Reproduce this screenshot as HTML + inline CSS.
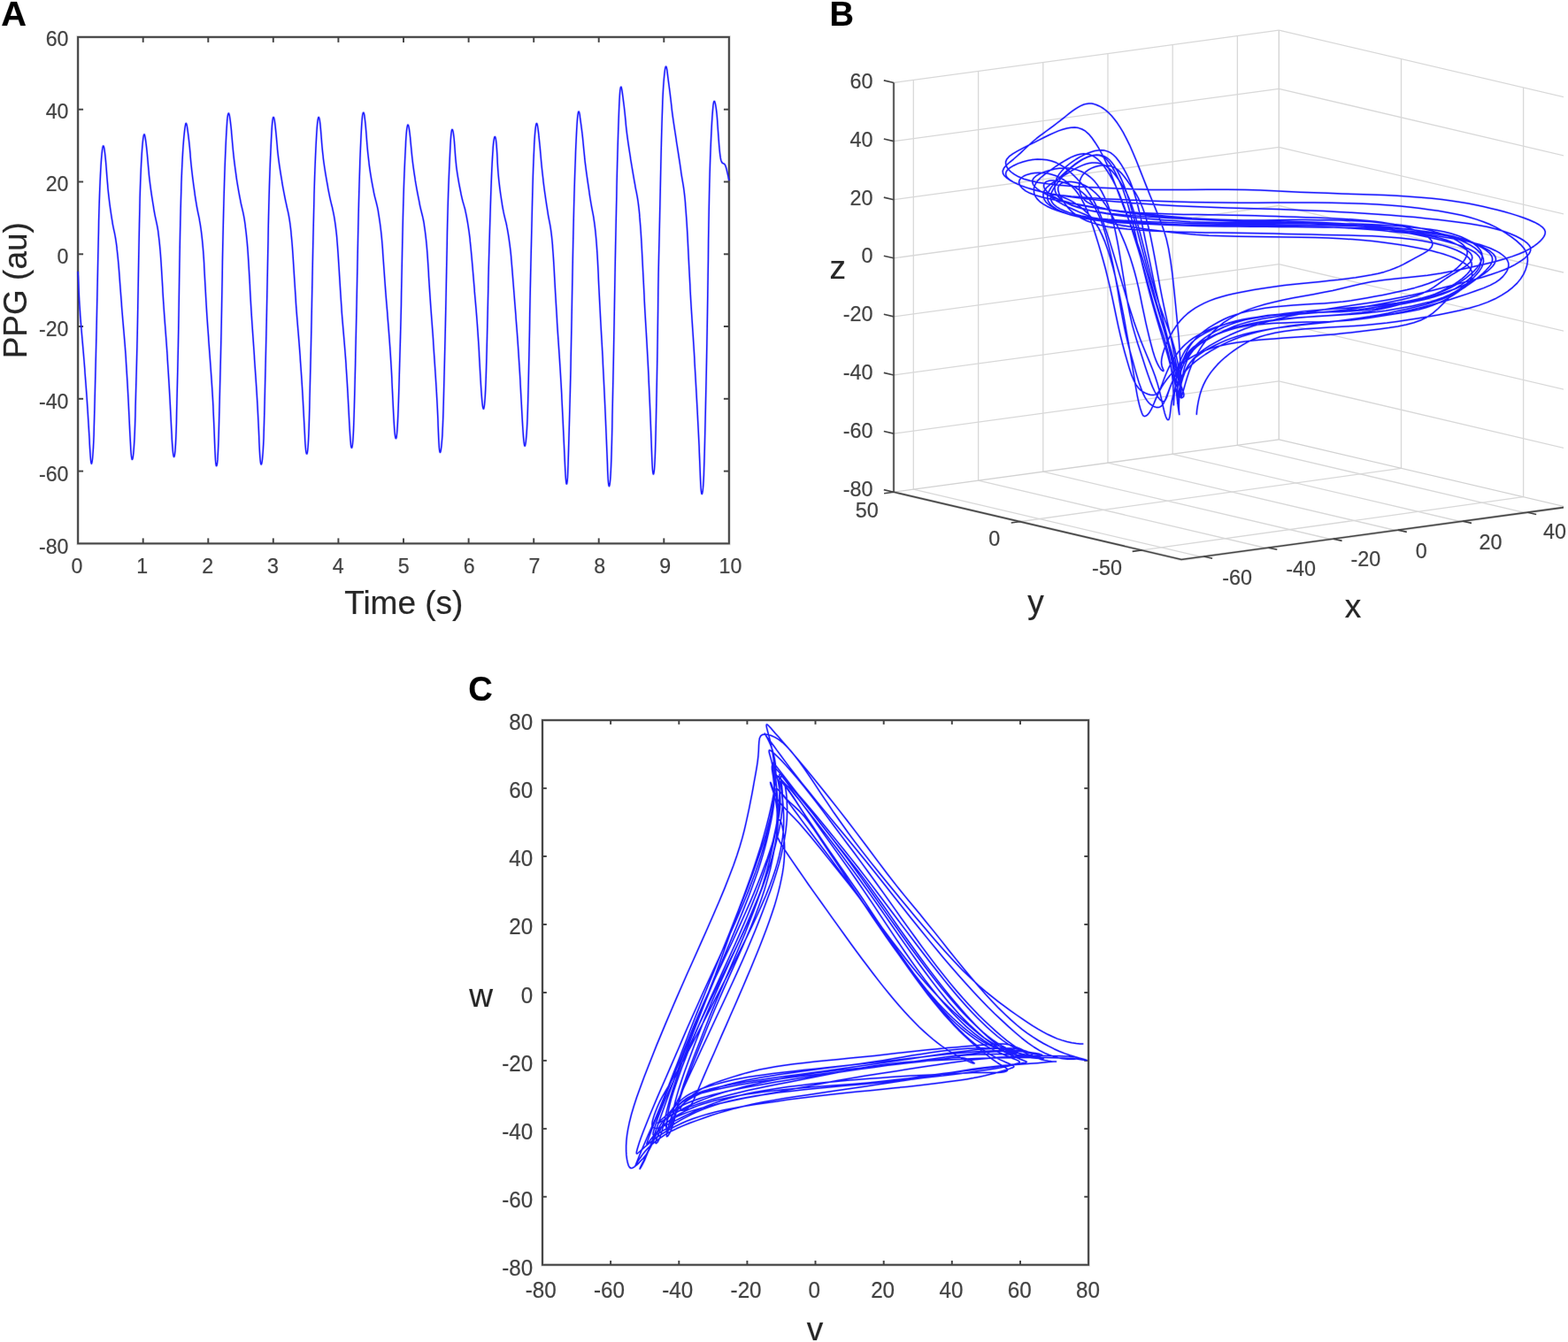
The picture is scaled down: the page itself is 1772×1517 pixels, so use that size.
<!DOCTYPE html>
<html lang="en"><head><meta charset="utf-8"><title>PPG signal and attractor reconstruction</title>
<style>
html,body{margin:0;padding:0;background:#fff;}
body{width:1772px;height:1517px;overflow:hidden;}
svg{display:block;font-family:'Liberation Sans', Arial, Helvetica, sans-serif;}
</style></head><body>
<svg width="1772" height="1517" viewBox="0 0 1772 1517">

<rect width="1772" height="1517" fill="#fff"/>
<g>
<text transform="translate(1.3 29) scale(1.03 1.0)" font-size="38.6" text-anchor="start" fill="#000" stroke="#000" stroke-width="0.7" stroke-opacity="0.3" font-weight="bold">A</text>
<text transform="translate(937.6 29.1)" font-size="38.0" text-anchor="start" fill="#000" stroke="#000" stroke-width="0.7" stroke-opacity="0.3" font-weight="bold">B</text>
<text transform="translate(529.3 791.7)" font-size="38.0" text-anchor="start" fill="#000" stroke="#000" stroke-width="0.7" stroke-opacity="0.3" font-weight="bold">C</text>
<rect x="88.1" y="41.9" width="735.8" height="572.5" fill="none" stroke="#444444" stroke-width="3.6" stroke-opacity="0.2"/>
<rect x="88.1" y="41.9" width="735.8" height="572.5" fill="none" stroke="#444444" stroke-width="1.95"/>
<line x1="161.7" y1="614.4" x2="161.7" y2="608.4" stroke="#444444" stroke-width="1.95"/>
<line x1="161.7" y1="41.9" x2="161.7" y2="47.9" stroke="#444444" stroke-width="1.95"/>
<line x1="235.3" y1="614.4" x2="235.3" y2="608.4" stroke="#444444" stroke-width="1.95"/>
<line x1="235.3" y1="41.9" x2="235.3" y2="47.9" stroke="#444444" stroke-width="1.95"/>
<line x1="308.8" y1="614.4" x2="308.8" y2="608.4" stroke="#444444" stroke-width="1.95"/>
<line x1="308.8" y1="41.9" x2="308.8" y2="47.9" stroke="#444444" stroke-width="1.95"/>
<line x1="382.4" y1="614.4" x2="382.4" y2="608.4" stroke="#444444" stroke-width="1.95"/>
<line x1="382.4" y1="41.9" x2="382.4" y2="47.9" stroke="#444444" stroke-width="1.95"/>
<line x1="456" y1="614.4" x2="456" y2="608.4" stroke="#444444" stroke-width="1.95"/>
<line x1="456" y1="41.9" x2="456" y2="47.9" stroke="#444444" stroke-width="1.95"/>
<line x1="529.6" y1="614.4" x2="529.6" y2="608.4" stroke="#444444" stroke-width="1.95"/>
<line x1="529.6" y1="41.9" x2="529.6" y2="47.9" stroke="#444444" stroke-width="1.95"/>
<line x1="603.2" y1="614.4" x2="603.2" y2="608.4" stroke="#444444" stroke-width="1.95"/>
<line x1="603.2" y1="41.9" x2="603.2" y2="47.9" stroke="#444444" stroke-width="1.95"/>
<line x1="676.7" y1="614.4" x2="676.7" y2="608.4" stroke="#444444" stroke-width="1.95"/>
<line x1="676.7" y1="41.9" x2="676.7" y2="47.9" stroke="#444444" stroke-width="1.95"/>
<line x1="750.3" y1="614.4" x2="750.3" y2="608.4" stroke="#444444" stroke-width="1.95"/>
<line x1="750.3" y1="41.9" x2="750.3" y2="47.9" stroke="#444444" stroke-width="1.95"/>
<text transform="translate(86.9 647.9) scale(1.0 1.05)" font-size="23.2" text-anchor="middle" fill="#424242" stroke="#424242" stroke-width="0.7" stroke-opacity="0.3">0</text>
<text transform="translate(160.8 647.9) scale(1.0 1.05)" font-size="23.2" text-anchor="middle" fill="#424242" stroke="#424242" stroke-width="0.7" stroke-opacity="0.3">1</text>
<text transform="translate(234.6 647.9) scale(1.0 1.05)" font-size="23.2" text-anchor="middle" fill="#424242" stroke="#424242" stroke-width="0.7" stroke-opacity="0.3">2</text>
<text transform="translate(308.5 647.9) scale(1.0 1.05)" font-size="23.2" text-anchor="middle" fill="#424242" stroke="#424242" stroke-width="0.7" stroke-opacity="0.3">3</text>
<text transform="translate(382.3 647.9) scale(1.0 1.05)" font-size="23.2" text-anchor="middle" fill="#424242" stroke="#424242" stroke-width="0.7" stroke-opacity="0.3">4</text>
<text transform="translate(456.2 647.9) scale(1.0 1.05)" font-size="23.2" text-anchor="middle" fill="#424242" stroke="#424242" stroke-width="0.7" stroke-opacity="0.3">5</text>
<text transform="translate(530.1 647.9) scale(1.0 1.05)" font-size="23.2" text-anchor="middle" fill="#424242" stroke="#424242" stroke-width="0.7" stroke-opacity="0.3">6</text>
<text transform="translate(603.9 647.9) scale(1.0 1.05)" font-size="23.2" text-anchor="middle" fill="#424242" stroke="#424242" stroke-width="0.7" stroke-opacity="0.3">7</text>
<text transform="translate(677.8 647.9) scale(1.0 1.05)" font-size="23.2" text-anchor="middle" fill="#424242" stroke="#424242" stroke-width="0.7" stroke-opacity="0.3">8</text>
<text transform="translate(751.6 647.9) scale(1.0 1.05)" font-size="23.2" text-anchor="middle" fill="#424242" stroke="#424242" stroke-width="0.7" stroke-opacity="0.3">9</text>
<text transform="translate(825.5 647.9) scale(1.0 1.05)" font-size="23.2" text-anchor="middle" fill="#424242" stroke="#424242" stroke-width="0.7" stroke-opacity="0.3">10</text>
<text transform="translate(77.5 51.6) scale(1.0 1.05)" font-size="23.2" text-anchor="end" fill="#424242" stroke="#424242" stroke-width="0.7" stroke-opacity="0.3">60</text>
<line x1="88.1" y1="123.7" x2="94.1" y2="123.7" stroke="#444444" stroke-width="1.95"/>
<line x1="823.9" y1="123.7" x2="817.9" y2="123.7" stroke="#444444" stroke-width="1.95"/>
<text transform="translate(77.5 133.7) scale(1.0 1.05)" font-size="23.2" text-anchor="end" fill="#424242" stroke="#424242" stroke-width="0.7" stroke-opacity="0.3">40</text>
<line x1="88.1" y1="205.5" x2="94.1" y2="205.5" stroke="#444444" stroke-width="1.95"/>
<line x1="823.9" y1="205.5" x2="817.9" y2="205.5" stroke="#444444" stroke-width="1.95"/>
<text transform="translate(77.5 215.7) scale(1.0 1.05)" font-size="23.2" text-anchor="end" fill="#424242" stroke="#424242" stroke-width="0.7" stroke-opacity="0.3">20</text>
<line x1="88.1" y1="287.3" x2="94.1" y2="287.3" stroke="#444444" stroke-width="1.95"/>
<line x1="823.9" y1="287.3" x2="817.9" y2="287.3" stroke="#444444" stroke-width="1.95"/>
<text transform="translate(77.5 297.8) scale(1.0 1.05)" font-size="23.2" text-anchor="end" fill="#424242" stroke="#424242" stroke-width="0.7" stroke-opacity="0.3">0</text>
<line x1="88.1" y1="369" x2="94.1" y2="369" stroke="#444444" stroke-width="1.95"/>
<line x1="823.9" y1="369" x2="817.9" y2="369" stroke="#444444" stroke-width="1.95"/>
<text transform="translate(77.5 379.9) scale(1.0 1.05)" font-size="23.2" text-anchor="end" fill="#424242" stroke="#424242" stroke-width="0.7" stroke-opacity="0.3">-20</text>
<line x1="88.1" y1="450.8" x2="94.1" y2="450.8" stroke="#444444" stroke-width="1.95"/>
<line x1="823.9" y1="450.8" x2="817.9" y2="450.8" stroke="#444444" stroke-width="1.95"/>
<text transform="translate(77.5 462) scale(1.0 1.05)" font-size="23.2" text-anchor="end" fill="#424242" stroke="#424242" stroke-width="0.7" stroke-opacity="0.3">-40</text>
<line x1="88.1" y1="532.6" x2="94.1" y2="532.6" stroke="#444444" stroke-width="1.95"/>
<line x1="823.9" y1="532.6" x2="817.9" y2="532.6" stroke="#444444" stroke-width="1.95"/>
<text transform="translate(77.5 544) scale(1.0 1.05)" font-size="23.2" text-anchor="end" fill="#424242" stroke="#424242" stroke-width="0.7" stroke-opacity="0.3">-60</text>
<text transform="translate(77.5 626.1) scale(1.0 1.05)" font-size="23.2" text-anchor="end" fill="#424242" stroke="#424242" stroke-width="0.7" stroke-opacity="0.3">-80</text>
<text transform="translate(456.3 693.5)" font-size="37.0" text-anchor="middle" fill="#262626" stroke="#262626" stroke-width="0.7" stroke-opacity="0.3">Time (s)</text>
<text transform="translate(29.7 328.2) rotate(-90)" font-size="37.0" text-anchor="middle" fill="#262626" stroke="#262626" stroke-width="0.7" stroke-opacity="0.3">PPG (au)</text>
<path d="M88.1 307.5 L88.4 312.5 L88.7 319.2 L89 326.5 L89.3 333.4 L89.6 339.2 L89.9 344.2 L90.2 348.6 L90.5 352.7 L90.7 356.6 L91 360.4 L91.3 364.1 L91.6 367.7 L91.9 371.3 L92.2 374.8 L92.5 378.3 L92.8 381.7 L93.1 385.2 L93.4 388.6 L93.7 392.1 L94 395.6 L94.3 399.1 L94.6 402.7 L94.9 406.3 L95.2 410 L95.5 413.7 L95.8 417.4 L96 421.2 L96.3 425 L96.6 428.9 L96.9 432.8 L97.2 436.7 L97.5 440.8 L97.8 444.9 L98.1 449.2 L98.4 453.6 L98.7 458.1 L99 462.8 L99.3 467.5 L99.6 472.4 L99.9 477.2 L100.2 482.1 L100.5 487.1 L100.8 492 L101.1 497.1 L101.3 502.2 L101.6 507.1 L101.9 511.8 L102.2 516 L102.5 519.5 L102.8 522.1 L103.1 523.7 L103.4 524.2 L103.7 523.7 L104 522.4 L104.3 520.4 L104.6 517.6 L104.9 514.2 L105.2 510 L105.5 505 L105.8 499 L106.1 491.6 L106.3 482.7 L106.6 472.4 L106.9 461 L107.2 449.1 L107.5 437 L107.8 424.9 L108.1 412.9 L108.4 400.7 L108.7 388 L109 374.9 L109.3 361.2 L109.6 347 L109.9 332.5 L110.2 318 L110.5 303.5 L110.8 289.2 L111.1 275.5 L111.4 262.5 L111.6 250.4 L111.9 239.3 L112.2 229.4 L112.5 220.7 L112.8 212.8 L113.1 205.8 L113.4 199.4 L113.7 193.6 L114 188.3 L114.3 183.5 L114.6 179.3 L114.9 175.7 L115.2 172.7 L115.5 170.1 L115.8 168.1 L116.1 166.5 L116.4 165.4 L116.6 164.9 L116.9 164.9 L117.2 165.4 L117.5 166.4 L117.8 167.9 L118.1 169.8 L118.4 172 L118.7 174.4 L119 177.2 L119.3 180.1 L119.6 183.4 L119.9 187 L120.2 190.9 L120.5 194.9 L120.8 198.9 L121.1 202.6 L121.4 206.1 L121.7 209.4 L121.9 212.5 L122.2 215.4 L122.5 218.2 L122.8 220.9 L123.1 223.5 L123.4 226 L123.7 228.5 L124 230.8 L124.3 233.1 L124.6 235.3 L124.9 237.4 L125.2 239.5 L125.5 241.5 L125.8 243.5 L126.1 245.4 L126.4 247.3 L126.7 249.1 L127 250.9 L127.2 252.6 L127.5 254.2 L127.8 255.7 L128.1 257.2 L128.4 258.6 L128.7 260 L129 261.3 L129.3 262.7 L129.6 264.2 L129.9 265.7 L130.2 267.3 L130.5 269 L130.8 270.8 L131.1 272.8 L131.4 274.9 L131.7 277.1 L132 279.4 L132.2 281.9 L132.5 284.5 L132.8 287.2 L133.1 290 L133.4 293 L133.7 296.2 L134 299.5 L134.3 303.1 L134.6 306.9 L134.9 310.9 L135.2 315 L135.5 319.1 L135.8 323.2 L136.1 327.1 L136.4 331 L136.7 334.9 L137 338.6 L137.3 342.4 L137.5 346.1 L137.8 349.8 L138.1 353.4 L138.4 357 L138.7 360.6 L139 364.1 L139.3 367.6 L139.6 371.1 L139.9 374.5 L140.2 378 L140.5 381.6 L140.8 385.2 L141.1 388.9 L141.4 392.7 L141.7 396.6 L142 400.7 L142.3 405 L142.5 409.4 L142.8 413.9 L143.1 418.6 L143.4 423.4 L143.7 428.3 L144 433.4 L144.3 438.7 L144.6 444.2 L144.9 449.9 L145.2 455.8 L145.5 462 L145.8 468.3 L146.1 474.7 L146.4 481 L146.7 487.2 L147 493.1 L147.3 498.7 L147.6 503.8 L147.8 508.2 L148.1 512 L148.4 515 L148.7 517.2 L149 518.7 L149.3 519.4 L149.6 519.3 L149.9 518.5 L150.2 517.1 L150.5 515 L150.8 512.3 L151.1 509 L151.4 505.1 L151.7 500.4 L152 494.8 L152.3 488 L152.6 479.8 L152.9 470.2 L153.1 459.7 L153.4 448.7 L153.7 437.6 L154 426.6 L154.3 415.5 L154.6 404.1 L154.9 391.7 L155.2 377.9 L155.5 362.6 L155.8 345.8 L156.1 328.3 L156.4 310.8 L156.7 293.8 L157 277.7 L157.3 262.5 L157.6 248.5 L157.9 235.8 L158.1 224.5 L158.4 214.6 L158.7 206 L159 198.4 L159.3 191.6 L159.6 185.4 L159.9 179.9 L160.2 174.8 L160.5 170.2 L160.8 166.2 L161.1 162.7 L161.4 159.7 L161.7 157.1 L162 155.1 L162.3 153.5 L162.6 152.4 L162.9 151.9 L163.2 151.9 L163.4 152.4 L163.7 153.4 L164 154.8 L164.3 156.6 L164.6 158.6 L164.9 160.9 L165.2 163.3 L165.5 165.9 L165.8 168.6 L166.1 171.5 L166.4 174.7 L166.7 178 L167 181.5 L167.3 185 L167.6 188.4 L167.9 191.7 L168.2 194.7 L168.4 197.6 L168.7 200.3 L169 202.9 L169.3 205.4 L169.6 207.8 L169.9 210.1 L170.2 212.4 L170.5 214.6 L170.8 216.7 L171.1 218.8 L171.4 220.8 L171.7 222.8 L172 224.7 L172.3 226.6 L172.6 228.5 L172.9 230.3 L173.2 232.1 L173.5 233.9 L173.7 235.6 L174 237.3 L174.3 239 L174.6 240.7 L174.9 242.3 L175.2 243.8 L175.5 245.3 L175.8 246.7 L176.1 248.1 L176.4 249.4 L176.7 250.8 L177 252.2 L177.3 253.6 L177.6 255.1 L177.9 256.7 L178.2 258.4 L178.5 260.2 L178.8 262.2 L179 264.3 L179.3 266.6 L179.6 269 L179.9 271.7 L180.2 274.5 L180.5 277.4 L180.8 280.6 L181.1 284 L181.4 287.7 L181.7 291.7 L182 296.1 L182.3 300.8 L182.6 305.8 L182.9 310.8 L183.2 315.8 L183.5 320.8 L183.8 325.7 L184 330.4 L184.3 335.1 L184.6 339.8 L184.9 344.3 L185.2 348.8 L185.5 353.1 L185.8 357.3 L186.1 361.4 L186.4 365.4 L186.7 369.3 L187 373.3 L187.3 377.2 L187.6 381.1 L187.9 385.2 L188.2 389.3 L188.5 393.5 L188.8 397.8 L189.1 402.2 L189.3 406.6 L189.6 411.2 L189.9 415.8 L190.2 420.4 L190.5 425.2 L190.8 430.1 L191.1 435.1 L191.4 440.2 L191.7 445.6 L192 451.2 L192.3 456.9 L192.6 462.8 L192.9 468.8 L193.2 474.8 L193.5 480.6 L193.8 486.2 L194.1 491.5 L194.3 496.4 L194.6 500.9 L194.9 504.9 L195.2 508.5 L195.5 511.4 L195.8 513.7 L196.1 515.3 L196.4 516.2 L196.7 516.4 L197 515.8 L197.3 514.6 L197.6 512.6 L197.9 509.8 L198.2 506 L198.5 501.1 L198.8 494.9 L199.1 487.2 L199.4 477.9 L199.6 467.2 L199.9 455.4 L200.2 443 L200.5 430.5 L200.8 417.8 L201.1 404.6 L201.4 390.3 L201.7 374.1 L202 356 L202.3 336.6 L202.6 317.1 L202.9 298.4 L203.2 281.2 L203.5 265.6 L203.8 251.5 L204.1 238.9 L204.4 227.6 L204.7 217.6 L204.9 208.6 L205.2 200.5 L205.5 193.3 L205.8 186.7 L206.1 180.6 L206.4 175.1 L206.7 170 L207 165.5 L207.3 161.5 L207.6 157.8 L207.9 154.4 L208.2 151.4 L208.5 148.6 L208.8 146.1 L209.1 143.9 L209.4 142.1 L209.7 140.7 L209.9 139.8 L210.2 139.4 L210.5 139.6 L210.8 140.3 L211.1 141.4 L211.4 142.9 L211.7 144.8 L212 146.8 L212.3 149 L212.6 151.4 L212.9 153.7 L213.2 156.2 L213.5 158.7 L213.8 161.4 L214.1 164.3 L214.4 167.3 L214.7 170.6 L215 173.9 L215.2 177.3 L215.5 180.5 L215.8 183.7 L216.1 186.7 L216.4 189.5 L216.7 192.3 L217 194.9 L217.3 197.5 L217.6 200 L217.9 202.4 L218.2 204.7 L218.5 207 L218.8 209.3 L219.1 211.5 L219.4 213.6 L219.7 215.7 L220 217.8 L220.2 219.8 L220.5 221.7 L220.8 223.7 L221.1 225.6 L221.4 227.4 L221.7 229.2 L222 231 L222.3 232.8 L222.6 234.5 L222.9 236.1 L223.2 237.7 L223.5 239.2 L223.8 240.6 L224.1 242 L224.4 243.4 L224.7 244.8 L225 246.2 L225.3 247.7 L225.5 249.2 L225.8 250.8 L226.1 252.5 L226.4 254.3 L226.7 256.3 L227 258.3 L227.3 260.6 L227.6 262.9 L227.9 265.4 L228.2 268.1 L228.5 270.9 L228.8 273.9 L229.1 277.1 L229.4 280.5 L229.7 284.1 L230 288.2 L230.3 292.6 L230.6 297.5 L230.8 302.6 L231.1 308 L231.4 313.5 L231.7 318.9 L232 324.4 L232.3 329.8 L232.6 335.2 L232.9 340.5 L233.2 345.7 L233.5 350.8 L233.8 355.6 L234.1 360.2 L234.4 364.5 L234.7 368.8 L235 372.8 L235.3 376.8 L235.6 380.8 L235.8 384.7 L236.1 388.7 L236.4 392.6 L236.7 396.6 L237 400.7 L237.3 404.8 L237.6 408.9 L237.9 413 L238.2 417.2 L238.5 421.4 L238.8 425.6 L239.1 429.9 L239.4 434.4 L239.7 438.9 L240 443.6 L240.3 448.6 L240.6 453.8 L240.9 459.4 L241.1 465.3 L241.4 471.6 L241.7 478.3 L242 485.4 L242.3 493.1 L242.6 500.9 L242.9 508.4 L243.2 514.8 L243.5 519.7 L243.8 523.2 L244.1 525.3 L244.4 526.5 L244.7 526.7 L245 526.2 L245.3 524.9 L245.6 522.9 L245.9 519.9 L246.1 515.9 L246.4 510.8 L246.7 504.2 L247 496.1 L247.3 486.4 L247.6 475.4 L247.9 463.5 L248.2 451.2 L248.5 438.9 L248.8 426.9 L249.1 415.1 L249.4 403 L249.7 390.1 L250 376.3 L250.3 361.1 L250.6 345 L250.9 328.4 L251.2 312 L251.4 296.2 L251.7 281.2 L252 267 L252.3 253.7 L252.6 241.3 L252.9 229.5 L253.2 218.5 L253.5 208.2 L253.8 198.6 L254.1 189.8 L254.4 181.8 L254.7 174.3 L255 167.4 L255.3 160.8 L255.6 154.7 L255.9 149.1 L256.2 144.2 L256.5 139.9 L256.7 136.4 L257 133.5 L257.3 131.3 L257.6 129.6 L257.9 128.6 L258.2 128.1 L258.5 128.1 L258.8 128.6 L259.1 129.6 L259.4 131 L259.7 132.8 L260 134.8 L260.3 137.1 L260.6 139.6 L260.9 142.2 L261.2 144.9 L261.5 147.8 L261.7 150.9 L262 154.1 L262.3 157.5 L262.6 161 L262.9 164.4 L263.2 167.7 L263.5 170.8 L263.8 173.8 L264.1 176.6 L264.4 179.3 L264.7 181.9 L265 184.3 L265.3 186.7 L265.6 189 L265.9 191.3 L266.2 193.5 L266.5 195.6 L266.8 197.7 L267 199.7 L267.3 201.7 L267.6 203.6 L267.9 205.5 L268.2 207.3 L268.5 209.2 L268.8 210.9 L269.1 212.7 L269.4 214.4 L269.7 216.1 L270 217.8 L270.3 219.4 L270.6 221 L270.9 222.6 L271.2 224.2 L271.5 225.7 L271.8 227.2 L272 228.6 L272.3 229.9 L272.6 231.3 L272.9 232.5 L273.2 233.8 L273.5 235 L273.8 236.3 L274.1 237.6 L274.4 238.9 L274.7 240.2 L275 241.7 L275.3 243.2 L275.6 244.7 L275.9 246.4 L276.2 248.2 L276.5 250.1 L276.8 252.1 L277.1 254.2 L277.3 256.4 L277.6 258.7 L277.9 261.1 L278.2 263.7 L278.5 266.4 L278.8 269.3 L279.1 272.3 L279.4 275.6 L279.7 279.1 L280 283 L280.3 287.3 L280.6 291.9 L280.9 296.7 L281.2 301.7 L281.5 306.9 L281.8 312 L282.1 317.2 L282.4 322.5 L282.6 327.8 L282.9 333.1 L283.2 338.4 L283.5 343.6 L283.8 348.7 L284.1 353.6 L284.4 358.4 L284.7 363 L285 367.5 L285.3 371.9 L285.6 376.2 L285.9 380.5 L286.2 384.9 L286.5 389.2 L286.8 393.5 L287.1 397.9 L287.4 402.2 L287.6 406.5 L287.9 410.8 L288.2 415.1 L288.5 419.4 L288.8 423.7 L289.1 428.1 L289.4 432.5 L289.7 437 L290 441.6 L290.3 446.5 L290.6 451.5 L290.9 456.8 L291.2 462.4 L291.5 468.2 L291.8 474.2 L292.1 480.4 L292.4 486.9 L292.7 493.5 L292.9 500.1 L293.2 506.3 L293.5 511.8 L293.8 516.4 L294.1 519.8 L294.4 522.4 L294.7 524 L295 524.9 L295.3 525 L295.6 524.4 L295.9 523.2 L296.2 521.3 L296.5 518.8 L296.8 515.6 L297.1 511.8 L297.4 507.3 L297.7 502 L298 495.5 L298.2 487.4 L298.5 477.8 L298.8 466.7 L299.1 454.5 L299.4 441.9 L299.7 429.1 L300 416.3 L300.3 403.5 L300.6 390.4 L300.9 376.9 L301.2 362.9 L301.5 348.3 L301.8 333.4 L302.1 318.2 L302.4 303 L302.7 287.8 L303 272.9 L303.2 258.7 L303.5 245.3 L303.8 233 L304.1 221.7 L304.4 211.4 L304.7 202 L305 193.5 L305.3 185.8 L305.6 178.6 L305.9 171.7 L306.2 165.1 L306.5 158.6 L306.8 152.5 L307.1 147.1 L307.4 142.6 L307.7 139.1 L308 136.4 L308.3 134.5 L308.5 133.3 L308.8 132.6 L309.1 132.5 L309.4 132.8 L309.7 133.7 L310 134.9 L310.3 136.5 L310.6 138.5 L310.9 140.9 L311.2 143.5 L311.5 146.3 L311.8 149.3 L312.1 152.4 L312.4 155.6 L312.7 159 L313 162.3 L313.3 165.5 L313.5 168.5 L313.8 171.4 L314.1 174.1 L314.4 176.6 L314.7 179.1 L315 181.4 L315.3 183.6 L315.6 185.8 L315.9 187.9 L316.2 189.9 L316.5 191.9 L316.8 193.8 L317.1 195.7 L317.4 197.6 L317.7 199.4 L318 201.2 L318.3 203 L318.6 204.7 L318.8 206.5 L319.1 208.2 L319.4 209.8 L319.7 211.5 L320 213.1 L320.3 214.7 L320.6 216.3 L320.9 217.9 L321.2 219.4 L321.5 221 L321.8 222.5 L322.1 224 L322.4 225.5 L322.7 227 L323 228.4 L323.3 229.7 L323.6 231 L323.9 232.3 L324.1 233.5 L324.4 234.8 L324.7 236 L325 237.3 L325.3 238.6 L325.6 239.9 L325.9 241.4 L326.2 242.9 L326.5 244.5 L326.8 246.3 L327.1 248.1 L327.4 250.1 L327.7 252.2 L328 254.5 L328.3 256.9 L328.6 259.4 L328.9 262.1 L329.1 265 L329.4 267.9 L329.7 271.1 L330 274.5 L330.3 278.2 L330.6 282.2 L330.9 286.5 L331.2 291.1 L331.5 295.8 L331.8 300.6 L332.1 305.4 L332.4 310.1 L332.7 314.9 L333 319.5 L333.3 324.2 L333.6 328.9 L333.9 333.4 L334.2 337.9 L334.4 342.2 L334.7 346.4 L335 350.5 L335.3 354.4 L335.6 358.1 L335.9 361.8 L336.2 365.5 L336.5 369.1 L336.8 372.7 L337.1 376.3 L337.4 379.9 L337.7 383.6 L338 387.4 L338.3 391.2 L338.6 395.1 L338.9 399.1 L339.2 403 L339.4 407.1 L339.7 411.2 L340 415.4 L340.3 419.7 L340.6 424 L340.9 428.5 L341.2 433.1 L341.5 437.8 L341.8 442.8 L342.1 447.9 L342.4 453.2 L342.7 458.7 L343 464.3 L343.3 470 L343.6 475.7 L343.9 481.5 L344.2 487.2 L344.5 492.7 L344.7 497.8 L345 502.2 L345.3 505.8 L345.6 508.7 L345.9 510.9 L346.2 512.3 L346.5 513.1 L346.8 513.1 L347.1 512.4 L347.4 511.1 L347.7 508.9 L348 505.9 L348.3 501.8 L348.6 496.5 L348.9 489.8 L349.2 481.6 L349.5 472 L349.8 461.3 L350 449.9 L350.3 438.2 L350.6 426.3 L350.9 414.2 L351.2 401.7 L351.5 388.6 L351.8 374.6 L352.1 359.8 L352.4 344.5 L352.7 329 L353 313.5 L353.3 298.3 L353.6 283.6 L353.9 269.5 L354.2 256 L354.5 243.3 L354.8 231.4 L355 220.3 L355.3 210 L355.6 200.6 L355.9 192 L356.2 184.2 L356.5 177 L356.8 170.4 L357.1 164.1 L357.4 158.2 L357.7 152.8 L358 148 L358.3 143.9 L358.6 140.5 L358.9 137.7 L359.2 135.5 L359.5 134 L359.8 133 L360.1 132.5 L360.3 132.6 L360.6 133.1 L360.9 134.1 L361.2 135.6 L361.5 137.5 L361.8 139.9 L362.1 142.8 L362.4 146 L362.7 149.6 L363 153.5 L363.3 157.4 L363.6 161.3 L363.9 164.9 L364.2 168.1 L364.5 171.1 L364.8 173.8 L365.1 176.3 L365.3 178.8 L365.6 181 L365.9 183.3 L366.2 185.4 L366.5 187.5 L366.8 189.5 L367.1 191.5 L367.4 193.4 L367.7 195.3 L368 197.1 L368.3 198.9 L368.6 200.7 L368.9 202.4 L369.2 204.1 L369.5 205.8 L369.8 207.5 L370.1 209.1 L370.4 210.7 L370.6 212.3 L370.9 213.8 L371.2 215.4 L371.5 216.9 L371.8 218.4 L372.1 219.9 L372.4 221.3 L372.7 222.8 L373 224.2 L373.3 225.6 L373.6 226.9 L373.9 228.2 L374.2 229.4 L374.5 230.6 L374.8 231.8 L375.1 233 L375.4 234.1 L375.7 235.3 L375.9 236.6 L376.2 237.8 L376.5 239.2 L376.8 240.6 L377.1 242.1 L377.4 243.7 L377.7 245.4 L378 247.2 L378.3 249.1 L378.6 251.1 L378.9 253.2 L379.2 255.4 L379.5 257.8 L379.8 260.3 L380.1 262.9 L380.4 265.7 L380.7 268.6 L380.9 271.8 L381.2 275.2 L381.5 279 L381.8 283.1 L382.1 287.4 L382.4 292 L382.7 296.7 L383 301.5 L383.3 306.3 L383.6 311.1 L383.9 315.9 L384.2 320.8 L384.5 325.6 L384.8 330.4 L385.1 335.1 L385.4 339.7 L385.7 344 L386 348.2 L386.2 352.2 L386.5 356 L386.8 359.8 L387.1 363.4 L387.4 366.9 L387.7 370.4 L388 373.9 L388.3 377.4 L388.6 380.9 L388.9 384.5 L389.2 388.1 L389.5 391.7 L389.8 395.4 L390.1 399.2 L390.4 403.1 L390.7 407 L391 411.1 L391.2 415.3 L391.5 419.7 L391.8 424.2 L392.1 428.9 L392.4 433.8 L392.7 438.9 L393 444.2 L393.3 449.7 L393.6 455.3 L393.9 461 L394.2 466.7 L394.5 472.5 L394.8 478.1 L395.1 483.5 L395.4 488.6 L395.7 493.2 L396 497.1 L396.3 500.3 L396.5 502.9 L396.8 504.7 L397.1 505.8 L397.4 506.2 L397.7 506 L398 505 L398.3 503.2 L398.6 500.6 L398.9 497.1 L399.2 492.4 L399.5 486.4 L399.8 478.9 L400.1 469.8 L400.4 459.5 L400.7 448.1 L401 436.2 L401.3 424.1 L401.6 412 L401.8 399.8 L402.1 387.4 L402.4 374.4 L402.7 360.9 L403 346.7 L403.3 331.9 L403.6 316.7 L403.9 301.4 L404.2 286.1 L404.5 271.3 L404.8 257 L405.1 243.5 L405.4 231 L405.7 219.4 L406 208.7 L406.3 198.9 L406.6 190 L406.8 182 L407.1 174.6 L407.4 167.6 L407.7 161 L408 154.6 L408.3 148.5 L408.6 143.1 L408.9 138.5 L409.2 134.7 L409.5 131.8 L409.8 129.7 L410.1 128.3 L410.4 127.5 L410.7 127.2 L411 127.4 L411.3 128.2 L411.6 129.3 L411.9 130.9 L412.1 132.8 L412.4 135 L412.7 137.6 L413 140.4 L413.3 143.6 L413.6 147.1 L413.9 150.9 L414.2 154.9 L414.5 158.9 L414.8 162.8 L415.1 166.3 L415.4 169.6 L415.7 172.6 L416 175.4 L416.3 178 L416.6 180.6 L416.9 183 L417.1 185.3 L417.4 187.6 L417.7 189.7 L418 191.8 L418.3 193.8 L418.6 195.8 L418.9 197.7 L419.2 199.6 L419.5 201.4 L419.8 203.1 L420.1 204.9 L420.4 206.5 L420.7 208.2 L421 209.8 L421.3 211.3 L421.6 212.9 L421.9 214.4 L422.2 215.9 L422.4 217.3 L422.7 218.7 L423 220 L423.3 221.3 L423.6 222.6 L423.9 223.7 L424.2 224.9 L424.5 226.1 L424.8 227.2 L425.1 228.4 L425.4 229.5 L425.7 230.8 L426 232 L426.3 233.3 L426.6 234.7 L426.9 236.2 L427.2 237.7 L427.5 239.4 L427.7 241 L428 242.8 L428.3 244.7 L428.6 246.6 L428.9 248.6 L429.2 250.7 L429.5 252.9 L429.8 255.2 L430.1 257.5 L430.4 260 L430.7 262.7 L431 265.4 L431.3 268.4 L431.6 271.7 L431.9 275.2 L432.2 278.9 L432.5 282.9 L432.7 286.9 L433 291 L433.3 295.2 L433.6 299.4 L433.9 303.6 L434.2 307.7 L434.5 312 L434.8 316.2 L435.1 320.3 L435.4 324.4 L435.7 328.4 L436 332.4 L436.3 336.2 L436.6 339.9 L436.9 343.5 L437.2 347 L437.5 350.5 L437.8 354 L438 357.5 L438.3 361.1 L438.6 364.7 L438.9 368.4 L439.2 372.1 L439.5 376 L439.8 379.9 L440.1 384 L440.4 388.2 L440.7 392.4 L441 396.8 L441.3 401.4 L441.6 406.1 L441.9 411 L442.2 416 L442.5 421.3 L442.8 426.9 L443 432.7 L443.3 438.7 L443.6 444.9 L443.9 451.2 L444.2 457.4 L444.5 463.5 L444.8 469.5 L445.1 475 L445.4 480 L445.7 484.4 L446 488 L446.3 490.9 L446.6 493.1 L446.9 494.7 L447.2 495.5 L447.5 495.7 L447.8 495.2 L448.1 494.1 L448.3 492.2 L448.6 489.5 L448.9 485.9 L449.2 481.4 L449.5 475.9 L449.8 469.4 L450.1 461.9 L450.4 453.3 L450.7 443.9 L451 433.7 L451.3 423.1 L451.6 412.5 L451.9 401.9 L452.2 391.5 L452.5 380.9 L452.8 369.8 L453.1 358.1 L453.4 345.3 L453.6 331.5 L453.9 316.9 L454.2 302 L454.5 287.1 L454.8 272.7 L455.1 259 L455.4 246.1 L455.7 234.3 L456 223.5 L456.3 213.7 L456.6 204.8 L456.9 196.9 L457.2 189.6 L457.5 183 L457.8 176.8 L458.1 170.8 L458.4 165.1 L458.6 159.9 L458.9 155.2 L459.2 151.3 L459.5 148 L459.8 145.5 L460.1 143.6 L460.4 142.3 L460.7 141.4 L461 141.1 L461.3 141.3 L461.6 142 L461.9 143.1 L462.2 144.6 L462.5 146.4 L462.8 148.6 L463.1 151 L463.4 153.5 L463.7 156.2 L463.9 159.1 L464.2 162 L464.5 165.1 L464.8 168.2 L465.1 171.4 L465.4 174.4 L465.7 177.3 L466 180 L466.3 182.6 L466.6 185 L466.9 187.3 L467.2 189.6 L467.5 191.7 L467.8 193.8 L468.1 195.8 L468.4 197.8 L468.7 199.7 L469 201.6 L469.2 203.4 L469.5 205.2 L469.8 207 L470.1 208.7 L470.4 210.4 L470.7 212.1 L471 213.8 L471.3 215.4 L471.6 217 L471.9 218.6 L472.2 220.2 L472.5 221.7 L472.8 223.2 L473.1 224.7 L473.4 226.2 L473.7 227.7 L474 229.1 L474.2 230.6 L474.5 232 L474.8 233.4 L475.1 234.7 L475.4 236 L475.7 237.2 L476 238.4 L476.3 239.6 L476.6 240.8 L476.9 242 L477.2 243.2 L477.5 244.4 L477.8 245.7 L478.1 247.1 L478.4 248.5 L478.7 250 L479 251.7 L479.3 253.4 L479.5 255.3 L479.8 257.2 L480.1 259.3 L480.4 261.5 L480.7 263.9 L481 266.3 L481.3 269 L481.6 271.7 L481.9 274.7 L482.2 277.8 L482.5 281.3 L482.8 285 L483.1 289.1 L483.4 293.5 L483.7 298.1 L484 302.8 L484.3 307.5 L484.5 312.2 L484.8 316.9 L485.1 321.5 L485.4 326.1 L485.7 330.6 L486 335.1 L486.3 339.5 L486.6 343.9 L486.9 348.1 L487.2 352.2 L487.5 356.3 L487.8 360.2 L488.1 364.2 L488.4 368.1 L488.7 372.1 L489 376.2 L489.3 380.3 L489.6 384.5 L489.8 388.8 L490.1 393.2 L490.4 397.7 L490.7 402.1 L491 406.6 L491.3 411.1 L491.6 415.6 L491.9 420.2 L492.2 424.8 L492.5 429.5 L492.8 434.3 L493.1 439.3 L493.4 444.5 L493.7 449.9 L494 455.4 L494.3 461.2 L494.6 467.4 L494.9 473.9 L495.1 481 L495.4 488.3 L495.7 495.2 L496 501 L496.3 505.5 L496.6 508.5 L496.9 510.3 L497.2 511.2 L497.5 511.4 L497.8 510.8 L498.1 509.7 L498.4 508 L498.7 505.7 L499 503 L499.3 499.8 L499.6 496.2 L499.9 492.1 L500.1 487.1 L500.4 480.9 L500.7 473.1 L501 463.6 L501.3 452.7 L501.6 441 L501.9 429 L502.2 416.8 L502.5 404.6 L502.8 392.3 L503.1 379.5 L503.4 366.2 L503.7 352.2 L504 337.5 L504.3 322.4 L504.6 307.1 L504.9 292 L505.2 277.5 L505.4 263.8 L505.7 251.1 L506 239.5 L506.3 228.9 L506.6 219.3 L506.9 210.6 L507.2 202.8 L507.5 195.6 L507.8 188.9 L508.1 182.3 L508.4 175.8 L508.7 169.4 L509 163.4 L509.3 158.2 L509.6 154.1 L509.9 151.1 L510.2 148.9 L510.4 147.5 L510.7 146.7 L511 146.4 L511.3 146.6 L511.6 147.2 L511.9 148.2 L512.2 149.7 L512.5 151.5 L512.8 153.8 L513.1 156.5 L513.4 159.8 L513.7 163.6 L514 167.8 L514.3 172.2 L514.6 176.3 L514.9 179.9 L515.2 183 L515.5 185.7 L515.7 188.1 L516 190.4 L516.3 192.5 L516.6 194.6 L516.9 196.6 L517.2 198.5 L517.5 200.4 L517.8 202.2 L518.1 203.9 L518.4 205.6 L518.7 207.3 L519 208.9 L519.3 210.5 L519.6 212 L519.9 213.5 L520.2 215 L520.5 216.5 L520.8 217.9 L521 219.3 L521.3 220.6 L521.6 221.9 L521.9 223.2 L522.2 224.5 L522.5 225.7 L522.8 226.9 L523.1 228 L523.4 229 L523.7 230.1 L524 231.1 L524.3 232.1 L524.6 233.2 L524.9 234.2 L525.2 235.3 L525.5 236.5 L525.8 237.7 L526 238.9 L526.3 240.2 L526.6 241.6 L526.9 243.1 L527.2 244.6 L527.5 246.1 L527.8 247.8 L528.1 249.5 L528.4 251.2 L528.7 253 L529 254.9 L529.3 256.8 L529.6 258.8 L529.9 260.9 L530.2 263 L530.5 265.3 L530.8 267.6 L531.1 270.2 L531.3 272.9 L531.6 275.7 L531.9 278.6 L532.2 281.7 L532.5 284.8 L532.8 288 L533.1 291.3 L533.4 294.6 L533.7 298 L534 301.4 L534.3 305 L534.6 308.5 L534.9 312.1 L535.2 315.8 L535.5 319.4 L535.8 322.9 L536.1 326.4 L536.3 329.9 L536.6 333.3 L536.9 336.6 L537.2 340 L537.5 343.4 L537.8 346.9 L538.1 350.4 L538.4 354.1 L538.7 357.9 L539 361.8 L539.3 365.8 L539.6 369.9 L539.9 374.2 L540.2 378.6 L540.5 383.1 L540.8 387.7 L541.1 392.5 L541.4 397.5 L541.6 402.6 L541.9 407.9 L542.2 413.3 L542.5 418.7 L542.8 424.1 L543.1 429.3 L543.4 434.3 L543.7 439 L544 443.4 L544.3 447.5 L544.6 451.2 L544.9 454.4 L545.2 457.1 L545.5 459.3 L545.8 460.8 L546.1 461.8 L546.4 462.2 L546.7 462 L546.9 461.1 L547.2 459.6 L547.5 457.3 L547.8 454.3 L548.1 450.5 L548.4 445.7 L548.7 439.9 L549 432.8 L549.3 424.4 L549.6 414.7 L549.9 404 L550.2 392.6 L550.5 380.6 L550.8 368 L551.1 354.8 L551.4 341.5 L551.7 328.5 L551.9 316 L552.2 304.2 L552.5 293.1 L552.8 282.4 L553.1 272 L553.4 261.9 L553.7 252 L554 242.3 L554.3 232.8 L554.6 223.5 L554.9 214.6 L555.2 206.4 L555.5 198.9 L555.8 192 L556.1 185.8 L556.4 180.1 L556.7 175 L557 170.5 L557.2 166.7 L557.5 163.4 L557.8 160.7 L558.1 158.5 L558.4 156.8 L558.7 155.5 L559 154.8 L559.3 154.5 L559.6 154.8 L559.9 155.6 L560.2 156.8 L560.5 158.6 L560.8 161 L561.1 164.1 L561.4 168 L561.7 172.8 L562 178.1 L562.2 183.5 L562.5 188.5 L562.8 192.9 L563.1 196.7 L563.4 200 L563.7 203 L564 205.8 L564.3 208.4 L564.6 210.9 L564.9 213.3 L565.2 215.6 L565.5 217.8 L565.8 220 L566.1 222 L566.4 224 L566.7 225.9 L567 227.8 L567.3 229.6 L567.5 231.3 L567.8 233 L568.1 234.7 L568.4 236.3 L568.7 237.8 L569 239.4 L569.3 240.8 L569.6 242.3 L569.9 243.6 L570.2 244.9 L570.5 246.1 L570.8 247.4 L571.1 248.6 L571.4 249.7 L571.7 250.9 L572 252.2 L572.3 253.5 L572.6 254.8 L572.8 256.2 L573.1 257.7 L573.4 259.2 L573.7 260.8 L574 262.6 L574.3 264.3 L574.6 266.2 L574.9 268.2 L575.2 270.2 L575.5 272.3 L575.8 274.5 L576.1 276.7 L576.4 279.1 L576.7 281.5 L577 284.1 L577.3 286.9 L577.6 289.8 L577.8 292.9 L578.1 296.3 L578.4 299.8 L578.7 303.4 L579 307.1 L579.3 310.9 L579.6 314.6 L579.9 318.4 L580.2 322.2 L580.5 326 L580.8 329.8 L581.1 333.7 L581.4 337.5 L581.7 341.4 L582 345.1 L582.3 348.9 L582.6 352.6 L582.9 356.3 L583.1 360 L583.4 363.7 L583.7 367.4 L584 371.2 L584.3 375 L584.6 379 L584.9 383.2 L585.2 387.4 L585.5 391.8 L585.8 396.3 L586.1 400.9 L586.4 405.6 L586.7 410.3 L587 415 L587.3 419.8 L587.6 424.7 L587.9 429.7 L588.1 434.8 L588.4 440.1 L588.7 445.6 L589 451.2 L589.3 456.8 L589.6 462.5 L589.9 468.1 L590.2 473.6 L590.5 478.8 L590.8 483.8 L591.1 488.3 L591.4 492.4 L591.7 496 L592 499 L592.3 501.4 L592.6 503 L592.9 504 L593.2 504.2 L593.4 503.8 L593.7 502.7 L594 501 L594.3 498.8 L594.6 495.9 L594.9 492.6 L595.2 488.7 L595.5 484.1 L595.8 478.4 L596.1 471.3 L596.4 462.5 L596.7 452 L597 440.3 L597.3 427.8 L597.6 414.6 L597.9 400.8 L598.2 386.2 L598.5 371.1 L598.7 355.6 L599 340.5 L599.3 326 L599.6 312.2 L599.9 299 L600.2 286.1 L600.5 273.4 L600.8 260.7 L601.1 247.9 L601.4 235.1 L601.7 222.7 L602 211 L602.3 200.5 L602.6 191.2 L602.9 183.2 L603.2 176.1 L603.5 169.8 L603.7 164 L604 158.9 L604.3 154.4 L604.6 150.6 L604.9 147.3 L605.2 144.7 L605.5 142.6 L605.8 141 L606.1 140 L606.4 139.5 L606.7 139.6 L607 140.2 L607.3 141.4 L607.6 143 L607.9 144.9 L608.2 147.2 L608.5 149.6 L608.8 152.1 L609 154.7 L609.3 157.3 L609.6 160.1 L609.9 163 L610.2 166.1 L610.5 169.4 L610.8 172.8 L611.1 176.3 L611.4 179.7 L611.7 183 L612 186.2 L612.3 189.2 L612.6 192 L612.9 194.8 L613.2 197.5 L613.5 200 L613.8 202.6 L614 205 L614.3 207.4 L614.6 209.7 L614.9 212 L615.2 214.3 L615.5 216.5 L615.8 218.6 L616.1 220.7 L616.4 222.8 L616.7 224.9 L617 226.9 L617.3 228.9 L617.6 230.9 L617.9 232.8 L618.2 234.7 L618.5 236.6 L618.8 238.5 L619.1 240.3 L619.3 242 L619.6 243.7 L619.9 245.3 L620.2 246.8 L620.5 248.3 L620.8 249.9 L621.1 251.4 L621.4 253 L621.7 254.7 L622 256.4 L622.3 258.3 L622.6 260.4 L622.9 262.6 L623.2 265.1 L623.5 267.7 L623.8 270.5 L624.1 273.6 L624.4 276.9 L624.6 280.4 L624.9 284.2 L625.2 288.3 L625.5 292.7 L625.8 297.6 L626.1 302.8 L626.4 308.3 L626.7 313.9 L627 319.4 L627.3 324.9 L627.6 330.2 L627.9 335.3 L628.2 340.4 L628.5 345.4 L628.8 350.3 L629.1 355.2 L629.4 360 L629.6 364.7 L629.9 369.3 L630.2 373.9 L630.5 378.3 L630.8 382.7 L631.1 387.1 L631.4 391.5 L631.7 395.9 L632 400.4 L632.3 404.9 L632.6 409.6 L632.9 414.4 L633.2 419.2 L633.5 424.2 L633.8 429.3 L634.1 434.4 L634.4 439.7 L634.7 445.1 L634.9 450.6 L635.2 456.3 L635.5 462.1 L635.8 468.2 L636.1 474.4 L636.4 480.7 L636.7 487.2 L637 493.7 L637.3 500.2 L637.6 506.7 L637.9 513.3 L638.2 519.9 L638.5 526.3 L638.8 532.2 L639.1 537.2 L639.4 541.2 L639.7 544.1 L639.9 546 L640.2 547 L640.5 547 L640.8 546 L641.1 543.9 L641.4 540 L641.7 534.1 L642 526 L642.3 516.5 L642.6 506.3 L642.9 495.9 L643.2 485.5 L643.5 475 L643.8 464 L644.1 452.8 L644.4 441.2 L644.7 429.1 L645 416.6 L645.2 403.3 L645.5 389.1 L645.8 373.9 L646.1 357.9 L646.4 341.4 L646.7 325 L647 308.8 L647.3 293 L647.6 277.8 L647.9 263.4 L648.2 249.7 L648.5 237 L648.8 225.2 L649.1 214.3 L649.4 204.4 L649.7 195.3 L650 187 L650.3 179.4 L650.5 172.2 L650.8 165.4 L651.1 158.9 L651.4 152.6 L651.7 146.8 L652 141.6 L652.3 137.1 L652.6 133.5 L652.9 130.6 L653.2 128.5 L653.5 127.1 L653.8 126.2 L654.1 126.1 L654.4 126.5 L654.7 127.4 L655 128.8 L655.3 130.5 L655.5 132.5 L655.8 134.6 L656.1 136.8 L656.4 139 L656.7 141.2 L657 143.5 L657.3 145.7 L657.6 148.1 L657.9 150.5 L658.2 153.1 L658.5 155.9 L658.8 158.9 L659.1 162.1 L659.4 165.2 L659.7 168.4 L660 171.4 L660.3 174.3 L660.6 177.1 L660.8 179.7 L661.1 182.3 L661.4 184.8 L661.7 187.2 L662 189.5 L662.3 191.8 L662.6 194.1 L662.9 196.3 L663.2 198.5 L663.5 200.6 L663.8 202.7 L664.1 204.8 L664.4 206.9 L664.7 208.9 L665 210.9 L665.3 212.9 L665.6 214.9 L665.9 216.8 L666.1 218.8 L666.4 220.7 L666.7 222.6 L667 224.5 L667.3 226.3 L667.6 228.2 L667.9 230 L668.2 231.7 L668.5 233.4 L668.8 235 L669.1 236.6 L669.4 238.1 L669.7 239.6 L670 241.1 L670.3 242.7 L670.6 244.3 L670.9 246 L671.1 247.8 L671.4 249.7 L671.7 251.7 L672 254 L672.3 256.4 L672.6 258.9 L672.9 261.7 L673.2 264.7 L673.5 267.9 L673.8 271.3 L674.1 275 L674.4 278.9 L674.7 283.2 L675 287.9 L675.3 293 L675.6 298.6 L675.9 304.4 L676.2 310.5 L676.4 316.5 L676.7 322.5 L677 328.4 L677.3 334.3 L677.6 340.1 L677.9 346 L678.2 351.8 L678.5 357.6 L678.8 363.2 L679.1 368.7 L679.4 374.1 L679.7 379.4 L680 384.6 L680.3 389.8 L680.6 395.1 L680.9 400.5 L681.2 406 L681.4 411.7 L681.7 417.5 L682 423.4 L682.3 429.4 L682.6 435.6 L682.9 441.8 L683.2 448.1 L683.5 454.6 L683.8 461.2 L684.1 468 L684.4 475 L684.7 482.1 L685 489.2 L685.3 496.4 L685.6 503.7 L685.9 511 L686.2 518.4 L686.5 525.6 L686.7 532.4 L687 538.3 L687.3 542.9 L687.6 546.2 L687.9 548.4 L688.2 549.4 L688.5 549.6 L688.8 548.8 L689.1 547.3 L689.4 545 L689.7 541.8 L690 537.7 L690.3 532.5 L690.6 525.9 L690.9 517.6 L691.2 507.6 L691.5 496 L691.8 483.2 L692 469.6 L692.3 455.7 L692.6 441.6 L692.9 427.2 L693.2 412.4 L693.5 397.1 L693.8 380.8 L694.1 363.7 L694.4 346 L694.7 328.2 L695 310.9 L695.3 294.5 L695.6 279 L695.9 264.2 L696.2 250 L696.5 236.3 L696.8 223 L697 210.1 L697.3 197.6 L697.6 185.6 L697.9 174.3 L698.2 163.7 L698.5 153.9 L698.8 144.7 L699.1 136 L699.4 127.8 L699.7 120.2 L700 113.6 L700.3 108.3 L700.6 104.3 L700.9 101.4 L701.2 99.6 L701.5 98.5 L701.8 98.2 L702.1 98.4 L702.3 99.3 L702.6 100.5 L702.9 102.2 L703.2 104.1 L703.5 106.3 L703.8 108.6 L704.1 110.9 L704.4 113.3 L704.7 115.7 L705 118.1 L705.3 120.5 L705.6 123.1 L705.9 125.8 L706.2 128.6 L706.5 131.6 L706.8 134.6 L707.1 137.6 L707.3 140.5 L707.6 143.3 L707.9 146.1 L708.2 148.6 L708.5 151.1 L708.8 153.4 L709.1 155.7 L709.4 157.9 L709.7 160 L710 162.1 L710.3 164.2 L710.6 166.2 L710.9 168.2 L711.2 170.1 L711.5 172 L711.8 173.9 L712.1 175.8 L712.4 177.7 L712.6 179.5 L712.9 181.3 L713.2 183.1 L713.5 184.9 L713.8 186.7 L714.1 188.5 L714.4 190.3 L714.7 192 L715 193.8 L715.3 195.6 L715.6 197.3 L715.9 199.1 L716.2 200.8 L716.5 202.6 L716.8 204.3 L717.1 206 L717.4 207.6 L717.7 209.2 L717.9 210.8 L718.2 212.3 L718.5 213.8 L718.8 215.3 L719.1 216.7 L719.4 218.2 L719.7 219.8 L720 221.4 L720.3 223.1 L720.6 224.9 L720.9 226.9 L721.2 229 L721.5 231.3 L721.8 233.8 L722.1 236.4 L722.4 239.2 L722.7 242.2 L722.9 245.4 L723.2 248.9 L723.5 252.5 L723.8 256.3 L724.1 260.5 L724.4 265 L724.7 269.9 L725 275.1 L725.3 280.7 L725.6 286.5 L725.9 292.4 L726.2 298.3 L726.5 304.2 L726.8 310 L727.1 315.9 L727.4 321.8 L727.7 327.7 L728 333.6 L728.2 339.3 L728.5 344.9 L728.8 350.4 L729.1 355.6 L729.4 360.7 L729.7 365.8 L730 370.8 L730.3 375.8 L730.6 380.9 L730.9 386.1 L731.2 391.4 L731.5 396.7 L731.8 402.2 L732.1 407.8 L732.4 413.4 L732.7 419.2 L733 425.1 L733.2 431.1 L733.5 437.3 L733.8 443.7 L734.1 450.3 L734.4 457.1 L734.7 464.3 L735 471.6 L735.3 479.1 L735.6 486.8 L735.9 494.9 L736.2 503.2 L736.5 511.5 L736.8 519.1 L737.1 525.3 L737.4 530 L737.7 533.1 L738 535.1 L738.3 535.9 L738.5 536 L738.8 535.2 L739.1 533.6 L739.4 531.1 L739.7 527.5 L740 522.5 L740.3 516 L740.6 507.5 L740.9 497 L741.2 484.6 L741.5 470.9 L741.8 456.5 L742.1 441.7 L742.4 426.5 L742.7 410.2 L743 391.9 L743.3 371.2 L743.6 349.4 L743.8 328.7 L744.1 310.7 L744.4 295.7 L744.7 282.5 L745 270 L745.3 257.2 L745.6 243.9 L745.9 230.1 L746.2 215.9 L746.5 201.8 L746.8 188 L747.1 174.6 L747.4 162.1 L747.7 150.5 L748 140 L748.3 130.7 L748.6 122.3 L748.8 114.9 L749.1 108.4 L749.4 102.7 L749.7 97.8 L750 93.5 L750.3 89.8 L750.6 86.5 L750.9 83.5 L751.2 81 L751.5 78.8 L751.8 77.1 L752.1 75.9 L752.4 75.3 L752.7 75.2 L753 75.7 L753.3 76.6 L753.6 78 L753.9 79.7 L754.1 81.7 L754.4 83.9 L754.7 86.3 L755 88.7 L755.3 91.1 L755.6 93.4 L755.9 95.7 L756.2 98 L756.5 100.2 L756.8 102.5 L757.1 104.9 L757.4 107.3 L757.7 109.9 L758 112.4 L758.3 115 L758.6 117.5 L758.9 120.1 L759.1 122.5 L759.4 124.9 L759.7 127.3 L760 129.6 L760.3 131.8 L760.6 133.9 L760.9 136 L761.2 138.1 L761.5 140.1 L761.8 142.1 L762.1 144.1 L762.4 146.1 L762.7 148 L763 150 L763.3 151.9 L763.6 153.8 L763.9 155.8 L764.2 157.7 L764.4 159.6 L764.7 161.5 L765 163.3 L765.3 165.2 L765.6 167.2 L765.9 169.1 L766.2 171 L766.5 172.9 L766.8 174.8 L767.1 176.8 L767.4 178.8 L767.7 180.7 L768 182.7 L768.3 184.7 L768.6 186.7 L768.9 188.8 L769.2 190.8 L769.5 192.8 L769.7 194.8 L770 196.7 L770.3 198.6 L770.6 200.4 L770.9 202.2 L771.2 203.9 L771.5 205.7 L771.8 207.4 L772.1 209.2 L772.4 211.1 L772.7 213.2 L773 215.4 L773.3 217.8 L773.6 220.4 L773.9 223.2 L774.2 226.3 L774.5 229.6 L774.7 233.1 L775 236.8 L775.3 240.7 L775.6 244.7 L775.9 249 L776.2 253.5 L776.5 258.4 L776.8 263.6 L777.1 269.2 L777.4 275.2 L777.7 281.3 L778 287.5 L778.3 293.6 L778.6 299.5 L778.9 305.3 L779.2 311 L779.5 316.6 L779.8 322.1 L780 327.5 L780.3 332.8 L780.6 338 L780.9 343 L781.2 348 L781.5 352.8 L781.8 357.4 L782.1 362.1 L782.4 366.6 L782.7 371.2 L783 375.7 L783.3 380.3 L783.6 385 L783.9 389.8 L784.2 394.6 L784.5 399.5 L784.8 404.5 L785 409.6 L785.3 414.7 L785.6 419.8 L785.9 425 L786.2 430.3 L786.5 435.6 L786.8 440.9 L787.1 446.4 L787.4 451.9 L787.7 457.4 L788 463.1 L788.3 468.8 L788.6 474.7 L788.9 480.6 L789.2 486.5 L789.5 492.5 L789.8 498.6 L790.1 504.8 L790.3 511.3 L790.6 518.1 L790.9 525.5 L791.2 533.2 L791.5 540.6 L791.8 546.9 L792.1 551.8 L792.4 555.2 L792.7 557.2 L793 558.2 L793.3 558.4 L793.6 557.8 L793.9 556.4 L794.2 554.3 L794.5 551.4 L794.8 547.7 L795.1 543 L795.4 537.1 L795.6 529.9 L795.9 521.1 L796.2 510.7 L796.5 499.1 L796.8 486.5 L797.1 473.4 L797.4 459.8 L797.7 446.1 L798 432.2 L798.3 417.9 L798.6 403 L798.9 387.2 L799.2 370.3 L799.5 352 L799.8 332.7 L800.1 312.6 L800.4 292.4 L800.6 272.8 L800.9 254.4 L801.2 237.6 L801.5 222.5 L801.8 209.1 L802.1 197.4 L802.4 187.2 L802.7 178.2 L803 170.2 L803.3 162.9 L803.6 156.1 L803.9 149.7 L804.2 143.8 L804.5 138.4 L804.8 133.5 L805.1 129.2 L805.4 125.4 L805.7 122.1 L805.9 119.5 L806.2 117.4 L806.5 115.8 L806.8 114.9 L807.1 114.4 L807.4 114.5 L807.7 115 L808 115.9 L808.3 117 L808.6 118.4 L808.9 120 L809.2 121.9 L809.5 124.1 L809.8 126.6 L810.1 129.5 L810.4 132.8 L810.7 136.5 L810.9 140.3 L811.2 144.3 L811.5 148.4 L811.8 152.6 L812.1 156.8 L812.4 160.8 L812.7 164.6 L813 168 L813.3 171.1 L813.6 173.8 L813.9 176.2 L814.2 178.2 L814.5 179.8 L814.8 181 L815.1 182 L815.4 182.7 L815.7 183.3 L816 183.7 L816.2 184.1 L816.5 184.3 L816.8 184.5 L817.1 184.6 L817.4 184.8 L817.7 184.9 L818 185 L818.3 185.2 L818.6 185.4 L818.9 185.7 L819.2 186.1 L819.5 186.6 L819.8 187.3 L820.1 188.1 L820.4 189.1 L820.7 190 L821 191.1 L821.3 192.2 L821.5 193.3 L821.8 194.5 L822.1 195.7 L822.4 197 L822.7 198.3 L823 199.7 L823.3 201 L823.6 202.3 L823.9 203.2" fill="none" stroke="#1c1cff" stroke-width="3" stroke-opacity="0.16" stroke-linejoin="round" stroke-linecap="round"/>
<path d="M88.1 307.5 L88.4 312.5 L88.7 319.2 L89 326.5 L89.3 333.4 L89.6 339.2 L89.9 344.2 L90.2 348.6 L90.5 352.7 L90.7 356.6 L91 360.4 L91.3 364.1 L91.6 367.7 L91.9 371.3 L92.2 374.8 L92.5 378.3 L92.8 381.7 L93.1 385.2 L93.4 388.6 L93.7 392.1 L94 395.6 L94.3 399.1 L94.6 402.7 L94.9 406.3 L95.2 410 L95.5 413.7 L95.8 417.4 L96 421.2 L96.3 425 L96.6 428.9 L96.9 432.8 L97.2 436.7 L97.5 440.8 L97.8 444.9 L98.1 449.2 L98.4 453.6 L98.7 458.1 L99 462.8 L99.3 467.5 L99.6 472.4 L99.9 477.2 L100.2 482.1 L100.5 487.1 L100.8 492 L101.1 497.1 L101.3 502.2 L101.6 507.1 L101.9 511.8 L102.2 516 L102.5 519.5 L102.8 522.1 L103.1 523.7 L103.4 524.2 L103.7 523.7 L104 522.4 L104.3 520.4 L104.6 517.6 L104.9 514.2 L105.2 510 L105.5 505 L105.8 499 L106.1 491.6 L106.3 482.7 L106.6 472.4 L106.9 461 L107.2 449.1 L107.5 437 L107.8 424.9 L108.1 412.9 L108.4 400.7 L108.7 388 L109 374.9 L109.3 361.2 L109.6 347 L109.9 332.5 L110.2 318 L110.5 303.5 L110.8 289.2 L111.1 275.5 L111.4 262.5 L111.6 250.4 L111.9 239.3 L112.2 229.4 L112.5 220.7 L112.8 212.8 L113.1 205.8 L113.4 199.4 L113.7 193.6 L114 188.3 L114.3 183.5 L114.6 179.3 L114.9 175.7 L115.2 172.7 L115.5 170.1 L115.8 168.1 L116.1 166.5 L116.4 165.4 L116.6 164.9 L116.9 164.9 L117.2 165.4 L117.5 166.4 L117.8 167.9 L118.1 169.8 L118.4 172 L118.7 174.4 L119 177.2 L119.3 180.1 L119.6 183.4 L119.9 187 L120.2 190.9 L120.5 194.9 L120.8 198.9 L121.1 202.6 L121.4 206.1 L121.7 209.4 L121.9 212.5 L122.2 215.4 L122.5 218.2 L122.8 220.9 L123.1 223.5 L123.4 226 L123.7 228.5 L124 230.8 L124.3 233.1 L124.6 235.3 L124.9 237.4 L125.2 239.5 L125.5 241.5 L125.8 243.5 L126.1 245.4 L126.4 247.3 L126.7 249.1 L127 250.9 L127.2 252.6 L127.5 254.2 L127.8 255.7 L128.1 257.2 L128.4 258.6 L128.7 260 L129 261.3 L129.3 262.7 L129.6 264.2 L129.9 265.7 L130.2 267.3 L130.5 269 L130.8 270.8 L131.1 272.8 L131.4 274.9 L131.7 277.1 L132 279.4 L132.2 281.9 L132.5 284.5 L132.8 287.2 L133.1 290 L133.4 293 L133.7 296.2 L134 299.5 L134.3 303.1 L134.6 306.9 L134.9 310.9 L135.2 315 L135.5 319.1 L135.8 323.2 L136.1 327.1 L136.4 331 L136.7 334.9 L137 338.6 L137.3 342.4 L137.5 346.1 L137.8 349.8 L138.1 353.4 L138.4 357 L138.7 360.6 L139 364.1 L139.3 367.6 L139.6 371.1 L139.9 374.5 L140.2 378 L140.5 381.6 L140.8 385.2 L141.1 388.9 L141.4 392.7 L141.7 396.6 L142 400.7 L142.3 405 L142.5 409.4 L142.8 413.9 L143.1 418.6 L143.4 423.4 L143.7 428.3 L144 433.4 L144.3 438.7 L144.6 444.2 L144.9 449.9 L145.2 455.8 L145.5 462 L145.8 468.3 L146.1 474.7 L146.4 481 L146.7 487.2 L147 493.1 L147.3 498.7 L147.6 503.8 L147.8 508.2 L148.1 512 L148.4 515 L148.7 517.2 L149 518.7 L149.3 519.4 L149.6 519.3 L149.9 518.5 L150.2 517.1 L150.5 515 L150.8 512.3 L151.1 509 L151.4 505.1 L151.7 500.4 L152 494.8 L152.3 488 L152.6 479.8 L152.9 470.2 L153.1 459.7 L153.4 448.7 L153.7 437.6 L154 426.6 L154.3 415.5 L154.6 404.1 L154.9 391.7 L155.2 377.9 L155.5 362.6 L155.8 345.8 L156.1 328.3 L156.4 310.8 L156.7 293.8 L157 277.7 L157.3 262.5 L157.6 248.5 L157.9 235.8 L158.1 224.5 L158.4 214.6 L158.7 206 L159 198.4 L159.3 191.6 L159.6 185.4 L159.9 179.9 L160.2 174.8 L160.5 170.2 L160.8 166.2 L161.1 162.7 L161.4 159.7 L161.7 157.1 L162 155.1 L162.3 153.5 L162.6 152.4 L162.9 151.9 L163.2 151.9 L163.4 152.4 L163.7 153.4 L164 154.8 L164.3 156.6 L164.6 158.6 L164.9 160.9 L165.2 163.3 L165.5 165.9 L165.8 168.6 L166.1 171.5 L166.4 174.7 L166.7 178 L167 181.5 L167.3 185 L167.6 188.4 L167.9 191.7 L168.2 194.7 L168.4 197.6 L168.7 200.3 L169 202.9 L169.3 205.4 L169.6 207.8 L169.9 210.1 L170.2 212.4 L170.5 214.6 L170.8 216.7 L171.1 218.8 L171.4 220.8 L171.7 222.8 L172 224.7 L172.3 226.6 L172.6 228.5 L172.9 230.3 L173.2 232.1 L173.5 233.9 L173.7 235.6 L174 237.3 L174.3 239 L174.6 240.7 L174.9 242.3 L175.2 243.8 L175.5 245.3 L175.8 246.7 L176.1 248.1 L176.4 249.4 L176.7 250.8 L177 252.2 L177.3 253.6 L177.6 255.1 L177.9 256.7 L178.2 258.4 L178.5 260.2 L178.8 262.2 L179 264.3 L179.3 266.6 L179.6 269 L179.9 271.7 L180.2 274.5 L180.5 277.4 L180.8 280.6 L181.1 284 L181.4 287.7 L181.7 291.7 L182 296.1 L182.3 300.8 L182.6 305.8 L182.9 310.8 L183.2 315.8 L183.5 320.8 L183.8 325.7 L184 330.4 L184.3 335.1 L184.6 339.8 L184.9 344.3 L185.2 348.8 L185.5 353.1 L185.8 357.3 L186.1 361.4 L186.4 365.4 L186.7 369.3 L187 373.3 L187.3 377.2 L187.6 381.1 L187.9 385.2 L188.2 389.3 L188.5 393.5 L188.8 397.8 L189.1 402.2 L189.3 406.6 L189.6 411.2 L189.9 415.8 L190.2 420.4 L190.5 425.2 L190.8 430.1 L191.1 435.1 L191.4 440.2 L191.7 445.6 L192 451.2 L192.3 456.9 L192.6 462.8 L192.9 468.8 L193.2 474.8 L193.5 480.6 L193.8 486.2 L194.1 491.5 L194.3 496.4 L194.6 500.9 L194.9 504.9 L195.2 508.5 L195.5 511.4 L195.8 513.7 L196.1 515.3 L196.4 516.2 L196.7 516.4 L197 515.8 L197.3 514.6 L197.6 512.6 L197.9 509.8 L198.2 506 L198.5 501.1 L198.8 494.9 L199.1 487.2 L199.4 477.9 L199.6 467.2 L199.9 455.4 L200.2 443 L200.5 430.5 L200.8 417.8 L201.1 404.6 L201.4 390.3 L201.7 374.1 L202 356 L202.3 336.6 L202.6 317.1 L202.9 298.4 L203.2 281.2 L203.5 265.6 L203.8 251.5 L204.1 238.9 L204.4 227.6 L204.7 217.6 L204.9 208.6 L205.2 200.5 L205.5 193.3 L205.8 186.7 L206.1 180.6 L206.4 175.1 L206.7 170 L207 165.5 L207.3 161.5 L207.6 157.8 L207.9 154.4 L208.2 151.4 L208.5 148.6 L208.8 146.1 L209.1 143.9 L209.4 142.1 L209.7 140.7 L209.9 139.8 L210.2 139.4 L210.5 139.6 L210.8 140.3 L211.1 141.4 L211.4 142.9 L211.7 144.8 L212 146.8 L212.3 149 L212.6 151.4 L212.9 153.7 L213.2 156.2 L213.5 158.7 L213.8 161.4 L214.1 164.3 L214.4 167.3 L214.7 170.6 L215 173.9 L215.2 177.3 L215.5 180.5 L215.8 183.7 L216.1 186.7 L216.4 189.5 L216.7 192.3 L217 194.9 L217.3 197.5 L217.6 200 L217.9 202.4 L218.2 204.7 L218.5 207 L218.8 209.3 L219.1 211.5 L219.4 213.6 L219.7 215.7 L220 217.8 L220.2 219.8 L220.5 221.7 L220.8 223.7 L221.1 225.6 L221.4 227.4 L221.7 229.2 L222 231 L222.3 232.8 L222.6 234.5 L222.9 236.1 L223.2 237.7 L223.5 239.2 L223.8 240.6 L224.1 242 L224.4 243.4 L224.7 244.8 L225 246.2 L225.3 247.7 L225.5 249.2 L225.8 250.8 L226.1 252.5 L226.4 254.3 L226.7 256.3 L227 258.3 L227.3 260.6 L227.6 262.9 L227.9 265.4 L228.2 268.1 L228.5 270.9 L228.8 273.9 L229.1 277.1 L229.4 280.5 L229.7 284.1 L230 288.2 L230.3 292.6 L230.6 297.5 L230.8 302.6 L231.1 308 L231.4 313.5 L231.7 318.9 L232 324.4 L232.3 329.8 L232.6 335.2 L232.9 340.5 L233.2 345.7 L233.5 350.8 L233.8 355.6 L234.1 360.2 L234.4 364.5 L234.7 368.8 L235 372.8 L235.3 376.8 L235.6 380.8 L235.8 384.7 L236.1 388.7 L236.4 392.6 L236.7 396.6 L237 400.7 L237.3 404.8 L237.6 408.9 L237.9 413 L238.2 417.2 L238.5 421.4 L238.8 425.6 L239.1 429.9 L239.4 434.4 L239.7 438.9 L240 443.6 L240.3 448.6 L240.6 453.8 L240.9 459.4 L241.1 465.3 L241.4 471.6 L241.7 478.3 L242 485.4 L242.3 493.1 L242.6 500.9 L242.9 508.4 L243.2 514.8 L243.5 519.7 L243.8 523.2 L244.1 525.3 L244.4 526.5 L244.7 526.7 L245 526.2 L245.3 524.9 L245.6 522.9 L245.9 519.9 L246.1 515.9 L246.4 510.8 L246.7 504.2 L247 496.1 L247.3 486.4 L247.6 475.4 L247.9 463.5 L248.2 451.2 L248.5 438.9 L248.8 426.9 L249.1 415.1 L249.4 403 L249.7 390.1 L250 376.3 L250.3 361.1 L250.6 345 L250.9 328.4 L251.2 312 L251.4 296.2 L251.7 281.2 L252 267 L252.3 253.7 L252.6 241.3 L252.9 229.5 L253.2 218.5 L253.5 208.2 L253.8 198.6 L254.1 189.8 L254.4 181.8 L254.7 174.3 L255 167.4 L255.3 160.8 L255.6 154.7 L255.9 149.1 L256.2 144.2 L256.5 139.9 L256.7 136.4 L257 133.5 L257.3 131.3 L257.6 129.6 L257.9 128.6 L258.2 128.1 L258.5 128.1 L258.8 128.6 L259.1 129.6 L259.4 131 L259.7 132.8 L260 134.8 L260.3 137.1 L260.6 139.6 L260.9 142.2 L261.2 144.9 L261.5 147.8 L261.7 150.9 L262 154.1 L262.3 157.5 L262.6 161 L262.9 164.4 L263.2 167.7 L263.5 170.8 L263.8 173.8 L264.1 176.6 L264.4 179.3 L264.7 181.9 L265 184.3 L265.3 186.7 L265.6 189 L265.9 191.3 L266.2 193.5 L266.5 195.6 L266.8 197.7 L267 199.7 L267.3 201.7 L267.6 203.6 L267.9 205.5 L268.2 207.3 L268.5 209.2 L268.8 210.9 L269.1 212.7 L269.4 214.4 L269.7 216.1 L270 217.8 L270.3 219.4 L270.6 221 L270.9 222.6 L271.2 224.2 L271.5 225.7 L271.8 227.2 L272 228.6 L272.3 229.9 L272.6 231.3 L272.9 232.5 L273.2 233.8 L273.5 235 L273.8 236.3 L274.1 237.6 L274.4 238.9 L274.7 240.2 L275 241.7 L275.3 243.2 L275.6 244.7 L275.9 246.4 L276.2 248.2 L276.5 250.1 L276.8 252.1 L277.1 254.2 L277.3 256.4 L277.6 258.7 L277.9 261.1 L278.2 263.7 L278.5 266.4 L278.8 269.3 L279.1 272.3 L279.4 275.6 L279.7 279.1 L280 283 L280.3 287.3 L280.6 291.9 L280.9 296.7 L281.2 301.7 L281.5 306.9 L281.8 312 L282.1 317.2 L282.4 322.5 L282.6 327.8 L282.9 333.1 L283.2 338.4 L283.5 343.6 L283.8 348.7 L284.1 353.6 L284.4 358.4 L284.7 363 L285 367.5 L285.3 371.9 L285.6 376.2 L285.9 380.5 L286.2 384.9 L286.5 389.2 L286.8 393.5 L287.1 397.9 L287.4 402.2 L287.6 406.5 L287.9 410.8 L288.2 415.1 L288.5 419.4 L288.8 423.7 L289.1 428.1 L289.4 432.5 L289.7 437 L290 441.6 L290.3 446.5 L290.6 451.5 L290.9 456.8 L291.2 462.4 L291.5 468.2 L291.8 474.2 L292.1 480.4 L292.4 486.9 L292.7 493.5 L292.9 500.1 L293.2 506.3 L293.5 511.8 L293.8 516.4 L294.1 519.8 L294.4 522.4 L294.7 524 L295 524.9 L295.3 525 L295.6 524.4 L295.9 523.2 L296.2 521.3 L296.5 518.8 L296.8 515.6 L297.1 511.8 L297.4 507.3 L297.7 502 L298 495.5 L298.2 487.4 L298.5 477.8 L298.8 466.7 L299.1 454.5 L299.4 441.9 L299.7 429.1 L300 416.3 L300.3 403.5 L300.6 390.4 L300.9 376.9 L301.2 362.9 L301.5 348.3 L301.8 333.4 L302.1 318.2 L302.4 303 L302.7 287.8 L303 272.9 L303.2 258.7 L303.5 245.3 L303.8 233 L304.1 221.7 L304.4 211.4 L304.7 202 L305 193.5 L305.3 185.8 L305.6 178.6 L305.9 171.7 L306.2 165.1 L306.5 158.6 L306.8 152.5 L307.1 147.1 L307.4 142.6 L307.7 139.1 L308 136.4 L308.3 134.5 L308.5 133.3 L308.8 132.6 L309.1 132.5 L309.4 132.8 L309.7 133.7 L310 134.9 L310.3 136.5 L310.6 138.5 L310.9 140.9 L311.2 143.5 L311.5 146.3 L311.8 149.3 L312.1 152.4 L312.4 155.6 L312.7 159 L313 162.3 L313.3 165.5 L313.5 168.5 L313.8 171.4 L314.1 174.1 L314.4 176.6 L314.7 179.1 L315 181.4 L315.3 183.6 L315.6 185.8 L315.9 187.9 L316.2 189.9 L316.5 191.9 L316.8 193.8 L317.1 195.7 L317.4 197.6 L317.7 199.4 L318 201.2 L318.3 203 L318.6 204.7 L318.8 206.5 L319.1 208.2 L319.4 209.8 L319.7 211.5 L320 213.1 L320.3 214.7 L320.6 216.3 L320.9 217.9 L321.2 219.4 L321.5 221 L321.8 222.5 L322.1 224 L322.4 225.5 L322.7 227 L323 228.4 L323.3 229.7 L323.6 231 L323.9 232.3 L324.1 233.5 L324.4 234.8 L324.7 236 L325 237.3 L325.3 238.6 L325.6 239.9 L325.9 241.4 L326.2 242.9 L326.5 244.5 L326.8 246.3 L327.1 248.1 L327.4 250.1 L327.7 252.2 L328 254.5 L328.3 256.9 L328.6 259.4 L328.9 262.1 L329.1 265 L329.4 267.9 L329.7 271.1 L330 274.5 L330.3 278.2 L330.6 282.2 L330.9 286.5 L331.2 291.1 L331.5 295.8 L331.8 300.6 L332.1 305.4 L332.4 310.1 L332.7 314.9 L333 319.5 L333.3 324.2 L333.6 328.9 L333.9 333.4 L334.2 337.9 L334.4 342.2 L334.7 346.4 L335 350.5 L335.3 354.4 L335.6 358.1 L335.9 361.8 L336.2 365.5 L336.5 369.1 L336.8 372.7 L337.1 376.3 L337.4 379.9 L337.7 383.6 L338 387.4 L338.3 391.2 L338.6 395.1 L338.9 399.1 L339.2 403 L339.4 407.1 L339.7 411.2 L340 415.4 L340.3 419.7 L340.6 424 L340.9 428.5 L341.2 433.1 L341.5 437.8 L341.8 442.8 L342.1 447.9 L342.4 453.2 L342.7 458.7 L343 464.3 L343.3 470 L343.6 475.7 L343.9 481.5 L344.2 487.2 L344.5 492.7 L344.7 497.8 L345 502.2 L345.3 505.8 L345.6 508.7 L345.9 510.9 L346.2 512.3 L346.5 513.1 L346.8 513.1 L347.1 512.4 L347.4 511.1 L347.7 508.9 L348 505.9 L348.3 501.8 L348.6 496.5 L348.9 489.8 L349.2 481.6 L349.5 472 L349.8 461.3 L350 449.9 L350.3 438.2 L350.6 426.3 L350.9 414.2 L351.2 401.7 L351.5 388.6 L351.8 374.6 L352.1 359.8 L352.4 344.5 L352.7 329 L353 313.5 L353.3 298.3 L353.6 283.6 L353.9 269.5 L354.2 256 L354.5 243.3 L354.8 231.4 L355 220.3 L355.3 210 L355.6 200.6 L355.9 192 L356.2 184.2 L356.5 177 L356.8 170.4 L357.1 164.1 L357.4 158.2 L357.7 152.8 L358 148 L358.3 143.9 L358.6 140.5 L358.9 137.7 L359.2 135.5 L359.5 134 L359.8 133 L360.1 132.5 L360.3 132.6 L360.6 133.1 L360.9 134.1 L361.2 135.6 L361.5 137.5 L361.8 139.9 L362.1 142.8 L362.4 146 L362.7 149.6 L363 153.5 L363.3 157.4 L363.6 161.3 L363.9 164.9 L364.2 168.1 L364.5 171.1 L364.8 173.8 L365.1 176.3 L365.3 178.8 L365.6 181 L365.9 183.3 L366.2 185.4 L366.5 187.5 L366.8 189.5 L367.1 191.5 L367.4 193.4 L367.7 195.3 L368 197.1 L368.3 198.9 L368.6 200.7 L368.9 202.4 L369.2 204.1 L369.5 205.8 L369.8 207.5 L370.1 209.1 L370.4 210.7 L370.6 212.3 L370.9 213.8 L371.2 215.4 L371.5 216.9 L371.8 218.4 L372.1 219.9 L372.4 221.3 L372.7 222.8 L373 224.2 L373.3 225.6 L373.6 226.9 L373.9 228.2 L374.2 229.4 L374.5 230.6 L374.8 231.8 L375.1 233 L375.4 234.1 L375.7 235.3 L375.9 236.6 L376.2 237.8 L376.5 239.2 L376.8 240.6 L377.1 242.1 L377.4 243.7 L377.7 245.4 L378 247.2 L378.3 249.1 L378.6 251.1 L378.9 253.2 L379.2 255.4 L379.5 257.8 L379.8 260.3 L380.1 262.9 L380.4 265.7 L380.7 268.6 L380.9 271.8 L381.2 275.2 L381.5 279 L381.8 283.1 L382.1 287.4 L382.4 292 L382.7 296.7 L383 301.5 L383.3 306.3 L383.6 311.1 L383.9 315.9 L384.2 320.8 L384.5 325.6 L384.8 330.4 L385.1 335.1 L385.4 339.7 L385.7 344 L386 348.2 L386.2 352.2 L386.5 356 L386.8 359.8 L387.1 363.4 L387.4 366.9 L387.7 370.4 L388 373.9 L388.3 377.4 L388.6 380.9 L388.9 384.5 L389.2 388.1 L389.5 391.7 L389.8 395.4 L390.1 399.2 L390.4 403.1 L390.7 407 L391 411.1 L391.2 415.3 L391.5 419.7 L391.8 424.2 L392.1 428.9 L392.4 433.8 L392.7 438.9 L393 444.2 L393.3 449.7 L393.6 455.3 L393.9 461 L394.2 466.7 L394.5 472.5 L394.8 478.1 L395.1 483.5 L395.4 488.6 L395.7 493.2 L396 497.1 L396.3 500.3 L396.5 502.9 L396.8 504.7 L397.1 505.8 L397.4 506.2 L397.7 506 L398 505 L398.3 503.2 L398.6 500.6 L398.9 497.1 L399.2 492.4 L399.5 486.4 L399.8 478.9 L400.1 469.8 L400.4 459.5 L400.7 448.1 L401 436.2 L401.3 424.1 L401.6 412 L401.8 399.8 L402.1 387.4 L402.4 374.4 L402.7 360.9 L403 346.7 L403.3 331.9 L403.6 316.7 L403.9 301.4 L404.2 286.1 L404.5 271.3 L404.8 257 L405.1 243.5 L405.4 231 L405.7 219.4 L406 208.7 L406.3 198.9 L406.6 190 L406.8 182 L407.1 174.6 L407.4 167.6 L407.7 161 L408 154.6 L408.3 148.5 L408.6 143.1 L408.9 138.5 L409.2 134.7 L409.5 131.8 L409.8 129.7 L410.1 128.3 L410.4 127.5 L410.7 127.2 L411 127.4 L411.3 128.2 L411.6 129.3 L411.9 130.9 L412.1 132.8 L412.4 135 L412.7 137.6 L413 140.4 L413.3 143.6 L413.6 147.1 L413.9 150.9 L414.2 154.9 L414.5 158.9 L414.8 162.8 L415.1 166.3 L415.4 169.6 L415.7 172.6 L416 175.4 L416.3 178 L416.6 180.6 L416.9 183 L417.1 185.3 L417.4 187.6 L417.7 189.7 L418 191.8 L418.3 193.8 L418.6 195.8 L418.9 197.7 L419.2 199.6 L419.5 201.4 L419.8 203.1 L420.1 204.9 L420.4 206.5 L420.7 208.2 L421 209.8 L421.3 211.3 L421.6 212.9 L421.9 214.4 L422.2 215.9 L422.4 217.3 L422.7 218.7 L423 220 L423.3 221.3 L423.6 222.6 L423.9 223.7 L424.2 224.9 L424.5 226.1 L424.8 227.2 L425.1 228.4 L425.4 229.5 L425.7 230.8 L426 232 L426.3 233.3 L426.6 234.7 L426.9 236.2 L427.2 237.7 L427.5 239.4 L427.7 241 L428 242.8 L428.3 244.7 L428.6 246.6 L428.9 248.6 L429.2 250.7 L429.5 252.9 L429.8 255.2 L430.1 257.5 L430.4 260 L430.7 262.7 L431 265.4 L431.3 268.4 L431.6 271.7 L431.9 275.2 L432.2 278.9 L432.5 282.9 L432.7 286.9 L433 291 L433.3 295.2 L433.6 299.4 L433.9 303.6 L434.2 307.7 L434.5 312 L434.8 316.2 L435.1 320.3 L435.4 324.4 L435.7 328.4 L436 332.4 L436.3 336.2 L436.6 339.9 L436.9 343.5 L437.2 347 L437.5 350.5 L437.8 354 L438 357.5 L438.3 361.1 L438.6 364.7 L438.9 368.4 L439.2 372.1 L439.5 376 L439.8 379.9 L440.1 384 L440.4 388.2 L440.7 392.4 L441 396.8 L441.3 401.4 L441.6 406.1 L441.9 411 L442.2 416 L442.5 421.3 L442.8 426.9 L443 432.7 L443.3 438.7 L443.6 444.9 L443.9 451.2 L444.2 457.4 L444.5 463.5 L444.8 469.5 L445.1 475 L445.4 480 L445.7 484.4 L446 488 L446.3 490.9 L446.6 493.1 L446.9 494.7 L447.2 495.5 L447.5 495.7 L447.8 495.2 L448.1 494.1 L448.3 492.2 L448.6 489.5 L448.9 485.9 L449.2 481.4 L449.5 475.9 L449.8 469.4 L450.1 461.9 L450.4 453.3 L450.7 443.9 L451 433.7 L451.3 423.1 L451.6 412.5 L451.9 401.9 L452.2 391.5 L452.5 380.9 L452.8 369.8 L453.1 358.1 L453.4 345.3 L453.6 331.5 L453.9 316.9 L454.2 302 L454.5 287.1 L454.8 272.7 L455.1 259 L455.4 246.1 L455.7 234.3 L456 223.5 L456.3 213.7 L456.6 204.8 L456.9 196.9 L457.2 189.6 L457.5 183 L457.8 176.8 L458.1 170.8 L458.4 165.1 L458.6 159.9 L458.9 155.2 L459.2 151.3 L459.5 148 L459.8 145.5 L460.1 143.6 L460.4 142.3 L460.7 141.4 L461 141.1 L461.3 141.3 L461.6 142 L461.9 143.1 L462.2 144.6 L462.5 146.4 L462.8 148.6 L463.1 151 L463.4 153.5 L463.7 156.2 L463.9 159.1 L464.2 162 L464.5 165.1 L464.8 168.2 L465.1 171.4 L465.4 174.4 L465.7 177.3 L466 180 L466.3 182.6 L466.6 185 L466.9 187.3 L467.2 189.6 L467.5 191.7 L467.8 193.8 L468.1 195.8 L468.4 197.8 L468.7 199.7 L469 201.6 L469.2 203.4 L469.5 205.2 L469.8 207 L470.1 208.7 L470.4 210.4 L470.7 212.1 L471 213.8 L471.3 215.4 L471.6 217 L471.9 218.6 L472.2 220.2 L472.5 221.7 L472.8 223.2 L473.1 224.7 L473.4 226.2 L473.7 227.7 L474 229.1 L474.2 230.6 L474.5 232 L474.8 233.4 L475.1 234.7 L475.4 236 L475.7 237.2 L476 238.4 L476.3 239.6 L476.6 240.8 L476.9 242 L477.2 243.2 L477.5 244.4 L477.8 245.7 L478.1 247.1 L478.4 248.5 L478.7 250 L479 251.7 L479.3 253.4 L479.5 255.3 L479.8 257.2 L480.1 259.3 L480.4 261.5 L480.7 263.9 L481 266.3 L481.3 269 L481.6 271.7 L481.9 274.7 L482.2 277.8 L482.5 281.3 L482.8 285 L483.1 289.1 L483.4 293.5 L483.7 298.1 L484 302.8 L484.3 307.5 L484.5 312.2 L484.8 316.9 L485.1 321.5 L485.4 326.1 L485.7 330.6 L486 335.1 L486.3 339.5 L486.6 343.9 L486.9 348.1 L487.2 352.2 L487.5 356.3 L487.8 360.2 L488.1 364.2 L488.4 368.1 L488.7 372.1 L489 376.2 L489.3 380.3 L489.6 384.5 L489.8 388.8 L490.1 393.2 L490.4 397.7 L490.7 402.1 L491 406.6 L491.3 411.1 L491.6 415.6 L491.9 420.2 L492.2 424.8 L492.5 429.5 L492.8 434.3 L493.1 439.3 L493.4 444.5 L493.7 449.9 L494 455.4 L494.3 461.2 L494.6 467.4 L494.9 473.9 L495.1 481 L495.4 488.3 L495.7 495.2 L496 501 L496.3 505.5 L496.6 508.5 L496.9 510.3 L497.2 511.2 L497.5 511.4 L497.8 510.8 L498.1 509.7 L498.4 508 L498.7 505.7 L499 503 L499.3 499.8 L499.6 496.2 L499.9 492.1 L500.1 487.1 L500.4 480.9 L500.7 473.1 L501 463.6 L501.3 452.7 L501.6 441 L501.9 429 L502.2 416.8 L502.5 404.6 L502.8 392.3 L503.1 379.5 L503.4 366.2 L503.7 352.2 L504 337.5 L504.3 322.4 L504.6 307.1 L504.9 292 L505.2 277.5 L505.4 263.8 L505.7 251.1 L506 239.5 L506.3 228.9 L506.6 219.3 L506.9 210.6 L507.2 202.8 L507.5 195.6 L507.8 188.9 L508.1 182.3 L508.4 175.8 L508.7 169.4 L509 163.4 L509.3 158.2 L509.6 154.1 L509.9 151.1 L510.2 148.9 L510.4 147.5 L510.7 146.7 L511 146.4 L511.3 146.6 L511.6 147.2 L511.9 148.2 L512.2 149.7 L512.5 151.5 L512.8 153.8 L513.1 156.5 L513.4 159.8 L513.7 163.6 L514 167.8 L514.3 172.2 L514.6 176.3 L514.9 179.9 L515.2 183 L515.5 185.7 L515.7 188.1 L516 190.4 L516.3 192.5 L516.6 194.6 L516.9 196.6 L517.2 198.5 L517.5 200.4 L517.8 202.2 L518.1 203.9 L518.4 205.6 L518.7 207.3 L519 208.9 L519.3 210.5 L519.6 212 L519.9 213.5 L520.2 215 L520.5 216.5 L520.8 217.9 L521 219.3 L521.3 220.6 L521.6 221.9 L521.9 223.2 L522.2 224.5 L522.5 225.7 L522.8 226.9 L523.1 228 L523.4 229 L523.7 230.1 L524 231.1 L524.3 232.1 L524.6 233.2 L524.9 234.2 L525.2 235.3 L525.5 236.5 L525.8 237.7 L526 238.9 L526.3 240.2 L526.6 241.6 L526.9 243.1 L527.2 244.6 L527.5 246.1 L527.8 247.8 L528.1 249.5 L528.4 251.2 L528.7 253 L529 254.9 L529.3 256.8 L529.6 258.8 L529.9 260.9 L530.2 263 L530.5 265.3 L530.8 267.6 L531.1 270.2 L531.3 272.9 L531.6 275.7 L531.9 278.6 L532.2 281.7 L532.5 284.8 L532.8 288 L533.1 291.3 L533.4 294.6 L533.7 298 L534 301.4 L534.3 305 L534.6 308.5 L534.9 312.1 L535.2 315.8 L535.5 319.4 L535.8 322.9 L536.1 326.4 L536.3 329.9 L536.6 333.3 L536.9 336.6 L537.2 340 L537.5 343.4 L537.8 346.9 L538.1 350.4 L538.4 354.1 L538.7 357.9 L539 361.8 L539.3 365.8 L539.6 369.9 L539.9 374.2 L540.2 378.6 L540.5 383.1 L540.8 387.7 L541.1 392.5 L541.4 397.5 L541.6 402.6 L541.9 407.9 L542.2 413.3 L542.5 418.7 L542.8 424.1 L543.1 429.3 L543.4 434.3 L543.7 439 L544 443.4 L544.3 447.5 L544.6 451.2 L544.9 454.4 L545.2 457.1 L545.5 459.3 L545.8 460.8 L546.1 461.8 L546.4 462.2 L546.7 462 L546.9 461.1 L547.2 459.6 L547.5 457.3 L547.8 454.3 L548.1 450.5 L548.4 445.7 L548.7 439.9 L549 432.8 L549.3 424.4 L549.6 414.7 L549.9 404 L550.2 392.6 L550.5 380.6 L550.8 368 L551.1 354.8 L551.4 341.5 L551.7 328.5 L551.9 316 L552.2 304.2 L552.5 293.1 L552.8 282.4 L553.1 272 L553.4 261.9 L553.7 252 L554 242.3 L554.3 232.8 L554.6 223.5 L554.9 214.6 L555.2 206.4 L555.5 198.9 L555.8 192 L556.1 185.8 L556.4 180.1 L556.7 175 L557 170.5 L557.2 166.7 L557.5 163.4 L557.8 160.7 L558.1 158.5 L558.4 156.8 L558.7 155.5 L559 154.8 L559.3 154.5 L559.6 154.8 L559.9 155.6 L560.2 156.8 L560.5 158.6 L560.8 161 L561.1 164.1 L561.4 168 L561.7 172.8 L562 178.1 L562.2 183.5 L562.5 188.5 L562.8 192.9 L563.1 196.7 L563.4 200 L563.7 203 L564 205.8 L564.3 208.4 L564.6 210.9 L564.9 213.3 L565.2 215.6 L565.5 217.8 L565.8 220 L566.1 222 L566.4 224 L566.7 225.9 L567 227.8 L567.3 229.6 L567.5 231.3 L567.8 233 L568.1 234.7 L568.4 236.3 L568.7 237.8 L569 239.4 L569.3 240.8 L569.6 242.3 L569.9 243.6 L570.2 244.9 L570.5 246.1 L570.8 247.4 L571.1 248.6 L571.4 249.7 L571.7 250.9 L572 252.2 L572.3 253.5 L572.6 254.8 L572.8 256.2 L573.1 257.7 L573.4 259.2 L573.7 260.8 L574 262.6 L574.3 264.3 L574.6 266.2 L574.9 268.2 L575.2 270.2 L575.5 272.3 L575.8 274.5 L576.1 276.7 L576.4 279.1 L576.7 281.5 L577 284.1 L577.3 286.9 L577.6 289.8 L577.8 292.9 L578.1 296.3 L578.4 299.8 L578.7 303.4 L579 307.1 L579.3 310.9 L579.6 314.6 L579.9 318.4 L580.2 322.2 L580.5 326 L580.8 329.8 L581.1 333.7 L581.4 337.5 L581.7 341.4 L582 345.1 L582.3 348.9 L582.6 352.6 L582.9 356.3 L583.1 360 L583.4 363.7 L583.7 367.4 L584 371.2 L584.3 375 L584.6 379 L584.9 383.2 L585.2 387.4 L585.5 391.8 L585.8 396.3 L586.1 400.9 L586.4 405.6 L586.7 410.3 L587 415 L587.3 419.8 L587.6 424.7 L587.9 429.7 L588.1 434.8 L588.4 440.1 L588.7 445.6 L589 451.2 L589.3 456.8 L589.6 462.5 L589.9 468.1 L590.2 473.6 L590.5 478.8 L590.8 483.8 L591.1 488.3 L591.4 492.4 L591.7 496 L592 499 L592.3 501.4 L592.6 503 L592.9 504 L593.2 504.2 L593.4 503.8 L593.7 502.7 L594 501 L594.3 498.8 L594.6 495.9 L594.9 492.6 L595.2 488.7 L595.5 484.1 L595.8 478.4 L596.1 471.3 L596.4 462.5 L596.7 452 L597 440.3 L597.3 427.8 L597.6 414.6 L597.9 400.8 L598.2 386.2 L598.5 371.1 L598.7 355.6 L599 340.5 L599.3 326 L599.6 312.2 L599.9 299 L600.2 286.1 L600.5 273.4 L600.8 260.7 L601.1 247.9 L601.4 235.1 L601.7 222.7 L602 211 L602.3 200.5 L602.6 191.2 L602.9 183.2 L603.2 176.1 L603.5 169.8 L603.7 164 L604 158.9 L604.3 154.4 L604.6 150.6 L604.9 147.3 L605.2 144.7 L605.5 142.6 L605.8 141 L606.1 140 L606.4 139.5 L606.7 139.6 L607 140.2 L607.3 141.4 L607.6 143 L607.9 144.9 L608.2 147.2 L608.5 149.6 L608.8 152.1 L609 154.7 L609.3 157.3 L609.6 160.1 L609.9 163 L610.2 166.1 L610.5 169.4 L610.8 172.8 L611.1 176.3 L611.4 179.7 L611.7 183 L612 186.2 L612.3 189.2 L612.6 192 L612.9 194.8 L613.2 197.5 L613.5 200 L613.8 202.6 L614 205 L614.3 207.4 L614.6 209.7 L614.9 212 L615.2 214.3 L615.5 216.5 L615.8 218.6 L616.1 220.7 L616.4 222.8 L616.7 224.9 L617 226.9 L617.3 228.9 L617.6 230.9 L617.9 232.8 L618.2 234.7 L618.5 236.6 L618.8 238.5 L619.1 240.3 L619.3 242 L619.6 243.7 L619.9 245.3 L620.2 246.8 L620.5 248.3 L620.8 249.9 L621.1 251.4 L621.4 253 L621.7 254.7 L622 256.4 L622.3 258.3 L622.6 260.4 L622.9 262.6 L623.2 265.1 L623.5 267.7 L623.8 270.5 L624.1 273.6 L624.4 276.9 L624.6 280.4 L624.9 284.2 L625.2 288.3 L625.5 292.7 L625.8 297.6 L626.1 302.8 L626.4 308.3 L626.7 313.9 L627 319.4 L627.3 324.9 L627.6 330.2 L627.9 335.3 L628.2 340.4 L628.5 345.4 L628.8 350.3 L629.1 355.2 L629.4 360 L629.6 364.7 L629.9 369.3 L630.2 373.9 L630.5 378.3 L630.8 382.7 L631.1 387.1 L631.4 391.5 L631.7 395.9 L632 400.4 L632.3 404.9 L632.6 409.6 L632.9 414.4 L633.2 419.2 L633.5 424.2 L633.8 429.3 L634.1 434.4 L634.4 439.7 L634.7 445.1 L634.9 450.6 L635.2 456.3 L635.5 462.1 L635.8 468.2 L636.1 474.4 L636.4 480.7 L636.7 487.2 L637 493.7 L637.3 500.2 L637.6 506.7 L637.9 513.3 L638.2 519.9 L638.5 526.3 L638.8 532.2 L639.1 537.2 L639.4 541.2 L639.7 544.1 L639.9 546 L640.2 547 L640.5 547 L640.8 546 L641.1 543.9 L641.4 540 L641.7 534.1 L642 526 L642.3 516.5 L642.6 506.3 L642.9 495.9 L643.2 485.5 L643.5 475 L643.8 464 L644.1 452.8 L644.4 441.2 L644.7 429.1 L645 416.6 L645.2 403.3 L645.5 389.1 L645.8 373.9 L646.1 357.9 L646.4 341.4 L646.7 325 L647 308.8 L647.3 293 L647.6 277.8 L647.9 263.4 L648.2 249.7 L648.5 237 L648.8 225.2 L649.1 214.3 L649.4 204.4 L649.7 195.3 L650 187 L650.3 179.4 L650.5 172.2 L650.8 165.4 L651.1 158.9 L651.4 152.6 L651.7 146.8 L652 141.6 L652.3 137.1 L652.6 133.5 L652.9 130.6 L653.2 128.5 L653.5 127.1 L653.8 126.2 L654.1 126.1 L654.4 126.5 L654.7 127.4 L655 128.8 L655.3 130.5 L655.5 132.5 L655.8 134.6 L656.1 136.8 L656.4 139 L656.7 141.2 L657 143.5 L657.3 145.7 L657.6 148.1 L657.9 150.5 L658.2 153.1 L658.5 155.9 L658.8 158.9 L659.1 162.1 L659.4 165.2 L659.7 168.4 L660 171.4 L660.3 174.3 L660.6 177.1 L660.8 179.7 L661.1 182.3 L661.4 184.8 L661.7 187.2 L662 189.5 L662.3 191.8 L662.6 194.1 L662.9 196.3 L663.2 198.5 L663.5 200.6 L663.8 202.7 L664.1 204.8 L664.4 206.9 L664.7 208.9 L665 210.9 L665.3 212.9 L665.6 214.9 L665.9 216.8 L666.1 218.8 L666.4 220.7 L666.7 222.6 L667 224.5 L667.3 226.3 L667.6 228.2 L667.9 230 L668.2 231.7 L668.5 233.4 L668.8 235 L669.1 236.6 L669.4 238.1 L669.7 239.6 L670 241.1 L670.3 242.7 L670.6 244.3 L670.9 246 L671.1 247.8 L671.4 249.7 L671.7 251.7 L672 254 L672.3 256.4 L672.6 258.9 L672.9 261.7 L673.2 264.7 L673.5 267.9 L673.8 271.3 L674.1 275 L674.4 278.9 L674.7 283.2 L675 287.9 L675.3 293 L675.6 298.6 L675.9 304.4 L676.2 310.5 L676.4 316.5 L676.7 322.5 L677 328.4 L677.3 334.3 L677.6 340.1 L677.9 346 L678.2 351.8 L678.5 357.6 L678.8 363.2 L679.1 368.7 L679.4 374.1 L679.7 379.4 L680 384.6 L680.3 389.8 L680.6 395.1 L680.9 400.5 L681.2 406 L681.4 411.7 L681.7 417.5 L682 423.4 L682.3 429.4 L682.6 435.6 L682.9 441.8 L683.2 448.1 L683.5 454.6 L683.8 461.2 L684.1 468 L684.4 475 L684.7 482.1 L685 489.2 L685.3 496.4 L685.6 503.7 L685.9 511 L686.2 518.4 L686.5 525.6 L686.7 532.4 L687 538.3 L687.3 542.9 L687.6 546.2 L687.9 548.4 L688.2 549.4 L688.5 549.6 L688.8 548.8 L689.1 547.3 L689.4 545 L689.7 541.8 L690 537.7 L690.3 532.5 L690.6 525.9 L690.9 517.6 L691.2 507.6 L691.5 496 L691.8 483.2 L692 469.6 L692.3 455.7 L692.6 441.6 L692.9 427.2 L693.2 412.4 L693.5 397.1 L693.8 380.8 L694.1 363.7 L694.4 346 L694.7 328.2 L695 310.9 L695.3 294.5 L695.6 279 L695.9 264.2 L696.2 250 L696.5 236.3 L696.8 223 L697 210.1 L697.3 197.6 L697.6 185.6 L697.9 174.3 L698.2 163.7 L698.5 153.9 L698.8 144.7 L699.1 136 L699.4 127.8 L699.7 120.2 L700 113.6 L700.3 108.3 L700.6 104.3 L700.9 101.4 L701.2 99.6 L701.5 98.5 L701.8 98.2 L702.1 98.4 L702.3 99.3 L702.6 100.5 L702.9 102.2 L703.2 104.1 L703.5 106.3 L703.8 108.6 L704.1 110.9 L704.4 113.3 L704.7 115.7 L705 118.1 L705.3 120.5 L705.6 123.1 L705.9 125.8 L706.2 128.6 L706.5 131.6 L706.8 134.6 L707.1 137.6 L707.3 140.5 L707.6 143.3 L707.9 146.1 L708.2 148.6 L708.5 151.1 L708.8 153.4 L709.1 155.7 L709.4 157.9 L709.7 160 L710 162.1 L710.3 164.2 L710.6 166.2 L710.9 168.2 L711.2 170.1 L711.5 172 L711.8 173.9 L712.1 175.8 L712.4 177.7 L712.6 179.5 L712.9 181.3 L713.2 183.1 L713.5 184.9 L713.8 186.7 L714.1 188.5 L714.4 190.3 L714.7 192 L715 193.8 L715.3 195.6 L715.6 197.3 L715.9 199.1 L716.2 200.8 L716.5 202.6 L716.8 204.3 L717.1 206 L717.4 207.6 L717.7 209.2 L717.9 210.8 L718.2 212.3 L718.5 213.8 L718.8 215.3 L719.1 216.7 L719.4 218.2 L719.7 219.8 L720 221.4 L720.3 223.1 L720.6 224.9 L720.9 226.9 L721.2 229 L721.5 231.3 L721.8 233.8 L722.1 236.4 L722.4 239.2 L722.7 242.2 L722.9 245.4 L723.2 248.9 L723.5 252.5 L723.8 256.3 L724.1 260.5 L724.4 265 L724.7 269.9 L725 275.1 L725.3 280.7 L725.6 286.5 L725.9 292.4 L726.2 298.3 L726.5 304.2 L726.8 310 L727.1 315.9 L727.4 321.8 L727.7 327.7 L728 333.6 L728.2 339.3 L728.5 344.9 L728.8 350.4 L729.1 355.6 L729.4 360.7 L729.7 365.8 L730 370.8 L730.3 375.8 L730.6 380.9 L730.9 386.1 L731.2 391.4 L731.5 396.7 L731.8 402.2 L732.1 407.8 L732.4 413.4 L732.7 419.2 L733 425.1 L733.2 431.1 L733.5 437.3 L733.8 443.7 L734.1 450.3 L734.4 457.1 L734.7 464.3 L735 471.6 L735.3 479.1 L735.6 486.8 L735.9 494.9 L736.2 503.2 L736.5 511.5 L736.8 519.1 L737.1 525.3 L737.4 530 L737.7 533.1 L738 535.1 L738.3 535.9 L738.5 536 L738.8 535.2 L739.1 533.6 L739.4 531.1 L739.7 527.5 L740 522.5 L740.3 516 L740.6 507.5 L740.9 497 L741.2 484.6 L741.5 470.9 L741.8 456.5 L742.1 441.7 L742.4 426.5 L742.7 410.2 L743 391.9 L743.3 371.2 L743.6 349.4 L743.8 328.7 L744.1 310.7 L744.4 295.7 L744.7 282.5 L745 270 L745.3 257.2 L745.6 243.9 L745.9 230.1 L746.2 215.9 L746.5 201.8 L746.8 188 L747.1 174.6 L747.4 162.1 L747.7 150.5 L748 140 L748.3 130.7 L748.6 122.3 L748.8 114.9 L749.1 108.4 L749.4 102.7 L749.7 97.8 L750 93.5 L750.3 89.8 L750.6 86.5 L750.9 83.5 L751.2 81 L751.5 78.8 L751.8 77.1 L752.1 75.9 L752.4 75.3 L752.7 75.2 L753 75.7 L753.3 76.6 L753.6 78 L753.9 79.7 L754.1 81.7 L754.4 83.9 L754.7 86.3 L755 88.7 L755.3 91.1 L755.6 93.4 L755.9 95.7 L756.2 98 L756.5 100.2 L756.8 102.5 L757.1 104.9 L757.4 107.3 L757.7 109.9 L758 112.4 L758.3 115 L758.6 117.5 L758.9 120.1 L759.1 122.5 L759.4 124.9 L759.7 127.3 L760 129.6 L760.3 131.8 L760.6 133.9 L760.9 136 L761.2 138.1 L761.5 140.1 L761.8 142.1 L762.1 144.1 L762.4 146.1 L762.7 148 L763 150 L763.3 151.9 L763.6 153.8 L763.9 155.8 L764.2 157.7 L764.4 159.6 L764.7 161.5 L765 163.3 L765.3 165.2 L765.6 167.2 L765.9 169.1 L766.2 171 L766.5 172.9 L766.8 174.8 L767.1 176.8 L767.4 178.8 L767.7 180.7 L768 182.7 L768.3 184.7 L768.6 186.7 L768.9 188.8 L769.2 190.8 L769.5 192.8 L769.7 194.8 L770 196.7 L770.3 198.6 L770.6 200.4 L770.9 202.2 L771.2 203.9 L771.5 205.7 L771.8 207.4 L772.1 209.2 L772.4 211.1 L772.7 213.2 L773 215.4 L773.3 217.8 L773.6 220.4 L773.9 223.2 L774.2 226.3 L774.5 229.6 L774.7 233.1 L775 236.8 L775.3 240.7 L775.6 244.7 L775.9 249 L776.2 253.5 L776.5 258.4 L776.8 263.6 L777.1 269.2 L777.4 275.2 L777.7 281.3 L778 287.5 L778.3 293.6 L778.6 299.5 L778.9 305.3 L779.2 311 L779.5 316.6 L779.8 322.1 L780 327.5 L780.3 332.8 L780.6 338 L780.9 343 L781.2 348 L781.5 352.8 L781.8 357.4 L782.1 362.1 L782.4 366.6 L782.7 371.2 L783 375.7 L783.3 380.3 L783.6 385 L783.9 389.8 L784.2 394.6 L784.5 399.5 L784.8 404.5 L785 409.6 L785.3 414.7 L785.6 419.8 L785.9 425 L786.2 430.3 L786.5 435.6 L786.8 440.9 L787.1 446.4 L787.4 451.9 L787.7 457.4 L788 463.1 L788.3 468.8 L788.6 474.7 L788.9 480.6 L789.2 486.5 L789.5 492.5 L789.8 498.6 L790.1 504.8 L790.3 511.3 L790.6 518.1 L790.9 525.5 L791.2 533.2 L791.5 540.6 L791.8 546.9 L792.1 551.8 L792.4 555.2 L792.7 557.2 L793 558.2 L793.3 558.4 L793.6 557.8 L793.9 556.4 L794.2 554.3 L794.5 551.4 L794.8 547.7 L795.1 543 L795.4 537.1 L795.6 529.9 L795.9 521.1 L796.2 510.7 L796.5 499.1 L796.8 486.5 L797.1 473.4 L797.4 459.8 L797.7 446.1 L798 432.2 L798.3 417.9 L798.6 403 L798.9 387.2 L799.2 370.3 L799.5 352 L799.8 332.7 L800.1 312.6 L800.4 292.4 L800.6 272.8 L800.9 254.4 L801.2 237.6 L801.5 222.5 L801.8 209.1 L802.1 197.4 L802.4 187.2 L802.7 178.2 L803 170.2 L803.3 162.9 L803.6 156.1 L803.9 149.7 L804.2 143.8 L804.5 138.4 L804.8 133.5 L805.1 129.2 L805.4 125.4 L805.7 122.1 L805.9 119.5 L806.2 117.4 L806.5 115.8 L806.8 114.9 L807.1 114.4 L807.4 114.5 L807.7 115 L808 115.9 L808.3 117 L808.6 118.4 L808.9 120 L809.2 121.9 L809.5 124.1 L809.8 126.6 L810.1 129.5 L810.4 132.8 L810.7 136.5 L810.9 140.3 L811.2 144.3 L811.5 148.4 L811.8 152.6 L812.1 156.8 L812.4 160.8 L812.7 164.6 L813 168 L813.3 171.1 L813.6 173.8 L813.9 176.2 L814.2 178.2 L814.5 179.8 L814.8 181 L815.1 182 L815.4 182.7 L815.7 183.3 L816 183.7 L816.2 184.1 L816.5 184.3 L816.8 184.5 L817.1 184.6 L817.4 184.8 L817.7 184.9 L818 185 L818.3 185.2 L818.6 185.4 L818.9 185.7 L819.2 186.1 L819.5 186.6 L819.8 187.3 L820.1 188.1 L820.4 189.1 L820.7 190 L821 191.1 L821.3 192.2 L821.5 193.3 L821.8 194.5 L822.1 195.7 L822.4 197 L822.7 198.3 L823 199.7 L823.3 201 L823.6 202.3 L823.9 203.2" fill="none" stroke="#1c1cff" stroke-width="1.5" stroke-linejoin="round" stroke-linecap="round"/>
<clipPath id="cb"><rect x="900" y="0" width="867" height="720"/></clipPath>
<g clip-path="url(#cb)">
<line x1="1032.3" y1="553.2" x2="1032.3" y2="90.5" stroke="#d8d8d8" stroke-width="1.3"/>
<line x1="1032.3" y1="553.2" x2="1357.4" y2="629.4" stroke="#d8d8d8" stroke-width="1.3"/>
<line x1="1105.6" y1="543.2" x2="1105.6" y2="80.5" stroke="#d8d8d8" stroke-width="1.3"/>
<line x1="1105.6" y1="543.2" x2="1430.6" y2="619.5" stroke="#d8d8d8" stroke-width="1.3"/>
<line x1="1178.8" y1="533.2" x2="1178.8" y2="70.5" stroke="#d8d8d8" stroke-width="1.3"/>
<line x1="1178.8" y1="533.2" x2="1503.9" y2="609.5" stroke="#d8d8d8" stroke-width="1.3"/>
<line x1="1252" y1="523.2" x2="1252" y2="60.5" stroke="#d8d8d8" stroke-width="1.3"/>
<line x1="1252" y1="523.2" x2="1577.1" y2="599.5" stroke="#d8d8d8" stroke-width="1.3"/>
<line x1="1325.2" y1="513.3" x2="1325.2" y2="50.6" stroke="#d8d8d8" stroke-width="1.3"/>
<line x1="1325.2" y1="513.3" x2="1650.3" y2="589.5" stroke="#d8d8d8" stroke-width="1.3"/>
<line x1="1398.4" y1="503.3" x2="1398.4" y2="40.6" stroke="#d8d8d8" stroke-width="1.3"/>
<line x1="1398.4" y1="503.3" x2="1723.5" y2="579.6" stroke="#d8d8d8" stroke-width="1.3"/>
<line x1="1583.5" y1="529.3" x2="1583.5" y2="66.6" stroke="#d8d8d8" stroke-width="1.3"/>
<line x1="1583.5" y1="529.3" x2="1153.6" y2="589.5" stroke="#d8d8d8" stroke-width="1.3"/>
<line x1="1721.6" y1="561.7" x2="1721.6" y2="99" stroke="#d8d8d8" stroke-width="1.3"/>
<line x1="1721.6" y1="561.7" x2="1290.6" y2="621.9" stroke="#d8d8d8" stroke-width="1.3"/>
<line x1="1010" y1="490.1" x2="1445.3" y2="430.8" stroke="#d8d8d8" stroke-width="1.3"/>
<line x1="1445.3" y1="430.8" x2="1770.4" y2="507.1" stroke="#d8d8d8" stroke-width="1.3"/>
<line x1="1010" y1="424" x2="1445.3" y2="364.7" stroke="#d8d8d8" stroke-width="1.3"/>
<line x1="1445.3" y1="364.7" x2="1770.4" y2="441" stroke="#d8d8d8" stroke-width="1.3"/>
<line x1="1010" y1="357.9" x2="1445.3" y2="298.6" stroke="#d8d8d8" stroke-width="1.3"/>
<line x1="1445.3" y1="298.6" x2="1770.4" y2="374.9" stroke="#d8d8d8" stroke-width="1.3"/>
<line x1="1010" y1="291.8" x2="1445.3" y2="232.5" stroke="#d8d8d8" stroke-width="1.3"/>
<line x1="1445.3" y1="232.5" x2="1770.4" y2="308.8" stroke="#d8d8d8" stroke-width="1.3"/>
<line x1="1010" y1="225.7" x2="1445.3" y2="166.4" stroke="#d8d8d8" stroke-width="1.3"/>
<line x1="1445.3" y1="166.4" x2="1770.4" y2="242.7" stroke="#d8d8d8" stroke-width="1.3"/>
<line x1="1010" y1="159.6" x2="1445.3" y2="100.3" stroke="#d8d8d8" stroke-width="1.3"/>
<line x1="1445.3" y1="100.3" x2="1770.4" y2="176.6" stroke="#d8d8d8" stroke-width="1.3"/>
<line x1="1010" y1="93.5" x2="1445.3" y2="34.2" stroke="#d8d8d8" stroke-width="1.3"/>
<line x1="1445.3" y1="34.2" x2="1770.4" y2="110.5" stroke="#d8d8d8" stroke-width="1.3"/>
<line x1="1445.3" y1="496.9" x2="1445.3" y2="34.2" stroke="#d2d2d2" stroke-width="1.3"/>
<line x1="1010" y1="556.2" x2="1445.3" y2="496.9" stroke="#d2d2d2" stroke-width="1.3"/>
<line x1="1445.3" y1="496.9" x2="1770.4" y2="573.2" stroke="#d2d2d2" stroke-width="1.3"/>
<path d="M1641.4 333.3 L1636.6 337.5 L1631.1 343 L1625.3 348.8 L1619.1 354.1 L1612.6 358.5 L1605.5 362 L1597.8 364.7 L1589.2 367 L1579.7 368.9 L1569.6 370.5 L1559.2 371.9 L1548.8 373.2 L1538.5 374.5 L1528.2 375.7 L1518 376.8 L1507.5 377.9 L1496.6 378.8 L1485.5 379.7 L1474.1 380.5 L1462.6 381.3 L1451 382.1 L1439.6 382.9 L1428.3 383.8 L1417.5 384.8 L1407.2 385.9 L1397.6 387.2 L1388.7 388.7 L1380.7 390.4 L1373.5 392.3 L1367 394.4 L1361.1 396.6 L1355.5 399.1 L1350.3 401.7 L1345.3 404.5 L1340.6 407.5 L1336.3 410.7 L1332.2 414.1 L1328.4 417.7 L1324.8 421.4 L1321.5 425.3 L1318.3 429.3 L1315.4 433.4 L1312.7 437.7 L1310.3 442.1 L1308.1 446.6 L1306.1 451.1 L1304.3 455.5 L1302.5 459.6 L1300.8 463.2 L1299 466.2 L1297.3 468.4 L1295.7 469.8 L1294.2 470.4 L1293 470.4 L1292 469.9 L1291.3 468.8 L1290.5 467.1 L1289.7 464.8 L1288.7 461.8 L1287.6 457.8 L1286.4 452.8 L1285.1 446.6 L1283.8 439.1 L1282.4 430.8 L1281 422 L1279.6 413 L1278.1 404.1 L1276.6 395.1 L1275 386 L1273.3 376.6 L1271.6 366.8 L1269.7 356.5 L1267.6 345.8 L1265.4 334.9 L1263 323.9 L1260.5 313 L1257.8 302.3 L1254.9 292.1 L1251.9 282.4 L1248.7 273.4 L1245.3 265.4 L1241.7 258.2 L1237.9 252 L1233.9 246.6 L1229.8 241.8 L1225.4 237.6 L1220.8 233.8 L1216.2 230.6 L1211.6 227.7 L1207.1 225.4 L1202.8 223.5 L1198.8 222.1 L1195.2 221 L1192.1 220.3 L1189.7 220 L1188 220 L1187.1 220.3 L1186.9 221 L1187.5 222.1 L1189 223.4 L1191.2 225.1 L1194.1 227.1 L1197.8 229.2 L1202.2 231.6 L1207.3 234.1 L1213.1 236.8 L1219.4 239.6 L1226.3 242.5 L1234 245.6 L1242.7 248.7 L1252.7 251.5 L1263.8 253.9 L1275.7 256.1 L1288.1 258 L1300.5 259.7 L1312.8 261.3 L1325.1 262.8 L1337.8 264.1 L1351.3 265.3 L1365.9 266.2 L1382 266.8 L1399.4 267.2 L1417.4 267.5 L1435.5 267.7 L1453.1 267.9 L1470.1 268.2 L1486.2 268.6 L1501.4 269.1 L1515.5 269.8 L1528.5 270.6 L1540.4 271.6 L1551.2 272.6 L1561.1 273.8 L1570.4 275.1 L1579.3 276.3 L1587.7 277.6 L1595.8 279 L1603.6 280.4 L1611.1 282 L1618.2 283.6 L1625.1 285.4 L1631.6 287.3 L1637.8 289.4 L1643.4 291.5 L1648.6 293.9 L1653.1 296.3 L1656.9 298.9 L1659.8 301.5 L1662 304.3 L1663.3 307 L1663.7 309.8 L1663.4 312.6 L1662.3 315.4 L1660.6 318.2 L1658.2 321.1 L1655.3 324 L1651.7 327 L1647.5 330.2 L1642.7 333.4 L1637.3 336.6 L1631.5 339.7 L1625.3 342.6 L1618.6 345.4 L1611.3 347.8 L1603.1 350 L1594.3 351.8 L1584.8 353.5 L1575.2 355 L1565.5 356.6 L1556 358 L1546.5 359.5 L1536.8 360.8 L1526.6 361.9 L1515.4 362.8 L1503.2 363.5 L1490.2 363.9 L1476.6 364.1 L1463.1 364.5 L1449.9 364.9 L1437.4 365.5 L1425.5 366.4 L1414.5 367.6 L1404.3 369.1 L1395.2 371 L1387 373.2 L1379.7 375.7 L1373.1 378.4 L1367.1 381.4 L1361.7 384.6 L1356.6 388 L1352 391.7 L1347.7 395.6 L1343.8 399.7 L1340.2 404.1 L1336.8 408.8 L1333.8 413.7 L1331 418.7 L1328.4 423.8 L1326 428.8 L1323.9 433.8 L1322 438.5 L1320.3 443 L1318.7 447.1 L1317.3 450.7 L1316 453.7 L1314.8 456.2 L1313.4 458.1 L1312 459.4 L1310.5 460.2 L1308.7 460.5 L1306.7 460.4 L1304.6 459.8 L1302.5 458.7 L1300.3 457.2 L1298.2 455.2 L1296.1 452.6 L1293.9 449.2 L1291.7 444.7 L1289.5 439.1 L1287.1 432.4 L1284.8 424.9 L1282.5 416.9 L1280.3 408.8 L1278.1 400.8 L1275.9 392.7 L1273.8 384.3 L1271.7 375.1 L1269.6 364.8 L1267.4 353.2 L1265.2 340.5 L1263 327.1 L1260.6 313.8 L1258.1 300.8 L1255.4 288.6 L1252.7 277.2 L1249.9 266.7 L1247.1 257.2 L1244.1 248.9 L1241 241.8 L1237.9 235.6 L1234.6 230.3 L1231.2 225.7 L1227.6 221.6 L1223.7 218 L1219.7 214.8 L1215.4 212 L1211 209.7 L1206.6 207.8 L1202.2 206.3 L1198 205.2 L1194 204.5 L1190.5 204.1 L1187.3 204.1 L1184.7 204.6 L1182.5 205.4 L1180.9 206.6 L1179.9 208.1 L1179.6 210 L1180 212 L1181.2 214.3 L1183.2 216.6 L1186 219.1 L1189.7 221.6 L1194.2 224.2 L1199.7 226.9 L1206.2 229.7 L1213.9 232.6 L1222.9 235.5 L1233.1 238.2 L1244.8 240.6 L1257.7 242.7 L1271.5 244.5 L1285.8 246 L1300.1 247.4 L1314.5 248.7 L1329.3 249.8 L1345.1 250.7 L1362.4 251.2 L1381.4 251.5 L1401.5 251.5 L1421.6 251.5 L1440.9 251.5 L1459 251.7 L1475.7 252 L1491 252.5 L1505.1 253.1 L1518 253.9 L1529.9 254.9 L1540.9 255.9 L1551.1 257.1 L1560.7 258.3 L1569.7 259.6 L1578.3 261 L1586.5 262.4 L1594.2 263.9 L1601.7 265.4 L1608.8 266.9 L1615.7 268.4 L1622.5 270 L1629.1 271.6 L1635.6 273.3 L1641.9 275.1 L1647.8 276.9 L1653.4 278.8 L1658.4 280.8 L1662.8 282.9 L1666.4 285.1 L1669.3 287.5 L1671.5 289.9 L1672.9 292.5 L1673.5 295.1 L1673.4 297.8 L1672.6 300.6 L1671.2 303.4 L1669.3 306.3 L1666.8 309.2 L1663.7 312.3 L1660.1 315.6 L1655.8 319 L1650.7 322.5 L1644.7 326.1 L1637.6 329.6 L1629.4 332.9 L1620.1 335.8 L1609.9 338.4 L1599.1 340.8 L1588.1 343 L1577.1 345.1 L1566.1 347.1 L1554.8 348.9 L1542.8 350.5 L1529.7 351.6 L1515.3 352.4 L1500.1 352.8 L1484.8 353.2 L1470.2 353.7 L1456.6 354.4 L1444.1 355.4 L1432.7 356.6 L1422.4 358.2 L1413 360.1 L1404.5 362.2 L1396.7 364.6 L1389.5 367.1 L1382.9 369.8 L1376.8 372.7 L1371.2 375.8 L1365.8 379 L1360.9 382.3 L1356.4 385.8 L1352.3 389.5 L1348.4 393.5 L1344.9 397.6 L1341.6 402 L1338.4 406.5 L1335.5 411.1 L1332.8 415.8 L1330.3 420.4 L1328 424.9 L1325.9 429.2 L1324.1 433.3 L1322.6 437.1 L1321.3 440.7 L1320.2 444 L1319.3 446.9 L1318.4 449.4 L1317.5 451.3 L1316.7 452.7 L1315.7 453.5 L1314.6 453.8 L1313.4 453.6 L1312.1 452.8 L1310.6 451.4 L1308.9 449.3 L1307 446.4 L1304.9 442.5 L1302.5 437.4 L1300 431.1 L1297.3 423.6 L1294.5 415.2 L1291.7 406.4 L1288.7 397.3 L1285.7 388.2 L1282.8 378.6 L1279.8 368.1 L1277 356 L1274.4 342.3 L1271.9 327.6 L1269.5 312.7 L1267.2 298.5 L1265 285.4 L1262.9 273.6 L1260.8 263.1 L1258.7 253.7 L1256.5 245.4 L1254.3 238.1 L1252 231.6 L1249.6 225.9 L1247.2 220.8 L1244.8 216.2 L1242.3 212.1 L1239.7 208.4 L1237.1 205.1 L1234.4 202.3 L1231.6 199.8 L1228.7 197.6 L1225.6 195.6 L1222.3 194 L1218.8 192.6 L1215.1 191.4 L1211.1 190.5 L1206.7 190 L1202.1 189.9 L1197.2 190.2 L1192 191.1 L1186.3 192.4 L1180.6 194.2 L1175.4 196.4 L1171.1 198.7 L1168.3 201.2 L1166.9 203.7 L1166.8 206.2 L1167.6 208.6 L1169.4 211 L1172.1 213.5 L1175.5 215.9 L1179.8 218.4 L1185.2 221 L1191.8 223.7 L1199.7 226.5 L1209 229.2 L1219.9 231.7 L1232.3 234.1 L1245.8 236.1 L1260.2 238 L1274.9 239.6 L1289.5 241.2 L1303.8 242.7 L1317.9 244.2 L1332.2 245.5 L1346.9 246.7 L1362.4 247.6 L1378.9 248.3 L1396.2 248.8 L1413.8 249.2 L1431.2 249.6 L1448 250 L1464.1 250.4 L1479.4 251 L1494 251.6 L1507.9 252.2 L1521.2 253 L1533.8 253.8 L1545.8 254.7 L1557.1 255.6 L1567.8 256.6 L1577.9 257.6 L1587.4 258.7 L1596.6 259.8 L1605.4 260.9 L1613.9 262.1 L1622.1 263.3 L1629.9 264.6 L1637.2 266 L1644.2 267.6 L1650.7 269.4 L1657 271.3 L1663 273.5 L1668.8 275.9 L1674.4 278.5 L1679.7 281.3 L1684.2 284.2 L1687.7 287.2 L1689.7 290 L1690.5 292.8 L1690.1 295.5 L1688.8 298.3 L1686.8 301 L1684.1 303.8 L1680.8 306.7 L1676.8 309.7 L1672.1 312.9 L1666.5 316.3 L1659.9 319.8 L1652.4 323.3 L1643.9 326.8 L1634.4 330 L1624.2 333.1 L1613.4 336 L1602.6 338.8 L1592 341.5 L1581.6 344.3 L1571.3 346.9 L1561 349.3 L1550.3 351.4 L1538.9 353.2 L1526.7 354.6 L1513.9 355.7 L1500.9 356.7 L1488 357.5 L1475.5 358.5 L1463.7 359.5 L1452.4 360.7 L1441.8 362 L1431.7 363.5 L1422.2 365.1 L1413.2 366.9 L1404.7 368.8 L1396.7 370.8 L1389.2 373 L1382.3 375.3 L1375.8 377.7 L1369.7 380.3 L1363.9 383.1 L1358.4 385.9 L1353.4 389.1 L1348.7 392.4 L1344.6 396.2 L1341.1 400.3 L1338 404.7 L1335.4 409.6 L1333.1 414.9 L1331.3 420.7 L1329.8 426.9 L1328.7 433.4 L1327.8 439.7 L1327.2 445.2 L1326.8 449.6 L1326.6 452.9 L1326.5 455.2 L1326.4 456.7 L1326.4 457.5 L1326.4 457.7 L1326.3 457.4 L1326.3 456.5 L1326.3 454.8 L1326.3 452.4 L1326.3 449.1 L1326.2 444.7 L1326 439 L1325.5 432.1 L1324.7 424.1 L1323.5 415.3 L1321.9 406.3 L1319.9 397.4 L1317.5 388.7 L1314.9 380 L1312 371.2 L1309 361.9 L1305.9 351.6 L1302.7 340.4 L1299.4 328.3 L1296.1 315.9 L1292.7 303.6 L1289.3 291.8 L1285.9 280.6 L1282.6 270.1 L1279.5 260.2 L1276.4 251 L1273.5 242.4 L1270.7 234.3 L1267.9 226.8 L1265.2 219.9 L1262.4 213.5 L1259.7 207.8 L1256.9 202.5 L1254.1 197.7 L1251.2 193.2 L1248.4 189 L1245.5 185.3 L1242.6 182 L1239.7 179.3 L1236.7 177.2 L1233.7 175.6 L1230.7 174.5 L1227.6 173.9 L1224.4 173.8 L1221.1 174.2 L1217.6 175 L1214 176.3 L1210.2 177.9 L1206.3 180 L1202.2 182.4 L1197.9 185 L1193.5 187.9 L1189 191 L1184.5 194.2 L1180 197.6 L1175.9 201 L1172.5 204.5 L1170.1 208.1 L1168.7 211.7 L1168.3 215.2 L1168.7 218.6 L1170 221.8 L1172.1 224.9 L1175 227.8 L1178.8 230.6 L1183.3 233.2 L1188.7 235.7 L1194.8 238 L1201.6 240.3 L1209 242.4 L1217.3 244.4 L1226.7 246.2 L1237.4 247.8 L1249.7 249.1 L1263.2 250.2 L1277.6 251.2 L1292.5 252.1 L1307.4 252.8 L1322.1 253.6 L1336.8 254.2 L1351.7 254.8 L1366.8 255.3 L1382.3 255.7 L1398.3 255.9 L1414.5 256.2 L1431 256.3 L1447.6 256.4 L1464.2 256.6 L1480.4 256.7 L1496.1 256.9 L1510.9 257.1 L1524.9 257.4 L1537.9 257.8 L1550.1 258.3 L1561.3 258.9 L1571.9 259.6 L1581.8 260.3 L1591.3 261.2 L1600.5 262.1 L1609.8 263.1 L1619 264.2 L1628 265.5 L1636.6 266.9 L1644.6 268.6 L1651.8 270.5 L1658.4 272.6 L1664.4 274.9 L1670 277.4 L1675.1 280 L1679.4 282.8 L1682.8 285.6 L1685.1 288.4 L1686.4 291.1 L1686.6 293.9 L1685.9 296.7 L1684.4 299.6 L1682.1 302.6 L1679.2 305.7 L1675.8 309 L1671.7 312.6 L1667.1 316.3 L1661.9 320.1 L1656.4 324 L1650.5 327.8 L1644.2 331.5 L1637.2 335 L1629.4 338.3 L1620.6 341.3 L1610.9 344.2 L1600.6 346.8 L1590.1 349.3 L1579.5 351.6 L1569 353.9 L1558.5 355.9 L1547.9 357.8 L1537 359.5 L1525.8 361.1 L1514.4 362.5 L1502.7 363.9 L1490.8 365.2 L1478.9 366.5 L1467.1 367.8 L1455.5 369.2 L1444.4 370.6 L1433.9 372.2 L1424 373.9 L1414.9 375.8 L1406.5 377.8 L1398.8 380 L1391.6 382.4 L1385 384.9 L1378.8 387.6 L1372.8 390.5 L1366.9 393.5 L1361.3 396.7 L1355.8 400.3 L1350.9 404.1 L1346.7 408.2 L1343.1 412.7 L1340.2 417.4 L1337.8 422.5 L1335.8 427.8 L1334.3 433.1 L1333.1 438.3 L1332.1 443 L1331.5 446.9 L1331 450.1 L1330.8 452.6 L1330.7 454.5 L1330.7 455.8 L1330.8 456.5 L1330.9 456.7 L1331 456.4 L1331.1 455.7 L1331.1 454.5 L1331.1 452.7 L1331 450.5 L1330.6 447.8 L1330 444.3 L1329.1 439.8 L1327.8 434.2 L1326.2 427.2 L1324.3 419.1 L1322 410.2 L1319.4 400.9 L1316.6 391.5 L1313.8 382.1 L1310.9 372.6 L1308 362.9 L1305.1 352.9 L1302.1 342.4 L1299.2 331.6 L1296.3 320.4 L1293.4 308.9 L1290.6 297.4 L1287.9 285.9 L1285.3 274.7 L1282.9 264 L1280.5 253.9 L1278.2 244.7 L1276 236.2 L1273.8 228.6 L1271.7 221.7 L1269.5 215.6 L1267.4 210 L1265.1 204.9 L1262.8 200 L1260.5 195.3 L1258.1 190.8 L1255.6 186.6 L1253 182.9 L1250.3 180 L1247.6 177.8 L1244.7 176.4 L1241.8 175.5 L1238.9 175.3 L1235.8 175.4 L1232.7 176.1 L1229.4 177.1 L1226.1 178.6 L1222.6 180.4 L1219.1 182.6 L1215.4 185.2 L1211.7 188 L1207.9 191.1 L1204.2 194.4 L1200.5 197.8 L1196.8 201.4 L1193.3 205.1 L1190.1 208.9 L1187.4 212.6 L1185.4 216.2 L1184.1 219.5 L1183.7 222.7 L1184 225.7 L1185.2 228.5 L1187.3 231.2 L1190.2 233.7 L1193.8 236.2 L1198.3 238.5 L1203.4 240.7 L1209.4 242.7 L1216.3 244.6 L1224.2 246.3 L1233.4 247.7 L1243.8 249 L1255.5 250 L1268.2 250.9 L1281.4 251.7 L1294.9 252.3 L1308.3 252.9 L1321.9 253.5 L1335.7 253.9 L1350 254.2 L1365.1 254.4 L1380.7 254.5 L1396.8 254.5 L1413.2 254.5 L1429.5 254.4 L1445.5 254.4 L1461.2 254.4 L1476.4 254.5 L1491.1 254.7 L1505.1 254.9 L1518.4 255.2 L1531 255.6 L1543 256 L1554.2 256.5 L1564.7 257.2 L1574.5 257.9 L1583.9 258.7 L1592.9 259.6 L1601.6 260.6 L1610.1 261.8 L1618.3 263.1 L1626 264.5 L1633.3 266.2 L1640.1 268 L1646.3 270.1 L1652.1 272.3 L1657.4 274.8 L1662.2 277.4 L1666.5 280.2 L1670.1 283.1 L1673.1 286.1 L1675.1 289.3 L1676.3 292.4 L1676.5 295.7 L1675.8 299.1 L1674.2 302.6 L1671.8 306.4 L1668.6 310.3 L1664.7 314.4 L1660.2 318.4 L1655.3 322.4 L1650.1 326.3 L1644.4 329.9 L1638.2 333.2 L1631.2 336.3 L1623.4 339 L1614.8 341.6 L1605.5 343.8 L1595.8 345.9 L1586 347.8 L1576.1 349.6 L1566.1 351.2 L1555.9 352.6 L1545.3 353.8 L1534.2 354.8 L1522.6 355.6 L1510.6 356.3 L1498.5 357 L1486.6 357.7 L1474.8 358.4 L1463.3 359.3 L1452.3 360.3 L1441.7 361.5 L1431.7 362.8 L1422.2 364.3 L1413.3 365.9 L1405 367.8 L1397.3 369.8 L1390.2 372 L1383.6 374.4 L1377.4 376.9 L1371.6 379.6 L1366.1 382.5 L1360.9 385.6 L1356.1 388.9 L1351.7 392.5 L1347.8 396.3 L1344.4 400.3 L1341.5 404.5 L1339 408.9 L1336.9 413.5 L1335.1 418.1 L1333.7 422.8 L1332.6 427.4 L1331.8 431.7 L1331.2 435.6 L1330.8 439 L1330.7 441.9 L1330.8 444.2 L1331.2 446 L1331.7 447.4 L1332.3 448.2 L1333 448.5 L1333.7 448.3 L1334.2 447.5 L1334.3 445.9 L1334.2 443.4 L1333.7 439.9 L1332.9 435.3 L1331.8 429.5 L1330.3 422.6 L1328.5 414.7 L1326.4 406.4 L1323.9 397.7 L1321.2 389 L1318.4 380.2 L1315.4 371 L1312.4 361.2 L1309.4 350.8 L1306.3 339.7 L1303.2 328.3 L1300.1 316.6 L1296.9 304.9 L1293.9 293.5 L1290.9 282.4 L1288.1 271.8 L1285.5 261.7 L1283 252.1 L1280.6 243.2 L1278.4 235 L1276.2 227.4 L1274 220.4 L1271.9 214.1 L1269.8 208.5 L1267.6 203.4 L1265.4 198.6 L1263.2 194.2 L1260.9 190.1 L1258.5 186.4 L1256.1 183.2 L1253.6 180.5 L1250.9 178.4 L1248.2 176.8 L1245.3 175.8 L1242.3 175.2 L1239.2 175.1 L1236 175.5 L1232.7 176.3 L1229.2 177.5 L1225.6 179.2 L1221.8 181.3 L1218 183.8 L1214.1 186.7 L1210.2 190 L1206.4 193.6 L1202.6 197.5 L1199 201.6 L1195.7 205.9 L1192.7 210 L1190.3 213.8 L1188.5 217.3 L1187.5 220.6 L1187.3 223.5 L1187.8 226.3 L1189.1 228.9 L1191.2 231.4 L1194.2 233.8 L1198 236.1 L1202.7 238.3 L1208.2 240.4 L1214.6 242.3 L1222 244.1 L1230.7 245.6 L1240.7 246.9 L1252 248.1 L1264.6 249 L1278 249.8 L1291.8 250.4 L1305.7 251.1 L1319.5 251.6 L1333.2 252.1 L1347.1 252.5 L1361.3 252.8 L1375.9 253 L1391.1 253.1 L1406.7 253.1 L1422.7 253 L1438.7 252.9 L1454.8 252.8 L1470.5 252.7 L1485.6 252.6 L1500.1 252.7 L1513.8 252.8 L1526.7 253 L1538.8 253.3 L1550.2 253.7 L1560.8 254.2 L1570.8 254.8 L1580.2 255.5 L1589.4 256.3 L1598.4 257.2 L1607.3 258.2 L1616 259.3 L1624.3 260.6 L1632.1 262.1 L1639.1 263.8 L1645.5 265.7 L1651.3 267.8 L1656.4 270.1 L1661 272.5 L1665 275.1 L1668.5 277.8 L1671.3 280.6 L1673.3 283.5 L1674.6 286.4 L1675.1 289.4 L1674.7 292.4 L1673.7 295.6 L1671.9 298.9 L1669.4 302.4 L1666.1 306.1 L1662 309.9 L1657.2 313.8 L1651.9 317.7 L1646 321.5 L1639.7 325 L1632.7 328.4 L1625 331.4 L1616.3 334.3 L1607 336.9 L1597 339.2 L1586.8 341.5 L1576.6 343.5 L1566.4 345.4 L1556.2 347.1 L1545.9 348.6 L1535.4 349.9 L1524.5 351 L1513.2 351.9 L1501.5 352.7 L1489.6 353.3 L1477.7 353.9 L1465.9 354.6 L1454.3 355.2 L1443.2 356.1 L1432.7 357 L1422.8 358.2 L1413.6 359.5 L1405 361.1 L1397.1 362.8 L1389.8 364.8 L1383.1 367 L1376.9 369.4 L1371.1 371.9 L1365.5 374.7 L1360.1 377.6 L1355 380.7 L1350.3 384.2 L1346.1 387.9 L1342.6 391.9 L1339.5 396.1 L1337 400.5 L1334.9 405 L1333.2 409.7 L1331.8 414.4 L1330.6 419 L1329.7 423.4 L1329.1 427.4 L1328.6 431.1 L1328.3 434.2 L1328.2 436.8 L1328.2 438.9 L1328.3 440.6 L1328.5 441.7 L1328.9 442.3 L1329.5 442.3 L1330.1 441.9 L1330.6 440.7 L1330.8 438.8 L1330.7 435.9 L1330.2 431.9 L1329.3 426.7 L1328.1 420.3 L1326.5 412.7 L1324.7 404.4 L1322.7 395.7 L1320.6 386.8 L1318.4 377.9 L1316.1 368.9 L1313.8 359.7 L1311.4 350 L1309 339.9 L1306.5 329.3 L1304 318.1 L1301.6 306.6 L1299.2 295 L1296.8 283.4 L1294.5 272.1 L1292.3 261.3 L1290.2 251.1 L1288.1 241.7 L1286 233 L1283.9 225 L1281.7 217.8 L1279.5 211.2 L1277.2 205.4 L1274.8 200 L1272.3 195.1 L1269.7 190.4 L1267 185.9 L1264.1 181.7 L1261.2 178 L1258.1 175 L1255 172.7 L1251.7 171.1 L1248.3 170.1 L1244.8 169.7 L1241.2 169.9 L1237.3 170.5 L1233.3 171.7 L1229.2 173.2 L1224.9 175.1 L1220.5 177.4 L1216.1 180 L1211.8 182.9 L1207.6 186 L1203.6 189.3 L1200.1 192.9 L1197.1 196.6 L1194.7 200.6 L1193.1 204.7 L1192.1 208.7 L1191.9 212.5 L1192.4 216 L1193.7 219.2 L1195.7 222.1 L1198.5 224.9 L1202.1 227.5 L1206.4 229.9 L1211.5 232.2 L1217.5 234.3 L1224.4 236.2 L1232.2 238 L1240.8 239.5 L1250.4 240.9 L1260.9 242.1 L1272.2 243.2 L1284.1 244.1 L1296.3 244.9 L1308.6 245.7 L1320.6 246.4 L1332.6 247.1 L1344.6 247.7 L1356.9 248.3 L1369.8 248.7 L1383.7 248.9 L1398.4 249 L1413.8 249 L1429.5 248.9 L1445.3 248.7 L1460.7 248.6 L1475.5 248.6 L1489.6 248.7 L1502.9 248.8 L1515.3 249.1 L1526.9 249.5 L1537.7 250 L1547.8 250.6 L1557.3 251.4 L1566.4 252.4 L1575.3 253.4 L1584.1 254.5 L1592.8 255.8 L1601.2 257.2 L1609.3 258.8 L1616.9 260.6 L1624 262.6 L1630.5 264.7 L1636.4 266.9 L1641.7 269.3 L1646.5 271.8 L1650.5 274.3 L1653.7 276.9 L1656.1 279.5 L1657.5 282.1 L1658.2 284.8 L1658 287.5 L1657.1 290.2 L1655.5 293.1 L1653.4 296.1 L1650.6 299.1 L1647.3 302.3 L1643.4 305.5 L1638.8 308.8 L1633.6 311.9 L1627.7 314.9 L1621.3 317.8 L1614.3 320.5 L1606.8 323 L1598.7 325.4 L1590.2 327.6 L1581.2 329.6 L1572.1 331.6 L1563 333.4 L1554 335.1 L1545.1 336.8 L1536.2 338.3 L1527 339.8 L1517.4 341 L1507.1 342 L1496.2 342.9 L1484.7 343.6 L1473.1 344.3 L1461.5 345.1 L1450.3 346 L1439.5 347 L1429.4 348.3 L1420 349.9 L1411.3 351.6 L1403.2 353.6 L1395.9 355.9 L1389.1 358.3 L1382.9 361 L1377.1 364 L1371.6 367.1 L1366.2 370.4 L1361.1 374 L1356.3 377.8 L1351.9 382 L1348.1 386.4 L1344.7 391 L1341.9 395.8 L1339.6 400.7 L1337.6 405.6 L1336 410.4 L1334.7 415 L1333.7 419.2 L1333.1 423 L1332.7 426.2 L1332.5 429 L1332.4 431.3 L1332.5 433 L1332.7 434.3 L1332.8 435.1 L1333 435.3 L1333.1 435.1 L1333.3 434.3 L1333.4 432.9 L1333.4 430.8 L1333.3 427.9 L1333 424.2 L1332.5 419.8 L1331.7 414.5 L1330.6 408.4 L1329.1 401.5 L1327.4 394.2 L1325.2 386.5 L1322.7 378.7 L1320 371.1 L1317.2 363.5 L1314.3 355.8 L1311.4 347.8 L1308.5 339.2 L1305.6 329.7 L1302.7 319.4 L1299.8 308.4 L1297 297.2 L1294.2 286 L1291.4 275.1 L1288.8 264.8 L1286.2 255.2 L1283.6 246.4 L1281.1 238.4 L1278.7 231.2 L1276.2 224.7 L1273.6 219 L1271 213.9 L1268.3 209.3 L1265.5 205 L1262.7 201 L1259.7 197.1 L1256.7 193.6 L1253.6 190.6 L1250.5 188.2 L1247.3 186.4 L1244.1 185.1 L1240.8 184.3 L1237.5 183.9 L1234.1 184 L1230.6 184.6 L1226.9 185.5 L1223.2 186.9 L1219.2 188.6 L1215.2 190.7 L1210.9 193.1 L1206.5 195.9 L1201.7 198.9 L1196.6 202.1 L1191.3 205.4 L1186.4 208.9 L1182.6 212.3 L1180.1 215.7 L1179 219 L1179 222.1 L1180 225.1 L1181.7 227.9 L1184.2 230.5 L1187.4 232.9 L1191.2 235.2 L1195.8 237.4 L1201 239.5 L1206.8 241.6 L1213.1 243.5 L1220 245.4 L1227.6 247.2 L1236.4 248.7 L1246.5 250 L1258.1 251.1 L1270.9 251.9 L1284.5 252.7 L1298.3 253.3 L1312.2 253.9 L1326 254.4 L1339.9 254.9 L1354.1 255.4 L1368.8 255.7 L1384 255.9 L1399.8 256 L1416 256 L1432.4 256 L1448.6 256 L1464.4 256.1 L1479.5 256.3 L1493.8 256.6 L1507.2 257.1 L1519.7 257.6 L1531.3 258.2 L1542.1 259 L1552.2 259.8 L1561.6 260.6 L1570.7 261.5 L1579.7 262.4 L1588.7 263.3 L1597.7 264.2 L1606.5 265.3 L1614.6 266.5 L1621.8 267.9 L1628.3 269.5 L1634.2 271.3 L1639.6 273.3 L1644.8 275.6 L1649.8 278.1 L1654.6 280.7 L1658.7 283.5 L1661.7 286.2 L1663.4 288.9 L1663.8 291.5 L1663 294.1 L1661.1 296.7 L1658.3 299.3 L1654.6 302.1 L1650 305 L1645 308 L1639.7 311.2 L1634.6 314.5 L1629.7 317.9 L1624.9 321.4 L1619.9 324.8 L1614.5 328.1 L1608.4 331.2 L1601.3 334 L1593.1 336.5 L1584.1 338.7 L1574.5 340.7 L1564.7 342.7 L1554.9 344.5 L1545.2 346.3 L1535.4 348 L1525.3 349.5 L1514.9 350.8 L1504.1 352 L1492.8 353.1 L1481.3 354 L1469.7 355 L1458.2 356.1 L1447.2 357.3 L1436.7 358.7 L1426.9 360.3 L1417.9 362.2 L1409.6 364.2 L1402 366.4 L1395.1 368.8 L1388.9 371.4 L1383.1 374 L1377.6 376.8 L1372.2 379.6 L1366.9 382.5 L1361.6 385.5 L1356.6 388.7 L1352.2 392.2 L1348.4 396 L1345.3 400.2 L1342.7 404.7 L1340.6 409.6 L1338.8 414.9 L1337.3 420.8 L1336.1 426.9 L1335.1 432.7 L1334.3 437.8 L1333.8 441.8 L1333.4 444.8 L1333.3 446.8 L1333.5 448.2 L1334 449.1 L1334.8 449.5 L1335.8 449.5 L1336.8 449.1 L1337.6 448.2 L1337.9 446.9 L1337.8 445.1 L1337.2 442.9 L1336.3 440.3 L1335.1 437 L1333.9 432.7 L1332.4 427.1 L1330.9 420.1 L1329.3 412.1 L1327.6 403.3 L1325.8 394.2 L1323.9 385.1 L1321.9 376 L1319.8 366.7 L1317.7 357.1 L1315.5 347 L1313.3 336.4 L1311.1 325.2 L1309 313.6 L1306.9 301.9 L1304.8 290.4 L1302.7 279.3 L1300.6 268.8 L1298.5 259.2 L1296.2 250.4 L1293.9 242.4 L1291.4 235.3 L1288.8 229 L1286.1 223.3 L1283.2 218.2 L1280.2 213.4 L1277.1 208.8 L1273.9 204.2 L1270.6 199.7 L1267.1 195.6 L1263.6 192.2 L1259.9 189.7 L1256.1 188.1 L1252.2 187.2 L1248.3 186.9 L1244.3 187.1 L1240.5 187.7 L1236.9 188.8 L1233.5 190.1 L1230.3 191.8 L1227.5 193.8 L1225.1 196 L1223 198.6 L1221.4 201.5 L1220.3 204.8 L1219.7 208.4 L1219.6 212.3 L1220.2 216.3 L1221.4 220.1 L1223.2 223.4 L1225.7 226.1 L1228.9 228.6 L1232.8 230.7 L1237.4 232.6 L1242.9 234.4 L1249.3 236 L1256.7 237.4 L1265.3 238.6 L1275 239.6 L1286 240.4 L1297.9 241 L1310.5 241.6 L1323.7 242 L1337.4 242.4 L1351.6 242.6 L1365.9 242.8 L1380 243 L1393.6 243.2 L1406.4 243.5 L1418.7 243.8 L1430.6 244.2 L1442.1 244.5 L1453.5 244.9 L1464.6 245.3 L1475.8 245.7 L1486.8 246.1 L1497.6 246.5 L1508.2 246.9 L1518.3 247.4 L1527.8 248 L1536.8 248.7 L1545.3 249.5 L1553.5 250.3 L1561.2 251.3 L1568.4 252.4 L1575.3 253.6 L1581.7 255 L1587.7 256.5 L1593.3 258.2 L1598.5 259.9 L1603.2 261.8 L1607.4 263.8 L1611 265.8 L1613.9 267.9 L1616.2 270.1 L1617.9 272.3 L1618.7 274.5 L1618.8 276.8 L1617.8 279.2 L1615.8 281.6 L1612.6 284.1 L1608.5 286.7 L1603.9 289.2 L1599.2 291.7 L1594.7 294.1 L1590.3 296.5 L1585.9 298.9 L1581.2 301.1 L1576.1 303.3 L1570.5 305.4 L1564.3 307.4 L1557.3 309.2 L1549.6 310.8 L1541.1 312.3 L1532 313.7 L1522.4 314.9 L1512.5 316.2 L1502.3 317.3 L1491.8 318.4 L1481.2 319.4 L1470.8 320.4 L1460.8 321.5 L1451.4 322.6 L1442.4 323.8 L1433.8 325 L1425.4 326.3 L1417.3 327.6 L1409.4 329 L1401.6 330.5 L1394 332.1 L1386.6 333.8 L1379.5 335.7 L1372.9 337.8 L1366.7 340.1 L1361 342.6 L1355.7 345.3 L1350.8 348.2 L1346.1 351.3 L1341.8 354.7 L1337.9 358.2 L1334.3 362.1 L1331 366.1 L1328 370.3 L1325.2 374.7 L1322.7 379 L1320.5 383.4 L1318.5 387.6 L1316.8 391.7 L1315.4 395.7 L1314.2 399.4 L1313.3 403 L1312.7 406.3 L1312.5 409.3 L1312.7 412 L1313.2 414.4 L1314 416.4 L1314.7 417.9 L1315 419 L1314.7 419.4 L1313.9 419.2 L1312.8 418.4 L1311.4 416.9 L1309.9 414.7 L1308.3 411.7 L1306.6 407.9 L1304.8 403 L1302.9 397 L1301 390 L1299 382.2 L1297 373.8 L1294.9 364.8 L1292.9 355.4 L1290.8 345.5 L1288.8 335.5 L1286.7 325.7 L1284.5 316.3 L1282.2 307.5 L1279.8 299.2 L1277.3 291.3 L1274.6 283.7 L1271.8 276.3 L1268.8 269.1 L1265.7 262 L1262.5 255 L1259.2 248.3 L1255.8 241.9 L1252.3 236 L1248.8 230.7 L1245.3 225.9 L1241.6 221.7 L1237.9 218 L1234.1 214.7 L1230.1 211.9 L1226.1 209.7 L1222.1 208 L1218.1 206.8 L1214.2 206 L1210.5 205.5 L1207.1 205.5 L1204 205.8 L1201.3 206.4 L1199.1 207.5 L1197.3 208.9 L1196.2 210.6 L1195.7 212.7 L1195.8 215.3 L1196.7 218.3 L1198.3 221.9 L1200.7 226.2 L1203.8 230.8 L1207.6 235.5 L1212 239.9 L1216.9 243.6 L1222.4 246.9 L1228.4 249.7 L1235.1 252.1 L1242.8 254.3 L1251.7 256.2 L1262.2 257.7 L1274.1 259 L1287.2 260 L1301 260.9 L1315.4 261.6 L1330.3 262.2 L1345.9 262.6 L1362 262.9 L1378.3 263.1 L1394.3 263.3 L1409.8 263.5 L1424.6 263.8 L1439 264.1 L1453.1 264.5 L1467.2 264.8 L1481.4 265.1 L1495.8 265.5 L1510.2 265.7 L1524.4 266 L1537.9 266.4 L1550.5 266.8 L1561.9 267.4 L1572.3 268.2 L1581.9 269 L1590.9 270 L1599.4 271.1 L1607.5 272.3 L1615 273.7 L1622.2 275.2 L1628.8 276.9 L1635 278.7 L1640.8 280.7 L1646 282.8 L1650.6 285 L1654.5 287.2 L1657.8 289.6 L1660.3 292 L1662 294.5 L1663 297 L1663.3 299.6 L1662.9 302.1 L1661.9 304.7 L1660.3 307.2 L1658.1 309.8 L1655.4 312.4 L1652.2 315.1 L1648.4 317.9 L1644.1 320.8 L1639.3 323.6 L1634 326.5 L1628.3 329.4 L1622.1 332.1 L1615.3 334.7 L1607.7 337 L1599 339 L1589.4 340.8 L1579 342.4 L1568.1 343.8 L1556.9 345.2 L1545.3 346.3 L1533.3 347.4 L1520.9 348.3 L1508.4 349.1 L1496.2 349.9 L1484.4 350.9 L1473.1 352 L1462.2 353.2 L1451.6 354.5 L1441.2 356 L1430.7 357.6 L1420.3 359.3 L1409.8 361 L1399.7 363 L1390.1 365.1 L1381.3 367.4 L1373.3 369.9 L1366.3 372.7 L1359.9 375.7 L1354 378.9 L1348.6 382.2 L1343.7 385.7 L1339.3 389.5 L1335.4 393.4 L1331.8 397.6 L1328.7 402 L1325.8 406.4 L1323.3 410.9 L1321 415.4 L1319 419.8 L1317.2 424 L1315.6 428.1 L1314.2 431.9 L1312.9 435.4 L1311.7 438.4 L1310.5 441.1 L1309.1 443.2 L1307.7 444.8 L1306 445.9 L1304.2 446.4 L1302.1 446.6 L1299.7 446.2 L1297.2 445.5 L1294.5 444.4 L1291.7 443 L1289.1 441.1 L1286.5 438.5 L1284 435.1 L1281.5 430.5 L1279 424.4 L1276.5 417.1 L1274 408.6 L1271.4 399.5 L1268.8 389.8 L1266.3 379.7 L1263.8 368.9 L1261.4 357.5 L1259 346 L1256.6 334.6 L1254.2 323.8 L1251.7 313.6 L1249.3 303.8 L1246.7 294.2 L1244 284.8 L1241.2 275.4 L1238.3 266 L1235.3 256.6 L1232.2 247.5 L1229 238.9 L1225.6 231.4 L1222.2 224.9 L1218.6 219.3 L1214.9 214.5 L1211 210.4 L1206.9 206.7 L1202.5 203.5 L1198 200.9 L1193.4 198.8 L1188.6 197.2 L1183.8 196.1 L1179.1 195.5 L1174.4 195.3 L1169.6 195.5 L1165 196.3 L1160.7 197.4 L1157 199 L1154.1 201 L1152.3 203.2 L1151.6 205.5 L1152 208.1 L1153.3 210.6 L1155.7 213.2 L1159.1 215.8 L1163.8 218.3 L1170.3 220.8 L1178.9 223.2 L1189.6 225.6 L1201.8 227.9 L1214.7 230.3 L1227.8 232.7 L1240.8 235.1 L1253.8 237.3 L1267.1 239.4 L1280.6 241.2 L1294.3 242.9 L1308.4 244.5 L1322.9 245.9 L1338 247.1 L1354 248.1 L1370.7 249 L1388.1 249.7 L1405.9 250.3 L1423.6 250.8 L1441 251.3 L1458.1 251.9 L1474.6 252.5 L1490.6 253.2 L1505.9 253.9 L1520.5 254.8 L1534.3 255.7 L1547.3 256.8 L1559.5 257.9 L1571.1 259.2 L1582 260.6 L1592.4 262 L1602.4 263.5 L1612.3 264.9 L1622 266.4 L1631.5 268 L1640.8 269.5 L1649.6 271.1 L1657.9 272.8 L1665.5 274.6 L1672.5 276.5 L1678.8 278.6 L1684.5 280.8 L1689.7 283.2 L1694.3 285.7 L1698.3 288.5 L1701.4 291.3 L1703.5 294.3 L1704.7 297.2 L1704.9 300.2 L1704.3 303.2 L1703 306.3 L1701 309.4 L1698.4 312.6 L1694.9 315.9 L1690.3 319.1 L1684.2 322.4 L1676.6 325.6 L1667.8 328.8 L1658.4 332.1 L1648.7 335.3 L1638.9 338.5 L1628.9 341.5 L1618.7 344.3 L1608.4 346.9 L1597.9 349.5 L1587.3 351.9 L1576.5 354.2 L1565.2 356.3 L1553.4 358.1 L1541 359.8 L1528.1 361.2 L1514.9 362.4 L1501.7 363.7 L1488.8 364.9 L1476.2 366.2 L1464.1 367.6 L1452.4 369.2 L1441.3 371 L1430.9 373 L1421.1 375.2 L1411.9 377.7 L1403.4 380.4 L1395.5 383.3 L1388.2 386.4 L1381.3 389.6 L1374.7 393.1 L1368.4 396.7 L1362.3 400.5 L1356.5 404.5 L1350.9 408.6 L1345.8 413.1 L1341.2 417.7 L1337.2 422.5 L1333.8 427.5 L1331 432.6 L1328.6 437.9 L1326.7 443.3 L1325.3 448.8 L1324.1 454.2 L1323.3 459.3 L1322.8 463.8 L1322.4 467.5 L1322 470.4 L1321.5 472.5 L1321 473.9 L1320.4 474.6 L1319.6 474.5 L1318.6 473.4 L1317.5 471 L1316.2 466.9 L1314.8 461.3 L1313.3 454.4 L1311.6 447.1 L1309.8 439.7 L1307.7 432.4 L1305.3 425 L1302.4 417.3 L1299.2 409.4 L1295.8 401.2 L1292.3 392.7 L1288.7 383.7 L1285.1 374.1 L1281.5 363.7 L1277.9 352.5 L1274.2 340.7 L1270.6 328.4 L1267 316.2 L1263.4 304.1 L1260 292.4 L1256.6 281.1 L1253.3 270.4 L1250 260.4 L1246.7 251 L1243.4 242.5 L1239.9 234.7 L1236.3 227.6 L1232.6 221.3 L1228.7 215.6 L1224.7 210.4 L1220.6 205.7 L1216.4 201.2 L1212.1 197 L1207.7 193 L1203.1 189.4 L1198.4 186.3 L1193.5 183.8 L1188.4 182 L1183.2 180.8 L1177.8 180.2 L1172.4 180.1 L1166.9 180.6 L1161.4 181.6 L1155.9 183 L1150.4 184.9 L1145.5 187.2 L1141.4 189.6 L1138.6 192 L1137 194.4 L1136.6 196.8 L1137.2 199.1 L1138.9 201.4 L1141.4 203.5 L1144.8 205.6 L1149.1 207.7 L1154.2 209.9 L1160.4 212.1 L1167.7 214.3 L1176.5 216.6 L1187 218.9 L1199.5 221.1 L1213.6 223.1 L1229.1 224.9 L1245.2 226.5 L1261.8 228 L1278.5 229.4 L1295.4 230.6 L1312.5 231.8 L1330.3 232.8 L1348.8 233.6 L1368 234.3 L1387.8 234.9 L1407.5 235.4 L1426.7 235.9 L1445 236.5 L1462.5 237.2 L1479.2 237.9 L1495.5 238.6 L1511.3 239.5 L1526.9 240.3 L1542.2 241.2 L1557.2 242.2 L1571.8 243.2 L1586 244.4 L1599.5 245.6 L1612.4 246.9 L1624.8 248.3 L1636.9 249.7 L1648.6 251.2 L1659.9 252.8 L1670.4 254.5 L1679.9 256.3 L1688.2 258.2 L1695.6 260.3 L1702.2 262.4 L1708 264.7 L1713.3 267 L1718 269.5 L1722.2 272 L1725.6 274.6 L1728.1 277.2 L1729.5 279.7 L1729.8 282.2 L1729.2 284.6 L1727.8 287 L1725.8 289.4 L1723.2 291.8 L1720 294.2 L1716.2 296.7 L1711.7 299.3 L1706.6 302 L1700.5 304.7 L1693.4 307.4 L1685.1 310.3 L1675.7 313.2 L1665.2 316.2 L1654 319.3 L1642.5 322.3 L1630.7 325.3 L1619 328.2 L1607.2 331 L1595.2 333.7 L1582.8 336.3 L1569.9 338.7 L1556.5 340.9 L1542.7 343 L1528.9 345 L1515.4 347 L1502.6 348.9 L1490.4 351 L1478.7 353.1 L1467.5 355.3 L1456.5 357.6 L1445.9 360.1 L1435.6 362.7 L1425.5 365.6 L1415.8 368.6 L1406.5 371.8 L1397.8 375.2 L1389.6 378.8 L1381.8 382.6 L1374.4 386.6 L1367.2 390.7 L1360.5 395.1 L1354.5 399.7 L1349.4 404.7 L1345.1 410 L1341.6 415.6 L1338.9 421.3 L1336.7 427.2 L1335 433.2 L1333.8 439.4 L1333 445.6 L1332.5 451.5 L1332.3 456.7 L1332.3 460.9 L1332.4 464.1 L1332.6 466.4 L1332.7 467.8 L1332.8 468.5 L1332.7 468.5 L1332.6 467.9 L1332.4 466.7 L1332.1 464.8 L1331.7 462.2 L1331.2 458.7 L1330.7 454.2 L1330 448.4 L1329.2 441.1 L1328.1 432.6 L1326.8 423.2 L1325.2 413.2 L1323.2 402.8 L1320.8 392.3 L1318 381.7 L1314.8 370.7 L1311.3 359.3 L1307.6 347.3 L1303.7 334.5 L1299.8 321.2 L1296 307.9 L1292.1 294.9 L1288.1 282.7 L1284.1 271.2 L1280.1 260.2 L1276.1 249.8 L1272.2 239.7 L1268.4 229.9 L1264.8 220.4 L1261.3 211.2 L1257.9 202.5 L1254.6 194.2 L1251.4 186.6 L1248.1 179.5 L1244.7 173 L1241.3 166.9 L1237.7 161.2 L1234.1 156 L1230.4 151.6 L1226.6 148.2 L1222.7 146 L1218.7 144.6 L1214.5 144.1 L1210.3 144.3 L1205.8 145 L1201.2 146.2 L1196.3 147.9 L1191.1 150.1 L1185.8 152.5 L1180.2 155.2 L1174.5 158.1 L1168.6 161.1 L1162.5 164.2 L1156.2 167.4 L1150 170.7 L1144.6 173.8 L1140.4 176.9 L1137.8 179.9 L1136.6 182.9 L1136.7 185.8 L1137.8 188.8 L1139.8 191.7 L1142.7 194.5 L1146.4 197.2 L1151.1 199.8 L1156.9 202.2 L1164.1 204.3 L1173 206.2 L1183.9 207.8 L1196.9 209.2 L1211.8 210.4 L1227.9 211.4 L1244.8 212.2 L1262 213 L1279.6 213.7 L1298.1 214.3 L1318.6 214.5 L1341.1 214.5 L1364.6 214.3 L1387.1 214.2 L1407 214.4 L1424.3 215 L1439.7 215.7 L1454.5 216.5 L1469.4 217.2 L1484.7 217.8 L1500.5 218.3 L1516.5 218.9 L1532.6 219.4 L1548.5 219.9 L1564 220.6 L1578.9 221.3 L1592.9 222.2 L1606.1 223.2 L1618.3 224.3 L1629.7 225.6 L1640.3 227 L1650.2 228.5 L1659.4 230.1 L1668.1 231.8 L1676.4 233.6 L1684.4 235.4 L1692.1 237.3 L1699.7 239.3 L1707.1 241.4 L1714.3 243.6 L1721.3 246 L1727.9 248.5 L1734.1 251.2 L1739.3 254 L1743.1 256.8 L1745.4 259.5 L1746.3 262.1 L1746 264.8 L1744.8 267.4 L1742.9 270.1 L1740.2 272.9 L1737 275.7 L1733.2 278.5 L1728.6 281.3 L1723.3 284.2 L1716.8 287 L1709 289.9 L1699.9 292.8 L1689.4 295.7 L1678 298.5 L1666 301.3 L1653.7 304 L1641.2 306.6 L1627.9 309.1 L1613.2 311.2 L1597 313 L1580.1 314.7 L1564 316.4 L1549.8 318.5 L1537.7 320.9 L1526.9 323.5 L1516.6 326 L1506.1 328.4 L1495.3 330.6 L1484.2 332.7 L1472.8 334.7 L1461.5 336.8 L1450.4 339.1 L1439.7 341.5 L1429.5 344 L1419.9 346.9 L1411.1 349.9 L1403.1 353.3 L1395.8 356.8 L1389.1 360.7 L1382.9 364.7 L1377.4 369 L1372.4 373.6 L1367.8 378.5 L1363.6 383.7 L1359.6 389.2 L1355.9 394.9 L1352.4 400.8 L1349.2 406.9 L1346.3 413.4 L1343.7 420.2 L1341.5 427 L1339.6 433.4 L1338.1 438.8 L1336.9 442.9 L1336.1 445.9 L1335.4 448 L1335.1 449.3 L1334.9 449.9 L1334.8 449.8 L1334.9 449.1 L1334.9 447.7 L1335 445.4 L1335 442 L1334.9 437.2 L1334.7 431 L1334.4 423.1 L1334 413.8 L1333.5 403.4 L1332.9 392.4 L1332.1 381.2 L1331 369.7 L1329.8 357.4 L1328.4 343.3 L1326.8 327.4 L1325 310.7 L1322.9 294.8 L1320.6 281.2 L1318.1 269.9 L1315.2 260.2 L1311.9 251.1 L1308.2 241.8 L1304.3 232.1 L1300.1 222 L1296 211.6 L1291.9 201.2 L1287.9 191.1 L1284 181.3 L1280.2 172.2 L1276.5 163.8 L1272.8 156.3 L1269.3 149.7 L1265.8 143.9 L1262.5 138.8 L1259.2 134.5 L1256.1 130.8 L1253.1 127.7 L1250.2 125.1 L1247.4 123 L1244.6 121.2 L1241.8 119.7 L1239 118.5 L1236.2 117.6 L1233.4 117.1 L1230.5 117 L1227.5 117.4 L1224.4 118.3 L1221.3 119.6 L1218.2 121.3 L1215 123.3 L1211.7 125.7 L1208.4 128.2 L1204.9 131 L1201.4 133.8 L1197.8 136.7 L1194.1 139.5 L1190.4 142.4 L1186.6 145.2 L1182.7 148 L1178.9 150.8 L1175 153.7 L1171.2 156.7 L1167.5 159.8 L1163.9 163 L1160.4 166.2 L1156.9 169.5 L1153.4 172.9 L1149.6 176.3 L1145.5 179.8 L1141.2 183.3 L1137.3 186.8 L1134.5 190.1 L1133.2 193.2 L1133.5 196.1 L1135.2 198.8 L1138.1 201.5 L1142 204.1 L1146.7 206.6 L1152.1 209.1 L1158 211.4 L1164.6 213.5 L1171.9 215.6 L1180 217.5 L1189 219.2 L1199.2 220.7 L1210.7 222 L1223.5 223.1 L1237.5 224.1 L1252.1 224.9 L1267.2 225.6 L1282.6 226.2 L1298.1 226.9 L1313.6 227.4 L1329.5 228 L1345.9 228.5 L1363.1 228.8 L1381.4 229.1 L1400.9 229.2 L1421.4 229.2 L1442.7 229.1 L1464.1 229.1 L1485 229.1 L1504.8 229.3 L1523.4 229.7 L1540.4 230.3 L1555.9 231 L1569.9 232 L1582.6 233 L1594.3 234.2 L1605.1 235.5 L1615.4 236.9 L1625.2 238.3 L1634.7 239.9 L1643.9 241.7 L1652.7 243.6 L1661.1 245.7 L1669 248.1 L1676.4 250.7 L1683.4 253.5 L1690 256.7 L1696.3 260.1 L1702.3 263.8 L1708.1 267.8 L1713.7 272.1 L1718.6 276.6 L1722.5 281.1 L1725 285.6 L1726.2 290.2 L1726.4 295 L1725.6 299.9 L1724 305 L1721.7 310.1 L1718.5 315.1 L1714.5 320.1 L1709.5 324.8 L1703.8 329.4 L1697.1 333.7 L1689.6 337.8 L1681 341.6 L1671.3 345.1 L1660.6 348.2 L1649.2 351.1 L1637.3 353.6 L1625.3 355.9 L1613.4 358 L1601.7 360 L1590.2 361.8 L1578.8 363.4 L1567.3 365 L1555.5 366.3 L1543.2 367.4 L1530.2 368.4 L1516.6 369.3 L1502.6 370.1 L1488.7 370.9 L1475.3 371.8 L1462.7 373 L1451.2 374.5 L1440.9 376.3 L1431.7 378.4 L1423.7 380.8 L1416.6 383.5 L1410.4 386.4 L1404.7 389.6 L1399.4 392.9 L1394.3 396.4 L1389.4 400 L1384.7 403.8 L1380.2 407.8 L1376 411.9 L1372.2 416.2 L1368.6 420.6 L1365.5 425.1 L1362.6 429.8 L1360.1 434.9 L1357.9 440.3 L1356 446.3 L1354.5 452.6 L1353.4 458.7 L1352.6 464.1 L1352.3 468.3" fill="none" stroke="#1c1cff" stroke-width="3" stroke-opacity="0.16" stroke-linejoin="round" stroke-linecap="round"/>
<path d="M1641.4 333.3 L1636.6 337.5 L1631.1 343 L1625.3 348.8 L1619.1 354.1 L1612.6 358.5 L1605.5 362 L1597.8 364.7 L1589.2 367 L1579.7 368.9 L1569.6 370.5 L1559.2 371.9 L1548.8 373.2 L1538.5 374.5 L1528.2 375.7 L1518 376.8 L1507.5 377.9 L1496.6 378.8 L1485.5 379.7 L1474.1 380.5 L1462.6 381.3 L1451 382.1 L1439.6 382.9 L1428.3 383.8 L1417.5 384.8 L1407.2 385.9 L1397.6 387.2 L1388.7 388.7 L1380.7 390.4 L1373.5 392.3 L1367 394.4 L1361.1 396.6 L1355.5 399.1 L1350.3 401.7 L1345.3 404.5 L1340.6 407.5 L1336.3 410.7 L1332.2 414.1 L1328.4 417.7 L1324.8 421.4 L1321.5 425.3 L1318.3 429.3 L1315.4 433.4 L1312.7 437.7 L1310.3 442.1 L1308.1 446.6 L1306.1 451.1 L1304.3 455.5 L1302.5 459.6 L1300.8 463.2 L1299 466.2 L1297.3 468.4 L1295.7 469.8 L1294.2 470.4 L1293 470.4 L1292 469.9 L1291.3 468.8 L1290.5 467.1 L1289.7 464.8 L1288.7 461.8 L1287.6 457.8 L1286.4 452.8 L1285.1 446.6 L1283.8 439.1 L1282.4 430.8 L1281 422 L1279.6 413 L1278.1 404.1 L1276.6 395.1 L1275 386 L1273.3 376.6 L1271.6 366.8 L1269.7 356.5 L1267.6 345.8 L1265.4 334.9 L1263 323.9 L1260.5 313 L1257.8 302.3 L1254.9 292.1 L1251.9 282.4 L1248.7 273.4 L1245.3 265.4 L1241.7 258.2 L1237.9 252 L1233.9 246.6 L1229.8 241.8 L1225.4 237.6 L1220.8 233.8 L1216.2 230.6 L1211.6 227.7 L1207.1 225.4 L1202.8 223.5 L1198.8 222.1 L1195.2 221 L1192.1 220.3 L1189.7 220 L1188 220 L1187.1 220.3 L1186.9 221 L1187.5 222.1 L1189 223.4 L1191.2 225.1 L1194.1 227.1 L1197.8 229.2 L1202.2 231.6 L1207.3 234.1 L1213.1 236.8 L1219.4 239.6 L1226.3 242.5 L1234 245.6 L1242.7 248.7 L1252.7 251.5 L1263.8 253.9 L1275.7 256.1 L1288.1 258 L1300.5 259.7 L1312.8 261.3 L1325.1 262.8 L1337.8 264.1 L1351.3 265.3 L1365.9 266.2 L1382 266.8 L1399.4 267.2 L1417.4 267.5 L1435.5 267.7 L1453.1 267.9 L1470.1 268.2 L1486.2 268.6 L1501.4 269.1 L1515.5 269.8 L1528.5 270.6 L1540.4 271.6 L1551.2 272.6 L1561.1 273.8 L1570.4 275.1 L1579.3 276.3 L1587.7 277.6 L1595.8 279 L1603.6 280.4 L1611.1 282 L1618.2 283.6 L1625.1 285.4 L1631.6 287.3 L1637.8 289.4 L1643.4 291.5 L1648.6 293.9 L1653.1 296.3 L1656.9 298.9 L1659.8 301.5 L1662 304.3 L1663.3 307 L1663.7 309.8 L1663.4 312.6 L1662.3 315.4 L1660.6 318.2 L1658.2 321.1 L1655.3 324 L1651.7 327 L1647.5 330.2 L1642.7 333.4 L1637.3 336.6 L1631.5 339.7 L1625.3 342.6 L1618.6 345.4 L1611.3 347.8 L1603.1 350 L1594.3 351.8 L1584.8 353.5 L1575.2 355 L1565.5 356.6 L1556 358 L1546.5 359.5 L1536.8 360.8 L1526.6 361.9 L1515.4 362.8 L1503.2 363.5 L1490.2 363.9 L1476.6 364.1 L1463.1 364.5 L1449.9 364.9 L1437.4 365.5 L1425.5 366.4 L1414.5 367.6 L1404.3 369.1 L1395.2 371 L1387 373.2 L1379.7 375.7 L1373.1 378.4 L1367.1 381.4 L1361.7 384.6 L1356.6 388 L1352 391.7 L1347.7 395.6 L1343.8 399.7 L1340.2 404.1 L1336.8 408.8 L1333.8 413.7 L1331 418.7 L1328.4 423.8 L1326 428.8 L1323.9 433.8 L1322 438.5 L1320.3 443 L1318.7 447.1 L1317.3 450.7 L1316 453.7 L1314.8 456.2 L1313.4 458.1 L1312 459.4 L1310.5 460.2 L1308.7 460.5 L1306.7 460.4 L1304.6 459.8 L1302.5 458.7 L1300.3 457.2 L1298.2 455.2 L1296.1 452.6 L1293.9 449.2 L1291.7 444.7 L1289.5 439.1 L1287.1 432.4 L1284.8 424.9 L1282.5 416.9 L1280.3 408.8 L1278.1 400.8 L1275.9 392.7 L1273.8 384.3 L1271.7 375.1 L1269.6 364.8 L1267.4 353.2 L1265.2 340.5 L1263 327.1 L1260.6 313.8 L1258.1 300.8 L1255.4 288.6 L1252.7 277.2 L1249.9 266.7 L1247.1 257.2 L1244.1 248.9 L1241 241.8 L1237.9 235.6 L1234.6 230.3 L1231.2 225.7 L1227.6 221.6 L1223.7 218 L1219.7 214.8 L1215.4 212 L1211 209.7 L1206.6 207.8 L1202.2 206.3 L1198 205.2 L1194 204.5 L1190.5 204.1 L1187.3 204.1 L1184.7 204.6 L1182.5 205.4 L1180.9 206.6 L1179.9 208.1 L1179.6 210 L1180 212 L1181.2 214.3 L1183.2 216.6 L1186 219.1 L1189.7 221.6 L1194.2 224.2 L1199.7 226.9 L1206.2 229.7 L1213.9 232.6 L1222.9 235.5 L1233.1 238.2 L1244.8 240.6 L1257.7 242.7 L1271.5 244.5 L1285.8 246 L1300.1 247.4 L1314.5 248.7 L1329.3 249.8 L1345.1 250.7 L1362.4 251.2 L1381.4 251.5 L1401.5 251.5 L1421.6 251.5 L1440.9 251.5 L1459 251.7 L1475.7 252 L1491 252.5 L1505.1 253.1 L1518 253.9 L1529.9 254.9 L1540.9 255.9 L1551.1 257.1 L1560.7 258.3 L1569.7 259.6 L1578.3 261 L1586.5 262.4 L1594.2 263.9 L1601.7 265.4 L1608.8 266.9 L1615.7 268.4 L1622.5 270 L1629.1 271.6 L1635.6 273.3 L1641.9 275.1 L1647.8 276.9 L1653.4 278.8 L1658.4 280.8 L1662.8 282.9 L1666.4 285.1 L1669.3 287.5 L1671.5 289.9 L1672.9 292.5 L1673.5 295.1 L1673.4 297.8 L1672.6 300.6 L1671.2 303.4 L1669.3 306.3 L1666.8 309.2 L1663.7 312.3 L1660.1 315.6 L1655.8 319 L1650.7 322.5 L1644.7 326.1 L1637.6 329.6 L1629.4 332.9 L1620.1 335.8 L1609.9 338.4 L1599.1 340.8 L1588.1 343 L1577.1 345.1 L1566.1 347.1 L1554.8 348.9 L1542.8 350.5 L1529.7 351.6 L1515.3 352.4 L1500.1 352.8 L1484.8 353.2 L1470.2 353.7 L1456.6 354.4 L1444.1 355.4 L1432.7 356.6 L1422.4 358.2 L1413 360.1 L1404.5 362.2 L1396.7 364.6 L1389.5 367.1 L1382.9 369.8 L1376.8 372.7 L1371.2 375.8 L1365.8 379 L1360.9 382.3 L1356.4 385.8 L1352.3 389.5 L1348.4 393.5 L1344.9 397.6 L1341.6 402 L1338.4 406.5 L1335.5 411.1 L1332.8 415.8 L1330.3 420.4 L1328 424.9 L1325.9 429.2 L1324.1 433.3 L1322.6 437.1 L1321.3 440.7 L1320.2 444 L1319.3 446.9 L1318.4 449.4 L1317.5 451.3 L1316.7 452.7 L1315.7 453.5 L1314.6 453.8 L1313.4 453.6 L1312.1 452.8 L1310.6 451.4 L1308.9 449.3 L1307 446.4 L1304.9 442.5 L1302.5 437.4 L1300 431.1 L1297.3 423.6 L1294.5 415.2 L1291.7 406.4 L1288.7 397.3 L1285.7 388.2 L1282.8 378.6 L1279.8 368.1 L1277 356 L1274.4 342.3 L1271.9 327.6 L1269.5 312.7 L1267.2 298.5 L1265 285.4 L1262.9 273.6 L1260.8 263.1 L1258.7 253.7 L1256.5 245.4 L1254.3 238.1 L1252 231.6 L1249.6 225.9 L1247.2 220.8 L1244.8 216.2 L1242.3 212.1 L1239.7 208.4 L1237.1 205.1 L1234.4 202.3 L1231.6 199.8 L1228.7 197.6 L1225.6 195.6 L1222.3 194 L1218.8 192.6 L1215.1 191.4 L1211.1 190.5 L1206.7 190 L1202.1 189.9 L1197.2 190.2 L1192 191.1 L1186.3 192.4 L1180.6 194.2 L1175.4 196.4 L1171.1 198.7 L1168.3 201.2 L1166.9 203.7 L1166.8 206.2 L1167.6 208.6 L1169.4 211 L1172.1 213.5 L1175.5 215.9 L1179.8 218.4 L1185.2 221 L1191.8 223.7 L1199.7 226.5 L1209 229.2 L1219.9 231.7 L1232.3 234.1 L1245.8 236.1 L1260.2 238 L1274.9 239.6 L1289.5 241.2 L1303.8 242.7 L1317.9 244.2 L1332.2 245.5 L1346.9 246.7 L1362.4 247.6 L1378.9 248.3 L1396.2 248.8 L1413.8 249.2 L1431.2 249.6 L1448 250 L1464.1 250.4 L1479.4 251 L1494 251.6 L1507.9 252.2 L1521.2 253 L1533.8 253.8 L1545.8 254.7 L1557.1 255.6 L1567.8 256.6 L1577.9 257.6 L1587.4 258.7 L1596.6 259.8 L1605.4 260.9 L1613.9 262.1 L1622.1 263.3 L1629.9 264.6 L1637.2 266 L1644.2 267.6 L1650.7 269.4 L1657 271.3 L1663 273.5 L1668.8 275.9 L1674.4 278.5 L1679.7 281.3 L1684.2 284.2 L1687.7 287.2 L1689.7 290 L1690.5 292.8 L1690.1 295.5 L1688.8 298.3 L1686.8 301 L1684.1 303.8 L1680.8 306.7 L1676.8 309.7 L1672.1 312.9 L1666.5 316.3 L1659.9 319.8 L1652.4 323.3 L1643.9 326.8 L1634.4 330 L1624.2 333.1 L1613.4 336 L1602.6 338.8 L1592 341.5 L1581.6 344.3 L1571.3 346.9 L1561 349.3 L1550.3 351.4 L1538.9 353.2 L1526.7 354.6 L1513.9 355.7 L1500.9 356.7 L1488 357.5 L1475.5 358.5 L1463.7 359.5 L1452.4 360.7 L1441.8 362 L1431.7 363.5 L1422.2 365.1 L1413.2 366.9 L1404.7 368.8 L1396.7 370.8 L1389.2 373 L1382.3 375.3 L1375.8 377.7 L1369.7 380.3 L1363.9 383.1 L1358.4 385.9 L1353.4 389.1 L1348.7 392.4 L1344.6 396.2 L1341.1 400.3 L1338 404.7 L1335.4 409.6 L1333.1 414.9 L1331.3 420.7 L1329.8 426.9 L1328.7 433.4 L1327.8 439.7 L1327.2 445.2 L1326.8 449.6 L1326.6 452.9 L1326.5 455.2 L1326.4 456.7 L1326.4 457.5 L1326.4 457.7 L1326.3 457.4 L1326.3 456.5 L1326.3 454.8 L1326.3 452.4 L1326.3 449.1 L1326.2 444.7 L1326 439 L1325.5 432.1 L1324.7 424.1 L1323.5 415.3 L1321.9 406.3 L1319.9 397.4 L1317.5 388.7 L1314.9 380 L1312 371.2 L1309 361.9 L1305.9 351.6 L1302.7 340.4 L1299.4 328.3 L1296.1 315.9 L1292.7 303.6 L1289.3 291.8 L1285.9 280.6 L1282.6 270.1 L1279.5 260.2 L1276.4 251 L1273.5 242.4 L1270.7 234.3 L1267.9 226.8 L1265.2 219.9 L1262.4 213.5 L1259.7 207.8 L1256.9 202.5 L1254.1 197.7 L1251.2 193.2 L1248.4 189 L1245.5 185.3 L1242.6 182 L1239.7 179.3 L1236.7 177.2 L1233.7 175.6 L1230.7 174.5 L1227.6 173.9 L1224.4 173.8 L1221.1 174.2 L1217.6 175 L1214 176.3 L1210.2 177.9 L1206.3 180 L1202.2 182.4 L1197.9 185 L1193.5 187.9 L1189 191 L1184.5 194.2 L1180 197.6 L1175.9 201 L1172.5 204.5 L1170.1 208.1 L1168.7 211.7 L1168.3 215.2 L1168.7 218.6 L1170 221.8 L1172.1 224.9 L1175 227.8 L1178.8 230.6 L1183.3 233.2 L1188.7 235.7 L1194.8 238 L1201.6 240.3 L1209 242.4 L1217.3 244.4 L1226.7 246.2 L1237.4 247.8 L1249.7 249.1 L1263.2 250.2 L1277.6 251.2 L1292.5 252.1 L1307.4 252.8 L1322.1 253.6 L1336.8 254.2 L1351.7 254.8 L1366.8 255.3 L1382.3 255.7 L1398.3 255.9 L1414.5 256.2 L1431 256.3 L1447.6 256.4 L1464.2 256.6 L1480.4 256.7 L1496.1 256.9 L1510.9 257.1 L1524.9 257.4 L1537.9 257.8 L1550.1 258.3 L1561.3 258.9 L1571.9 259.6 L1581.8 260.3 L1591.3 261.2 L1600.5 262.1 L1609.8 263.1 L1619 264.2 L1628 265.5 L1636.6 266.9 L1644.6 268.6 L1651.8 270.5 L1658.4 272.6 L1664.4 274.9 L1670 277.4 L1675.1 280 L1679.4 282.8 L1682.8 285.6 L1685.1 288.4 L1686.4 291.1 L1686.6 293.9 L1685.9 296.7 L1684.4 299.6 L1682.1 302.6 L1679.2 305.7 L1675.8 309 L1671.7 312.6 L1667.1 316.3 L1661.9 320.1 L1656.4 324 L1650.5 327.8 L1644.2 331.5 L1637.2 335 L1629.4 338.3 L1620.6 341.3 L1610.9 344.2 L1600.6 346.8 L1590.1 349.3 L1579.5 351.6 L1569 353.9 L1558.5 355.9 L1547.9 357.8 L1537 359.5 L1525.8 361.1 L1514.4 362.5 L1502.7 363.9 L1490.8 365.2 L1478.9 366.5 L1467.1 367.8 L1455.5 369.2 L1444.4 370.6 L1433.9 372.2 L1424 373.9 L1414.9 375.8 L1406.5 377.8 L1398.8 380 L1391.6 382.4 L1385 384.9 L1378.8 387.6 L1372.8 390.5 L1366.9 393.5 L1361.3 396.7 L1355.8 400.3 L1350.9 404.1 L1346.7 408.2 L1343.1 412.7 L1340.2 417.4 L1337.8 422.5 L1335.8 427.8 L1334.3 433.1 L1333.1 438.3 L1332.1 443 L1331.5 446.9 L1331 450.1 L1330.8 452.6 L1330.7 454.5 L1330.7 455.8 L1330.8 456.5 L1330.9 456.7 L1331 456.4 L1331.1 455.7 L1331.1 454.5 L1331.1 452.7 L1331 450.5 L1330.6 447.8 L1330 444.3 L1329.1 439.8 L1327.8 434.2 L1326.2 427.2 L1324.3 419.1 L1322 410.2 L1319.4 400.9 L1316.6 391.5 L1313.8 382.1 L1310.9 372.6 L1308 362.9 L1305.1 352.9 L1302.1 342.4 L1299.2 331.6 L1296.3 320.4 L1293.4 308.9 L1290.6 297.4 L1287.9 285.9 L1285.3 274.7 L1282.9 264 L1280.5 253.9 L1278.2 244.7 L1276 236.2 L1273.8 228.6 L1271.7 221.7 L1269.5 215.6 L1267.4 210 L1265.1 204.9 L1262.8 200 L1260.5 195.3 L1258.1 190.8 L1255.6 186.6 L1253 182.9 L1250.3 180 L1247.6 177.8 L1244.7 176.4 L1241.8 175.5 L1238.9 175.3 L1235.8 175.4 L1232.7 176.1 L1229.4 177.1 L1226.1 178.6 L1222.6 180.4 L1219.1 182.6 L1215.4 185.2 L1211.7 188 L1207.9 191.1 L1204.2 194.4 L1200.5 197.8 L1196.8 201.4 L1193.3 205.1 L1190.1 208.9 L1187.4 212.6 L1185.4 216.2 L1184.1 219.5 L1183.7 222.7 L1184 225.7 L1185.2 228.5 L1187.3 231.2 L1190.2 233.7 L1193.8 236.2 L1198.3 238.5 L1203.4 240.7 L1209.4 242.7 L1216.3 244.6 L1224.2 246.3 L1233.4 247.7 L1243.8 249 L1255.5 250 L1268.2 250.9 L1281.4 251.7 L1294.9 252.3 L1308.3 252.9 L1321.9 253.5 L1335.7 253.9 L1350 254.2 L1365.1 254.4 L1380.7 254.5 L1396.8 254.5 L1413.2 254.5 L1429.5 254.4 L1445.5 254.4 L1461.2 254.4 L1476.4 254.5 L1491.1 254.7 L1505.1 254.9 L1518.4 255.2 L1531 255.6 L1543 256 L1554.2 256.5 L1564.7 257.2 L1574.5 257.9 L1583.9 258.7 L1592.9 259.6 L1601.6 260.6 L1610.1 261.8 L1618.3 263.1 L1626 264.5 L1633.3 266.2 L1640.1 268 L1646.3 270.1 L1652.1 272.3 L1657.4 274.8 L1662.2 277.4 L1666.5 280.2 L1670.1 283.1 L1673.1 286.1 L1675.1 289.3 L1676.3 292.4 L1676.5 295.7 L1675.8 299.1 L1674.2 302.6 L1671.8 306.4 L1668.6 310.3 L1664.7 314.4 L1660.2 318.4 L1655.3 322.4 L1650.1 326.3 L1644.4 329.9 L1638.2 333.2 L1631.2 336.3 L1623.4 339 L1614.8 341.6 L1605.5 343.8 L1595.8 345.9 L1586 347.8 L1576.1 349.6 L1566.1 351.2 L1555.9 352.6 L1545.3 353.8 L1534.2 354.8 L1522.6 355.6 L1510.6 356.3 L1498.5 357 L1486.6 357.7 L1474.8 358.4 L1463.3 359.3 L1452.3 360.3 L1441.7 361.5 L1431.7 362.8 L1422.2 364.3 L1413.3 365.9 L1405 367.8 L1397.3 369.8 L1390.2 372 L1383.6 374.4 L1377.4 376.9 L1371.6 379.6 L1366.1 382.5 L1360.9 385.6 L1356.1 388.9 L1351.7 392.5 L1347.8 396.3 L1344.4 400.3 L1341.5 404.5 L1339 408.9 L1336.9 413.5 L1335.1 418.1 L1333.7 422.8 L1332.6 427.4 L1331.8 431.7 L1331.2 435.6 L1330.8 439 L1330.7 441.9 L1330.8 444.2 L1331.2 446 L1331.7 447.4 L1332.3 448.2 L1333 448.5 L1333.7 448.3 L1334.2 447.5 L1334.3 445.9 L1334.2 443.4 L1333.7 439.9 L1332.9 435.3 L1331.8 429.5 L1330.3 422.6 L1328.5 414.7 L1326.4 406.4 L1323.9 397.7 L1321.2 389 L1318.4 380.2 L1315.4 371 L1312.4 361.2 L1309.4 350.8 L1306.3 339.7 L1303.2 328.3 L1300.1 316.6 L1296.9 304.9 L1293.9 293.5 L1290.9 282.4 L1288.1 271.8 L1285.5 261.7 L1283 252.1 L1280.6 243.2 L1278.4 235 L1276.2 227.4 L1274 220.4 L1271.9 214.1 L1269.8 208.5 L1267.6 203.4 L1265.4 198.6 L1263.2 194.2 L1260.9 190.1 L1258.5 186.4 L1256.1 183.2 L1253.6 180.5 L1250.9 178.4 L1248.2 176.8 L1245.3 175.8 L1242.3 175.2 L1239.2 175.1 L1236 175.5 L1232.7 176.3 L1229.2 177.5 L1225.6 179.2 L1221.8 181.3 L1218 183.8 L1214.1 186.7 L1210.2 190 L1206.4 193.6 L1202.6 197.5 L1199 201.6 L1195.7 205.9 L1192.7 210 L1190.3 213.8 L1188.5 217.3 L1187.5 220.6 L1187.3 223.5 L1187.8 226.3 L1189.1 228.9 L1191.2 231.4 L1194.2 233.8 L1198 236.1 L1202.7 238.3 L1208.2 240.4 L1214.6 242.3 L1222 244.1 L1230.7 245.6 L1240.7 246.9 L1252 248.1 L1264.6 249 L1278 249.8 L1291.8 250.4 L1305.7 251.1 L1319.5 251.6 L1333.2 252.1 L1347.1 252.5 L1361.3 252.8 L1375.9 253 L1391.1 253.1 L1406.7 253.1 L1422.7 253 L1438.7 252.9 L1454.8 252.8 L1470.5 252.7 L1485.6 252.6 L1500.1 252.7 L1513.8 252.8 L1526.7 253 L1538.8 253.3 L1550.2 253.7 L1560.8 254.2 L1570.8 254.8 L1580.2 255.5 L1589.4 256.3 L1598.4 257.2 L1607.3 258.2 L1616 259.3 L1624.3 260.6 L1632.1 262.1 L1639.1 263.8 L1645.5 265.7 L1651.3 267.8 L1656.4 270.1 L1661 272.5 L1665 275.1 L1668.5 277.8 L1671.3 280.6 L1673.3 283.5 L1674.6 286.4 L1675.1 289.4 L1674.7 292.4 L1673.7 295.6 L1671.9 298.9 L1669.4 302.4 L1666.1 306.1 L1662 309.9 L1657.2 313.8 L1651.9 317.7 L1646 321.5 L1639.7 325 L1632.7 328.4 L1625 331.4 L1616.3 334.3 L1607 336.9 L1597 339.2 L1586.8 341.5 L1576.6 343.5 L1566.4 345.4 L1556.2 347.1 L1545.9 348.6 L1535.4 349.9 L1524.5 351 L1513.2 351.9 L1501.5 352.7 L1489.6 353.3 L1477.7 353.9 L1465.9 354.6 L1454.3 355.2 L1443.2 356.1 L1432.7 357 L1422.8 358.2 L1413.6 359.5 L1405 361.1 L1397.1 362.8 L1389.8 364.8 L1383.1 367 L1376.9 369.4 L1371.1 371.9 L1365.5 374.7 L1360.1 377.6 L1355 380.7 L1350.3 384.2 L1346.1 387.9 L1342.6 391.9 L1339.5 396.1 L1337 400.5 L1334.9 405 L1333.2 409.7 L1331.8 414.4 L1330.6 419 L1329.7 423.4 L1329.1 427.4 L1328.6 431.1 L1328.3 434.2 L1328.2 436.8 L1328.2 438.9 L1328.3 440.6 L1328.5 441.7 L1328.9 442.3 L1329.5 442.3 L1330.1 441.9 L1330.6 440.7 L1330.8 438.8 L1330.7 435.9 L1330.2 431.9 L1329.3 426.7 L1328.1 420.3 L1326.5 412.7 L1324.7 404.4 L1322.7 395.7 L1320.6 386.8 L1318.4 377.9 L1316.1 368.9 L1313.8 359.7 L1311.4 350 L1309 339.9 L1306.5 329.3 L1304 318.1 L1301.6 306.6 L1299.2 295 L1296.8 283.4 L1294.5 272.1 L1292.3 261.3 L1290.2 251.1 L1288.1 241.7 L1286 233 L1283.9 225 L1281.7 217.8 L1279.5 211.2 L1277.2 205.4 L1274.8 200 L1272.3 195.1 L1269.7 190.4 L1267 185.9 L1264.1 181.7 L1261.2 178 L1258.1 175 L1255 172.7 L1251.7 171.1 L1248.3 170.1 L1244.8 169.7 L1241.2 169.9 L1237.3 170.5 L1233.3 171.7 L1229.2 173.2 L1224.9 175.1 L1220.5 177.4 L1216.1 180 L1211.8 182.9 L1207.6 186 L1203.6 189.3 L1200.1 192.9 L1197.1 196.6 L1194.7 200.6 L1193.1 204.7 L1192.1 208.7 L1191.9 212.5 L1192.4 216 L1193.7 219.2 L1195.7 222.1 L1198.5 224.9 L1202.1 227.5 L1206.4 229.9 L1211.5 232.2 L1217.5 234.3 L1224.4 236.2 L1232.2 238 L1240.8 239.5 L1250.4 240.9 L1260.9 242.1 L1272.2 243.2 L1284.1 244.1 L1296.3 244.9 L1308.6 245.7 L1320.6 246.4 L1332.6 247.1 L1344.6 247.7 L1356.9 248.3 L1369.8 248.7 L1383.7 248.9 L1398.4 249 L1413.8 249 L1429.5 248.9 L1445.3 248.7 L1460.7 248.6 L1475.5 248.6 L1489.6 248.7 L1502.9 248.8 L1515.3 249.1 L1526.9 249.5 L1537.7 250 L1547.8 250.6 L1557.3 251.4 L1566.4 252.4 L1575.3 253.4 L1584.1 254.5 L1592.8 255.8 L1601.2 257.2 L1609.3 258.8 L1616.9 260.6 L1624 262.6 L1630.5 264.7 L1636.4 266.9 L1641.7 269.3 L1646.5 271.8 L1650.5 274.3 L1653.7 276.9 L1656.1 279.5 L1657.5 282.1 L1658.2 284.8 L1658 287.5 L1657.1 290.2 L1655.5 293.1 L1653.4 296.1 L1650.6 299.1 L1647.3 302.3 L1643.4 305.5 L1638.8 308.8 L1633.6 311.9 L1627.7 314.9 L1621.3 317.8 L1614.3 320.5 L1606.8 323 L1598.7 325.4 L1590.2 327.6 L1581.2 329.6 L1572.1 331.6 L1563 333.4 L1554 335.1 L1545.1 336.8 L1536.2 338.3 L1527 339.8 L1517.4 341 L1507.1 342 L1496.2 342.9 L1484.7 343.6 L1473.1 344.3 L1461.5 345.1 L1450.3 346 L1439.5 347 L1429.4 348.3 L1420 349.9 L1411.3 351.6 L1403.2 353.6 L1395.9 355.9 L1389.1 358.3 L1382.9 361 L1377.1 364 L1371.6 367.1 L1366.2 370.4 L1361.1 374 L1356.3 377.8 L1351.9 382 L1348.1 386.4 L1344.7 391 L1341.9 395.8 L1339.6 400.7 L1337.6 405.6 L1336 410.4 L1334.7 415 L1333.7 419.2 L1333.1 423 L1332.7 426.2 L1332.5 429 L1332.4 431.3 L1332.5 433 L1332.7 434.3 L1332.8 435.1 L1333 435.3 L1333.1 435.1 L1333.3 434.3 L1333.4 432.9 L1333.4 430.8 L1333.3 427.9 L1333 424.2 L1332.5 419.8 L1331.7 414.5 L1330.6 408.4 L1329.1 401.5 L1327.4 394.2 L1325.2 386.5 L1322.7 378.7 L1320 371.1 L1317.2 363.5 L1314.3 355.8 L1311.4 347.8 L1308.5 339.2 L1305.6 329.7 L1302.7 319.4 L1299.8 308.4 L1297 297.2 L1294.2 286 L1291.4 275.1 L1288.8 264.8 L1286.2 255.2 L1283.6 246.4 L1281.1 238.4 L1278.7 231.2 L1276.2 224.7 L1273.6 219 L1271 213.9 L1268.3 209.3 L1265.5 205 L1262.7 201 L1259.7 197.1 L1256.7 193.6 L1253.6 190.6 L1250.5 188.2 L1247.3 186.4 L1244.1 185.1 L1240.8 184.3 L1237.5 183.9 L1234.1 184 L1230.6 184.6 L1226.9 185.5 L1223.2 186.9 L1219.2 188.6 L1215.2 190.7 L1210.9 193.1 L1206.5 195.9 L1201.7 198.9 L1196.6 202.1 L1191.3 205.4 L1186.4 208.9 L1182.6 212.3 L1180.1 215.7 L1179 219 L1179 222.1 L1180 225.1 L1181.7 227.9 L1184.2 230.5 L1187.4 232.9 L1191.2 235.2 L1195.8 237.4 L1201 239.5 L1206.8 241.6 L1213.1 243.5 L1220 245.4 L1227.6 247.2 L1236.4 248.7 L1246.5 250 L1258.1 251.1 L1270.9 251.9 L1284.5 252.7 L1298.3 253.3 L1312.2 253.9 L1326 254.4 L1339.9 254.9 L1354.1 255.4 L1368.8 255.7 L1384 255.9 L1399.8 256 L1416 256 L1432.4 256 L1448.6 256 L1464.4 256.1 L1479.5 256.3 L1493.8 256.6 L1507.2 257.1 L1519.7 257.6 L1531.3 258.2 L1542.1 259 L1552.2 259.8 L1561.6 260.6 L1570.7 261.5 L1579.7 262.4 L1588.7 263.3 L1597.7 264.2 L1606.5 265.3 L1614.6 266.5 L1621.8 267.9 L1628.3 269.5 L1634.2 271.3 L1639.6 273.3 L1644.8 275.6 L1649.8 278.1 L1654.6 280.7 L1658.7 283.5 L1661.7 286.2 L1663.4 288.9 L1663.8 291.5 L1663 294.1 L1661.1 296.7 L1658.3 299.3 L1654.6 302.1 L1650 305 L1645 308 L1639.7 311.2 L1634.6 314.5 L1629.7 317.9 L1624.9 321.4 L1619.9 324.8 L1614.5 328.1 L1608.4 331.2 L1601.3 334 L1593.1 336.5 L1584.1 338.7 L1574.5 340.7 L1564.7 342.7 L1554.9 344.5 L1545.2 346.3 L1535.4 348 L1525.3 349.5 L1514.9 350.8 L1504.1 352 L1492.8 353.1 L1481.3 354 L1469.7 355 L1458.2 356.1 L1447.2 357.3 L1436.7 358.7 L1426.9 360.3 L1417.9 362.2 L1409.6 364.2 L1402 366.4 L1395.1 368.8 L1388.9 371.4 L1383.1 374 L1377.6 376.8 L1372.2 379.6 L1366.9 382.5 L1361.6 385.5 L1356.6 388.7 L1352.2 392.2 L1348.4 396 L1345.3 400.2 L1342.7 404.7 L1340.6 409.6 L1338.8 414.9 L1337.3 420.8 L1336.1 426.9 L1335.1 432.7 L1334.3 437.8 L1333.8 441.8 L1333.4 444.8 L1333.3 446.8 L1333.5 448.2 L1334 449.1 L1334.8 449.5 L1335.8 449.5 L1336.8 449.1 L1337.6 448.2 L1337.9 446.9 L1337.8 445.1 L1337.2 442.9 L1336.3 440.3 L1335.1 437 L1333.9 432.7 L1332.4 427.1 L1330.9 420.1 L1329.3 412.1 L1327.6 403.3 L1325.8 394.2 L1323.9 385.1 L1321.9 376 L1319.8 366.7 L1317.7 357.1 L1315.5 347 L1313.3 336.4 L1311.1 325.2 L1309 313.6 L1306.9 301.9 L1304.8 290.4 L1302.7 279.3 L1300.6 268.8 L1298.5 259.2 L1296.2 250.4 L1293.9 242.4 L1291.4 235.3 L1288.8 229 L1286.1 223.3 L1283.2 218.2 L1280.2 213.4 L1277.1 208.8 L1273.9 204.2 L1270.6 199.7 L1267.1 195.6 L1263.6 192.2 L1259.9 189.7 L1256.1 188.1 L1252.2 187.2 L1248.3 186.9 L1244.3 187.1 L1240.5 187.7 L1236.9 188.8 L1233.5 190.1 L1230.3 191.8 L1227.5 193.8 L1225.1 196 L1223 198.6 L1221.4 201.5 L1220.3 204.8 L1219.7 208.4 L1219.6 212.3 L1220.2 216.3 L1221.4 220.1 L1223.2 223.4 L1225.7 226.1 L1228.9 228.6 L1232.8 230.7 L1237.4 232.6 L1242.9 234.4 L1249.3 236 L1256.7 237.4 L1265.3 238.6 L1275 239.6 L1286 240.4 L1297.9 241 L1310.5 241.6 L1323.7 242 L1337.4 242.4 L1351.6 242.6 L1365.9 242.8 L1380 243 L1393.6 243.2 L1406.4 243.5 L1418.7 243.8 L1430.6 244.2 L1442.1 244.5 L1453.5 244.9 L1464.6 245.3 L1475.8 245.7 L1486.8 246.1 L1497.6 246.5 L1508.2 246.9 L1518.3 247.4 L1527.8 248 L1536.8 248.7 L1545.3 249.5 L1553.5 250.3 L1561.2 251.3 L1568.4 252.4 L1575.3 253.6 L1581.7 255 L1587.7 256.5 L1593.3 258.2 L1598.5 259.9 L1603.2 261.8 L1607.4 263.8 L1611 265.8 L1613.9 267.9 L1616.2 270.1 L1617.9 272.3 L1618.7 274.5 L1618.8 276.8 L1617.8 279.2 L1615.8 281.6 L1612.6 284.1 L1608.5 286.7 L1603.9 289.2 L1599.2 291.7 L1594.7 294.1 L1590.3 296.5 L1585.9 298.9 L1581.2 301.1 L1576.1 303.3 L1570.5 305.4 L1564.3 307.4 L1557.3 309.2 L1549.6 310.8 L1541.1 312.3 L1532 313.7 L1522.4 314.9 L1512.5 316.2 L1502.3 317.3 L1491.8 318.4 L1481.2 319.4 L1470.8 320.4 L1460.8 321.5 L1451.4 322.6 L1442.4 323.8 L1433.8 325 L1425.4 326.3 L1417.3 327.6 L1409.4 329 L1401.6 330.5 L1394 332.1 L1386.6 333.8 L1379.5 335.7 L1372.9 337.8 L1366.7 340.1 L1361 342.6 L1355.7 345.3 L1350.8 348.2 L1346.1 351.3 L1341.8 354.7 L1337.9 358.2 L1334.3 362.1 L1331 366.1 L1328 370.3 L1325.2 374.7 L1322.7 379 L1320.5 383.4 L1318.5 387.6 L1316.8 391.7 L1315.4 395.7 L1314.2 399.4 L1313.3 403 L1312.7 406.3 L1312.5 409.3 L1312.7 412 L1313.2 414.4 L1314 416.4 L1314.7 417.9 L1315 419 L1314.7 419.4 L1313.9 419.2 L1312.8 418.4 L1311.4 416.9 L1309.9 414.7 L1308.3 411.7 L1306.6 407.9 L1304.8 403 L1302.9 397 L1301 390 L1299 382.2 L1297 373.8 L1294.9 364.8 L1292.9 355.4 L1290.8 345.5 L1288.8 335.5 L1286.7 325.7 L1284.5 316.3 L1282.2 307.5 L1279.8 299.2 L1277.3 291.3 L1274.6 283.7 L1271.8 276.3 L1268.8 269.1 L1265.7 262 L1262.5 255 L1259.2 248.3 L1255.8 241.9 L1252.3 236 L1248.8 230.7 L1245.3 225.9 L1241.6 221.7 L1237.9 218 L1234.1 214.7 L1230.1 211.9 L1226.1 209.7 L1222.1 208 L1218.1 206.8 L1214.2 206 L1210.5 205.5 L1207.1 205.5 L1204 205.8 L1201.3 206.4 L1199.1 207.5 L1197.3 208.9 L1196.2 210.6 L1195.7 212.7 L1195.8 215.3 L1196.7 218.3 L1198.3 221.9 L1200.7 226.2 L1203.8 230.8 L1207.6 235.5 L1212 239.9 L1216.9 243.6 L1222.4 246.9 L1228.4 249.7 L1235.1 252.1 L1242.8 254.3 L1251.7 256.2 L1262.2 257.7 L1274.1 259 L1287.2 260 L1301 260.9 L1315.4 261.6 L1330.3 262.2 L1345.9 262.6 L1362 262.9 L1378.3 263.1 L1394.3 263.3 L1409.8 263.5 L1424.6 263.8 L1439 264.1 L1453.1 264.5 L1467.2 264.8 L1481.4 265.1 L1495.8 265.5 L1510.2 265.7 L1524.4 266 L1537.9 266.4 L1550.5 266.8 L1561.9 267.4 L1572.3 268.2 L1581.9 269 L1590.9 270 L1599.4 271.1 L1607.5 272.3 L1615 273.7 L1622.2 275.2 L1628.8 276.9 L1635 278.7 L1640.8 280.7 L1646 282.8 L1650.6 285 L1654.5 287.2 L1657.8 289.6 L1660.3 292 L1662 294.5 L1663 297 L1663.3 299.6 L1662.9 302.1 L1661.9 304.7 L1660.3 307.2 L1658.1 309.8 L1655.4 312.4 L1652.2 315.1 L1648.4 317.9 L1644.1 320.8 L1639.3 323.6 L1634 326.5 L1628.3 329.4 L1622.1 332.1 L1615.3 334.7 L1607.7 337 L1599 339 L1589.4 340.8 L1579 342.4 L1568.1 343.8 L1556.9 345.2 L1545.3 346.3 L1533.3 347.4 L1520.9 348.3 L1508.4 349.1 L1496.2 349.9 L1484.4 350.9 L1473.1 352 L1462.2 353.2 L1451.6 354.5 L1441.2 356 L1430.7 357.6 L1420.3 359.3 L1409.8 361 L1399.7 363 L1390.1 365.1 L1381.3 367.4 L1373.3 369.9 L1366.3 372.7 L1359.9 375.7 L1354 378.9 L1348.6 382.2 L1343.7 385.7 L1339.3 389.5 L1335.4 393.4 L1331.8 397.6 L1328.7 402 L1325.8 406.4 L1323.3 410.9 L1321 415.4 L1319 419.8 L1317.2 424 L1315.6 428.1 L1314.2 431.9 L1312.9 435.4 L1311.7 438.4 L1310.5 441.1 L1309.1 443.2 L1307.7 444.8 L1306 445.9 L1304.2 446.4 L1302.1 446.6 L1299.7 446.2 L1297.2 445.5 L1294.5 444.4 L1291.7 443 L1289.1 441.1 L1286.5 438.5 L1284 435.1 L1281.5 430.5 L1279 424.4 L1276.5 417.1 L1274 408.6 L1271.4 399.5 L1268.8 389.8 L1266.3 379.7 L1263.8 368.9 L1261.4 357.5 L1259 346 L1256.6 334.6 L1254.2 323.8 L1251.7 313.6 L1249.3 303.8 L1246.7 294.2 L1244 284.8 L1241.2 275.4 L1238.3 266 L1235.3 256.6 L1232.2 247.5 L1229 238.9 L1225.6 231.4 L1222.2 224.9 L1218.6 219.3 L1214.9 214.5 L1211 210.4 L1206.9 206.7 L1202.5 203.5 L1198 200.9 L1193.4 198.8 L1188.6 197.2 L1183.8 196.1 L1179.1 195.5 L1174.4 195.3 L1169.6 195.5 L1165 196.3 L1160.7 197.4 L1157 199 L1154.1 201 L1152.3 203.2 L1151.6 205.5 L1152 208.1 L1153.3 210.6 L1155.7 213.2 L1159.1 215.8 L1163.8 218.3 L1170.3 220.8 L1178.9 223.2 L1189.6 225.6 L1201.8 227.9 L1214.7 230.3 L1227.8 232.7 L1240.8 235.1 L1253.8 237.3 L1267.1 239.4 L1280.6 241.2 L1294.3 242.9 L1308.4 244.5 L1322.9 245.9 L1338 247.1 L1354 248.1 L1370.7 249 L1388.1 249.7 L1405.9 250.3 L1423.6 250.8 L1441 251.3 L1458.1 251.9 L1474.6 252.5 L1490.6 253.2 L1505.9 253.9 L1520.5 254.8 L1534.3 255.7 L1547.3 256.8 L1559.5 257.9 L1571.1 259.2 L1582 260.6 L1592.4 262 L1602.4 263.5 L1612.3 264.9 L1622 266.4 L1631.5 268 L1640.8 269.5 L1649.6 271.1 L1657.9 272.8 L1665.5 274.6 L1672.5 276.5 L1678.8 278.6 L1684.5 280.8 L1689.7 283.2 L1694.3 285.7 L1698.3 288.5 L1701.4 291.3 L1703.5 294.3 L1704.7 297.2 L1704.9 300.2 L1704.3 303.2 L1703 306.3 L1701 309.4 L1698.4 312.6 L1694.9 315.9 L1690.3 319.1 L1684.2 322.4 L1676.6 325.6 L1667.8 328.8 L1658.4 332.1 L1648.7 335.3 L1638.9 338.5 L1628.9 341.5 L1618.7 344.3 L1608.4 346.9 L1597.9 349.5 L1587.3 351.9 L1576.5 354.2 L1565.2 356.3 L1553.4 358.1 L1541 359.8 L1528.1 361.2 L1514.9 362.4 L1501.7 363.7 L1488.8 364.9 L1476.2 366.2 L1464.1 367.6 L1452.4 369.2 L1441.3 371 L1430.9 373 L1421.1 375.2 L1411.9 377.7 L1403.4 380.4 L1395.5 383.3 L1388.2 386.4 L1381.3 389.6 L1374.7 393.1 L1368.4 396.7 L1362.3 400.5 L1356.5 404.5 L1350.9 408.6 L1345.8 413.1 L1341.2 417.7 L1337.2 422.5 L1333.8 427.5 L1331 432.6 L1328.6 437.9 L1326.7 443.3 L1325.3 448.8 L1324.1 454.2 L1323.3 459.3 L1322.8 463.8 L1322.4 467.5 L1322 470.4 L1321.5 472.5 L1321 473.9 L1320.4 474.6 L1319.6 474.5 L1318.6 473.4 L1317.5 471 L1316.2 466.9 L1314.8 461.3 L1313.3 454.4 L1311.6 447.1 L1309.8 439.7 L1307.7 432.4 L1305.3 425 L1302.4 417.3 L1299.2 409.4 L1295.8 401.2 L1292.3 392.7 L1288.7 383.7 L1285.1 374.1 L1281.5 363.7 L1277.9 352.5 L1274.2 340.7 L1270.6 328.4 L1267 316.2 L1263.4 304.1 L1260 292.4 L1256.6 281.1 L1253.3 270.4 L1250 260.4 L1246.7 251 L1243.4 242.5 L1239.9 234.7 L1236.3 227.6 L1232.6 221.3 L1228.7 215.6 L1224.7 210.4 L1220.6 205.7 L1216.4 201.2 L1212.1 197 L1207.7 193 L1203.1 189.4 L1198.4 186.3 L1193.5 183.8 L1188.4 182 L1183.2 180.8 L1177.8 180.2 L1172.4 180.1 L1166.9 180.6 L1161.4 181.6 L1155.9 183 L1150.4 184.9 L1145.5 187.2 L1141.4 189.6 L1138.6 192 L1137 194.4 L1136.6 196.8 L1137.2 199.1 L1138.9 201.4 L1141.4 203.5 L1144.8 205.6 L1149.1 207.7 L1154.2 209.9 L1160.4 212.1 L1167.7 214.3 L1176.5 216.6 L1187 218.9 L1199.5 221.1 L1213.6 223.1 L1229.1 224.9 L1245.2 226.5 L1261.8 228 L1278.5 229.4 L1295.4 230.6 L1312.5 231.8 L1330.3 232.8 L1348.8 233.6 L1368 234.3 L1387.8 234.9 L1407.5 235.4 L1426.7 235.9 L1445 236.5 L1462.5 237.2 L1479.2 237.9 L1495.5 238.6 L1511.3 239.5 L1526.9 240.3 L1542.2 241.2 L1557.2 242.2 L1571.8 243.2 L1586 244.4 L1599.5 245.6 L1612.4 246.9 L1624.8 248.3 L1636.9 249.7 L1648.6 251.2 L1659.9 252.8 L1670.4 254.5 L1679.9 256.3 L1688.2 258.2 L1695.6 260.3 L1702.2 262.4 L1708 264.7 L1713.3 267 L1718 269.5 L1722.2 272 L1725.6 274.6 L1728.1 277.2 L1729.5 279.7 L1729.8 282.2 L1729.2 284.6 L1727.8 287 L1725.8 289.4 L1723.2 291.8 L1720 294.2 L1716.2 296.7 L1711.7 299.3 L1706.6 302 L1700.5 304.7 L1693.4 307.4 L1685.1 310.3 L1675.7 313.2 L1665.2 316.2 L1654 319.3 L1642.5 322.3 L1630.7 325.3 L1619 328.2 L1607.2 331 L1595.2 333.7 L1582.8 336.3 L1569.9 338.7 L1556.5 340.9 L1542.7 343 L1528.9 345 L1515.4 347 L1502.6 348.9 L1490.4 351 L1478.7 353.1 L1467.5 355.3 L1456.5 357.6 L1445.9 360.1 L1435.6 362.7 L1425.5 365.6 L1415.8 368.6 L1406.5 371.8 L1397.8 375.2 L1389.6 378.8 L1381.8 382.6 L1374.4 386.6 L1367.2 390.7 L1360.5 395.1 L1354.5 399.7 L1349.4 404.7 L1345.1 410 L1341.6 415.6 L1338.9 421.3 L1336.7 427.2 L1335 433.2 L1333.8 439.4 L1333 445.6 L1332.5 451.5 L1332.3 456.7 L1332.3 460.9 L1332.4 464.1 L1332.6 466.4 L1332.7 467.8 L1332.8 468.5 L1332.7 468.5 L1332.6 467.9 L1332.4 466.7 L1332.1 464.8 L1331.7 462.2 L1331.2 458.7 L1330.7 454.2 L1330 448.4 L1329.2 441.1 L1328.1 432.6 L1326.8 423.2 L1325.2 413.2 L1323.2 402.8 L1320.8 392.3 L1318 381.7 L1314.8 370.7 L1311.3 359.3 L1307.6 347.3 L1303.7 334.5 L1299.8 321.2 L1296 307.9 L1292.1 294.9 L1288.1 282.7 L1284.1 271.2 L1280.1 260.2 L1276.1 249.8 L1272.2 239.7 L1268.4 229.9 L1264.8 220.4 L1261.3 211.2 L1257.9 202.5 L1254.6 194.2 L1251.4 186.6 L1248.1 179.5 L1244.7 173 L1241.3 166.9 L1237.7 161.2 L1234.1 156 L1230.4 151.6 L1226.6 148.2 L1222.7 146 L1218.7 144.6 L1214.5 144.1 L1210.3 144.3 L1205.8 145 L1201.2 146.2 L1196.3 147.9 L1191.1 150.1 L1185.8 152.5 L1180.2 155.2 L1174.5 158.1 L1168.6 161.1 L1162.5 164.2 L1156.2 167.4 L1150 170.7 L1144.6 173.8 L1140.4 176.9 L1137.8 179.9 L1136.6 182.9 L1136.7 185.8 L1137.8 188.8 L1139.8 191.7 L1142.7 194.5 L1146.4 197.2 L1151.1 199.8 L1156.9 202.2 L1164.1 204.3 L1173 206.2 L1183.9 207.8 L1196.9 209.2 L1211.8 210.4 L1227.9 211.4 L1244.8 212.2 L1262 213 L1279.6 213.7 L1298.1 214.3 L1318.6 214.5 L1341.1 214.5 L1364.6 214.3 L1387.1 214.2 L1407 214.4 L1424.3 215 L1439.7 215.7 L1454.5 216.5 L1469.4 217.2 L1484.7 217.8 L1500.5 218.3 L1516.5 218.9 L1532.6 219.4 L1548.5 219.9 L1564 220.6 L1578.9 221.3 L1592.9 222.2 L1606.1 223.2 L1618.3 224.3 L1629.7 225.6 L1640.3 227 L1650.2 228.5 L1659.4 230.1 L1668.1 231.8 L1676.4 233.6 L1684.4 235.4 L1692.1 237.3 L1699.7 239.3 L1707.1 241.4 L1714.3 243.6 L1721.3 246 L1727.9 248.5 L1734.1 251.2 L1739.3 254 L1743.1 256.8 L1745.4 259.5 L1746.3 262.1 L1746 264.8 L1744.8 267.4 L1742.9 270.1 L1740.2 272.9 L1737 275.7 L1733.2 278.5 L1728.6 281.3 L1723.3 284.2 L1716.8 287 L1709 289.9 L1699.9 292.8 L1689.4 295.7 L1678 298.5 L1666 301.3 L1653.7 304 L1641.2 306.6 L1627.9 309.1 L1613.2 311.2 L1597 313 L1580.1 314.7 L1564 316.4 L1549.8 318.5 L1537.7 320.9 L1526.9 323.5 L1516.6 326 L1506.1 328.4 L1495.3 330.6 L1484.2 332.7 L1472.8 334.7 L1461.5 336.8 L1450.4 339.1 L1439.7 341.5 L1429.5 344 L1419.9 346.9 L1411.1 349.9 L1403.1 353.3 L1395.8 356.8 L1389.1 360.7 L1382.9 364.7 L1377.4 369 L1372.4 373.6 L1367.8 378.5 L1363.6 383.7 L1359.6 389.2 L1355.9 394.9 L1352.4 400.8 L1349.2 406.9 L1346.3 413.4 L1343.7 420.2 L1341.5 427 L1339.6 433.4 L1338.1 438.8 L1336.9 442.9 L1336.1 445.9 L1335.4 448 L1335.1 449.3 L1334.9 449.9 L1334.8 449.8 L1334.9 449.1 L1334.9 447.7 L1335 445.4 L1335 442 L1334.9 437.2 L1334.7 431 L1334.4 423.1 L1334 413.8 L1333.5 403.4 L1332.9 392.4 L1332.1 381.2 L1331 369.7 L1329.8 357.4 L1328.4 343.3 L1326.8 327.4 L1325 310.7 L1322.9 294.8 L1320.6 281.2 L1318.1 269.9 L1315.2 260.2 L1311.9 251.1 L1308.2 241.8 L1304.3 232.1 L1300.1 222 L1296 211.6 L1291.9 201.2 L1287.9 191.1 L1284 181.3 L1280.2 172.2 L1276.5 163.8 L1272.8 156.3 L1269.3 149.7 L1265.8 143.9 L1262.5 138.8 L1259.2 134.5 L1256.1 130.8 L1253.1 127.7 L1250.2 125.1 L1247.4 123 L1244.6 121.2 L1241.8 119.7 L1239 118.5 L1236.2 117.6 L1233.4 117.1 L1230.5 117 L1227.5 117.4 L1224.4 118.3 L1221.3 119.6 L1218.2 121.3 L1215 123.3 L1211.7 125.7 L1208.4 128.2 L1204.9 131 L1201.4 133.8 L1197.8 136.7 L1194.1 139.5 L1190.4 142.4 L1186.6 145.2 L1182.7 148 L1178.9 150.8 L1175 153.7 L1171.2 156.7 L1167.5 159.8 L1163.9 163 L1160.4 166.2 L1156.9 169.5 L1153.4 172.9 L1149.6 176.3 L1145.5 179.8 L1141.2 183.3 L1137.3 186.8 L1134.5 190.1 L1133.2 193.2 L1133.5 196.1 L1135.2 198.8 L1138.1 201.5 L1142 204.1 L1146.7 206.6 L1152.1 209.1 L1158 211.4 L1164.6 213.5 L1171.9 215.6 L1180 217.5 L1189 219.2 L1199.2 220.7 L1210.7 222 L1223.5 223.1 L1237.5 224.1 L1252.1 224.9 L1267.2 225.6 L1282.6 226.2 L1298.1 226.9 L1313.6 227.4 L1329.5 228 L1345.9 228.5 L1363.1 228.8 L1381.4 229.1 L1400.9 229.2 L1421.4 229.2 L1442.7 229.1 L1464.1 229.1 L1485 229.1 L1504.8 229.3 L1523.4 229.7 L1540.4 230.3 L1555.9 231 L1569.9 232 L1582.6 233 L1594.3 234.2 L1605.1 235.5 L1615.4 236.9 L1625.2 238.3 L1634.7 239.9 L1643.9 241.7 L1652.7 243.6 L1661.1 245.7 L1669 248.1 L1676.4 250.7 L1683.4 253.5 L1690 256.7 L1696.3 260.1 L1702.3 263.8 L1708.1 267.8 L1713.7 272.1 L1718.6 276.6 L1722.5 281.1 L1725 285.6 L1726.2 290.2 L1726.4 295 L1725.6 299.9 L1724 305 L1721.7 310.1 L1718.5 315.1 L1714.5 320.1 L1709.5 324.8 L1703.8 329.4 L1697.1 333.7 L1689.6 337.8 L1681 341.6 L1671.3 345.1 L1660.6 348.2 L1649.2 351.1 L1637.3 353.6 L1625.3 355.9 L1613.4 358 L1601.7 360 L1590.2 361.8 L1578.8 363.4 L1567.3 365 L1555.5 366.3 L1543.2 367.4 L1530.2 368.4 L1516.6 369.3 L1502.6 370.1 L1488.7 370.9 L1475.3 371.8 L1462.7 373 L1451.2 374.5 L1440.9 376.3 L1431.7 378.4 L1423.7 380.8 L1416.6 383.5 L1410.4 386.4 L1404.7 389.6 L1399.4 392.9 L1394.3 396.4 L1389.4 400 L1384.7 403.8 L1380.2 407.8 L1376 411.9 L1372.2 416.2 L1368.6 420.6 L1365.5 425.1 L1362.6 429.8 L1360.1 434.9 L1357.9 440.3 L1356 446.3 L1354.5 452.6 L1353.4 458.7 L1352.6 464.1 L1352.3 468.3" fill="none" stroke="#1c1cff" stroke-width="1.5" stroke-linejoin="round" stroke-linecap="round"/>
<path d="M1010 93.5 L1010 556.2 L1335.1 632.5 L1770.4 573.2" fill="none" stroke="#444444" stroke-width="3.2" stroke-opacity="0.2"/>
<path d="M1010 93.5 L1010 556.2 L1335.1 632.5 L1770.4 573.2" fill="none" stroke="#444444" stroke-width="1.6"/>
<line x1="1010" y1="556.2" x2="998.8" y2="553.6" stroke="#444444" stroke-width="1.6"/>
<line x1="1010" y1="490.1" x2="998.8" y2="487.5" stroke="#444444" stroke-width="1.6"/>
<line x1="1010" y1="424" x2="998.8" y2="421.4" stroke="#444444" stroke-width="1.6"/>
<line x1="1010" y1="357.9" x2="998.8" y2="355.3" stroke="#444444" stroke-width="1.6"/>
<line x1="1010" y1="291.8" x2="998.8" y2="289.2" stroke="#444444" stroke-width="1.6"/>
<line x1="1010" y1="225.7" x2="998.8" y2="223.1" stroke="#444444" stroke-width="1.6"/>
<line x1="1010" y1="159.6" x2="998.8" y2="157" stroke="#444444" stroke-width="1.6"/>
<line x1="1010" y1="93.5" x2="998.8" y2="90.9" stroke="#444444" stroke-width="1.6"/>
<line x1="1010" y1="556.2" x2="999.1" y2="557.7" stroke="#444444" stroke-width="1.6"/>
<line x1="1153.6" y1="589.5" x2="1142.7" y2="591" stroke="#444444" stroke-width="1.6"/>
<line x1="1290.6" y1="621.9" x2="1279.7" y2="623.4" stroke="#444444" stroke-width="1.6"/>
<line x1="1360.4" y1="629" x2="1370.1" y2="631.3" stroke="#444444" stroke-width="1.6"/>
<line x1="1433.6" y1="619.1" x2="1443.3" y2="621.3" stroke="#444444" stroke-width="1.6"/>
<line x1="1506.8" y1="609.1" x2="1516.6" y2="611.4" stroke="#444444" stroke-width="1.6"/>
<line x1="1580.1" y1="599.1" x2="1589.8" y2="601.4" stroke="#444444" stroke-width="1.6"/>
<line x1="1653.3" y1="589.1" x2="1663" y2="591.4" stroke="#444444" stroke-width="1.6"/>
<line x1="1726.5" y1="579.2" x2="1736.2" y2="581.5" stroke="#444444" stroke-width="1.6"/>
</g>
<text transform="translate(986.5 561.1) scale(1.0 1.05)" font-size="23.4" text-anchor="end" fill="#424242" stroke="#424242" stroke-width="0.7" stroke-opacity="0.3">-80</text>
<text transform="translate(986.5 495.2) scale(1.0 1.05)" font-size="23.4" text-anchor="end" fill="#424242" stroke="#424242" stroke-width="0.7" stroke-opacity="0.3">-60</text>
<text transform="translate(986.5 429.3) scale(1.0 1.05)" font-size="23.4" text-anchor="end" fill="#424242" stroke="#424242" stroke-width="0.7" stroke-opacity="0.3">-40</text>
<text transform="translate(986.5 363.4) scale(1.0 1.05)" font-size="23.4" text-anchor="end" fill="#424242" stroke="#424242" stroke-width="0.7" stroke-opacity="0.3">-20</text>
<text transform="translate(986.5 297.4) scale(1.0 1.05)" font-size="23.4" text-anchor="end" fill="#424242" stroke="#424242" stroke-width="0.7" stroke-opacity="0.3">0</text>
<text transform="translate(986.5 231.5) scale(1.0 1.05)" font-size="23.4" text-anchor="end" fill="#424242" stroke="#424242" stroke-width="0.7" stroke-opacity="0.3">20</text>
<text transform="translate(986.5 165.6) scale(1.0 1.05)" font-size="23.4" text-anchor="end" fill="#424242" stroke="#424242" stroke-width="0.7" stroke-opacity="0.3">40</text>
<text transform="translate(986.5 99.7) scale(1.0 1.05)" font-size="23.4" text-anchor="end" fill="#424242" stroke="#424242" stroke-width="0.7" stroke-opacity="0.3">60</text>
<text transform="translate(979.8 584.9) scale(1.0 1.05)" font-size="23.4" text-anchor="middle" fill="#424242" stroke="#424242" stroke-width="0.7" stroke-opacity="0.3">50</text>
<text transform="translate(1123.7 616.8) scale(1.0 1.05)" font-size="23.4" text-anchor="middle" fill="#424242" stroke="#424242" stroke-width="0.7" stroke-opacity="0.3">0</text>
<text transform="translate(1251 649.6) scale(1.0 1.05)" font-size="23.4" text-anchor="middle" fill="#424242" stroke="#424242" stroke-width="0.7" stroke-opacity="0.3">-50</text>
<text transform="translate(1398.2 660.6) scale(1.0 1.05)" font-size="23.4" text-anchor="middle" fill="#424242" stroke="#424242" stroke-width="0.7" stroke-opacity="0.3">-60</text>
<text transform="translate(1470.2 650.5) scale(1.0 1.05)" font-size="23.4" text-anchor="middle" fill="#424242" stroke="#424242" stroke-width="0.7" stroke-opacity="0.3">-40</text>
<text transform="translate(1543.3 640) scale(1.0 1.05)" font-size="23.4" text-anchor="middle" fill="#424242" stroke="#424242" stroke-width="0.7" stroke-opacity="0.3">-20</text>
<text transform="translate(1606.3 630.6) scale(1.0 1.05)" font-size="23.4" text-anchor="middle" fill="#424242" stroke="#424242" stroke-width="0.7" stroke-opacity="0.3">0</text>
<text transform="translate(1684.6 620.7) scale(1.0 1.05)" font-size="23.4" text-anchor="middle" fill="#424242" stroke="#424242" stroke-width="0.7" stroke-opacity="0.3">20</text>
<text transform="translate(1757.1 609.3) scale(1.0 1.05)" font-size="23.4" text-anchor="middle" fill="#424242" stroke="#424242" stroke-width="0.7" stroke-opacity="0.3">40</text>
<text transform="translate(946.7 315.2)" font-size="37.0" text-anchor="middle" fill="#262626" stroke="#262626" stroke-width="0.7" stroke-opacity="0.3">z</text>
<text transform="translate(1170.5 693)" font-size="37.0" text-anchor="middle" fill="#262626" stroke="#262626" stroke-width="0.7" stroke-opacity="0.3">y</text>
<text transform="translate(1529 697.6)" font-size="37.0" text-anchor="middle" fill="#262626" stroke="#262626" stroke-width="0.7" stroke-opacity="0.3">x</text>
<rect x="613" y="814.1" width="617.1" height="615.7" fill="none" stroke="#444444" stroke-width="3.6" stroke-opacity="0.2"/>
<rect x="613" y="814.1" width="617.1" height="615.7" fill="none" stroke="#444444" stroke-width="1.95"/>
<text transform="translate(611.2 1466.5) scale(1.0 1.05)" font-size="24.2" text-anchor="middle" fill="#424242" stroke="#424242" stroke-width="0.7" stroke-opacity="0.3">-80</text>
<text transform="translate(602.2 824.6) scale(1.0 1.05)" font-size="24.2" text-anchor="end" fill="#424242" stroke="#424242" stroke-width="0.7" stroke-opacity="0.3">80</text>
<line x1="690.1" y1="1429.8" x2="690.1" y2="1425" stroke="#444444" stroke-width="1.95"/>
<line x1="690.1" y1="814.1" x2="690.1" y2="818.9" stroke="#444444" stroke-width="1.95"/>
<line x1="613" y1="891.1" x2="617.8" y2="891.1" stroke="#444444" stroke-width="1.95"/>
<line x1="1230.1" y1="891.1" x2="1225.3" y2="891.1" stroke="#444444" stroke-width="1.95"/>
<text transform="translate(688.5 1466.5) scale(1.0 1.05)" font-size="24.2" text-anchor="middle" fill="#424242" stroke="#424242" stroke-width="0.7" stroke-opacity="0.3">-60</text>
<text transform="translate(602.2 901.8) scale(1.0 1.05)" font-size="24.2" text-anchor="end" fill="#424242" stroke="#424242" stroke-width="0.7" stroke-opacity="0.3">60</text>
<line x1="767.3" y1="1429.8" x2="767.3" y2="1425" stroke="#444444" stroke-width="1.95"/>
<line x1="767.3" y1="814.1" x2="767.3" y2="818.9" stroke="#444444" stroke-width="1.95"/>
<line x1="613" y1="968" x2="617.8" y2="968" stroke="#444444" stroke-width="1.95"/>
<line x1="1230.1" y1="968" x2="1225.3" y2="968" stroke="#444444" stroke-width="1.95"/>
<text transform="translate(765.8 1466.5) scale(1.0 1.05)" font-size="24.2" text-anchor="middle" fill="#424242" stroke="#424242" stroke-width="0.7" stroke-opacity="0.3">-40</text>
<text transform="translate(602.2 979) scale(1.0 1.05)" font-size="24.2" text-anchor="end" fill="#424242" stroke="#424242" stroke-width="0.7" stroke-opacity="0.3">40</text>
<line x1="844.4" y1="1429.8" x2="844.4" y2="1425" stroke="#444444" stroke-width="1.95"/>
<line x1="844.4" y1="814.1" x2="844.4" y2="818.9" stroke="#444444" stroke-width="1.95"/>
<line x1="613" y1="1045" x2="617.8" y2="1045" stroke="#444444" stroke-width="1.95"/>
<line x1="1230.1" y1="1045" x2="1225.3" y2="1045" stroke="#444444" stroke-width="1.95"/>
<text transform="translate(843.1 1466.5) scale(1.0 1.05)" font-size="24.2" text-anchor="middle" fill="#424242" stroke="#424242" stroke-width="0.7" stroke-opacity="0.3">-20</text>
<text transform="translate(602.2 1056.2) scale(1.0 1.05)" font-size="24.2" text-anchor="end" fill="#424242" stroke="#424242" stroke-width="0.7" stroke-opacity="0.3">20</text>
<line x1="921.5" y1="1429.8" x2="921.5" y2="1425" stroke="#444444" stroke-width="1.95"/>
<line x1="921.5" y1="814.1" x2="921.5" y2="818.9" stroke="#444444" stroke-width="1.95"/>
<line x1="613" y1="1122" x2="617.8" y2="1122" stroke="#444444" stroke-width="1.95"/>
<line x1="1230.1" y1="1122" x2="1225.3" y2="1122" stroke="#444444" stroke-width="1.95"/>
<text transform="translate(920.3 1466.5) scale(1.0 1.05)" font-size="24.2" text-anchor="middle" fill="#424242" stroke="#424242" stroke-width="0.7" stroke-opacity="0.3">0</text>
<text transform="translate(602.2 1133.5) scale(1.0 1.05)" font-size="24.2" text-anchor="end" fill="#424242" stroke="#424242" stroke-width="0.7" stroke-opacity="0.3">0</text>
<line x1="998.7" y1="1429.8" x2="998.7" y2="1425" stroke="#444444" stroke-width="1.95"/>
<line x1="998.7" y1="814.1" x2="998.7" y2="818.9" stroke="#444444" stroke-width="1.95"/>
<line x1="613" y1="1198.9" x2="617.8" y2="1198.9" stroke="#444444" stroke-width="1.95"/>
<line x1="1230.1" y1="1198.9" x2="1225.3" y2="1198.9" stroke="#444444" stroke-width="1.95"/>
<text transform="translate(997.6 1466.5) scale(1.0 1.05)" font-size="24.2" text-anchor="middle" fill="#424242" stroke="#424242" stroke-width="0.7" stroke-opacity="0.3">20</text>
<text transform="translate(602.2 1210.7) scale(1.0 1.05)" font-size="24.2" text-anchor="end" fill="#424242" stroke="#424242" stroke-width="0.7" stroke-opacity="0.3">-20</text>
<line x1="1075.8" y1="1429.8" x2="1075.8" y2="1425" stroke="#444444" stroke-width="1.95"/>
<line x1="1075.8" y1="814.1" x2="1075.8" y2="818.9" stroke="#444444" stroke-width="1.95"/>
<line x1="613" y1="1275.9" x2="617.8" y2="1275.9" stroke="#444444" stroke-width="1.95"/>
<line x1="1230.1" y1="1275.9" x2="1225.3" y2="1275.9" stroke="#444444" stroke-width="1.95"/>
<text transform="translate(1074.9 1466.5) scale(1.0 1.05)" font-size="24.2" text-anchor="middle" fill="#424242" stroke="#424242" stroke-width="0.7" stroke-opacity="0.3">40</text>
<text transform="translate(602.2 1287.9) scale(1.0 1.05)" font-size="24.2" text-anchor="end" fill="#424242" stroke="#424242" stroke-width="0.7" stroke-opacity="0.3">-40</text>
<line x1="1153" y1="1429.8" x2="1153" y2="1425" stroke="#444444" stroke-width="1.95"/>
<line x1="1153" y1="814.1" x2="1153" y2="818.9" stroke="#444444" stroke-width="1.95"/>
<line x1="613" y1="1352.8" x2="617.8" y2="1352.8" stroke="#444444" stroke-width="1.95"/>
<line x1="1230.1" y1="1352.8" x2="1225.3" y2="1352.8" stroke="#444444" stroke-width="1.95"/>
<text transform="translate(1152.2 1466.5) scale(1.0 1.05)" font-size="24.2" text-anchor="middle" fill="#424242" stroke="#424242" stroke-width="0.7" stroke-opacity="0.3">60</text>
<text transform="translate(602.2 1365.1) scale(1.0 1.05)" font-size="24.2" text-anchor="end" fill="#424242" stroke="#424242" stroke-width="0.7" stroke-opacity="0.3">-60</text>
<text transform="translate(1229.5 1466.5) scale(1.0 1.05)" font-size="24.2" text-anchor="middle" fill="#424242" stroke="#424242" stroke-width="0.7" stroke-opacity="0.3">80</text>
<text transform="translate(602.2 1442.3) scale(1.0 1.05)" font-size="24.2" text-anchor="end" fill="#424242" stroke="#424242" stroke-width="0.7" stroke-opacity="0.3">-80</text>
<text transform="translate(921 1514.6)" font-size="37.0" text-anchor="middle" fill="#262626" stroke="#262626" stroke-width="0.7" stroke-opacity="0.3">v</text>
<text transform="translate(543.5 1138.2)" font-size="37.0" text-anchor="middle" fill="#262626" stroke="#262626" stroke-width="0.7" stroke-opacity="0.3">w</text>
<clipPath id="cc"><rect x="613" y="814.1" width="617.1" height="615.7"/></clipPath>
<path d="M885.2 898.8 L888.4 902.7 L893 907.2 L898.4 912.1 L903.9 917.4 L909 923.1 L913.9 929.3 L918.9 936.2 L924.3 944.1 L930.3 952.8 L936.5 962.2 L943 971.9 L949.5 981.6 L955.9 991.2 L962.3 1000.8 L968.8 1010.4 L975.5 1020.3 L982.4 1030.5 L989.5 1041 L996.9 1051.8 L1004.4 1062.7 L1012 1073.7 L1019.6 1084.6 L1027.2 1095.3 L1034.6 1105.6 L1041.8 1115.4 L1048.7 1124.5 L1055.3 1132.8 L1061.5 1140.4 L1067.3 1147.2 L1072.8 1153.3 L1078 1158.9 L1083 1164.1 L1087.9 1168.9 L1092.7 1173.5 L1097.3 1177.7 L1101.7 1181.6 L1106 1185.2 L1110.1 1188.6 L1114 1191.7 L1117.7 1194.5 L1121.1 1197.1 L1124.4 1199.4 L1127.5 1201.5 L1130.3 1203.3 L1132.9 1204.9 L1135.2 1206.2 L1137 1207.3 L1138.2 1208.3 L1138.7 1209.2 L1138.3 1210.1 L1136.9 1211 L1134.6 1211.7 L1131.4 1212.2 L1127.4 1212.6 L1122.8 1212.6 L1117.7 1212.5 L1112 1212.5 L1105.9 1212.5 L1099.3 1212.6 L1091.9 1212.9 L1083.6 1213.3 L1074.3 1213.8 L1063.9 1214.3 L1052.7 1214.9 L1041.1 1215.5 L1029.5 1216.1 L1017.9 1216.8 L1006.4 1217.6 L994.8 1218.4 L982.9 1219.3 L970.5 1220.3 L957.7 1221.3 L944.6 1222.5 L931.1 1223.8 L917.6 1225.3 L904.1 1226.9 L890.7 1228.6 L877.7 1230.4 L865.3 1232.4 L853.5 1234.5 L842.5 1236.8 L832.3 1239.2 L823 1241.8 L814.3 1244.5 L806.2 1247.4 L798.5 1250.4 L791 1253.6 L783.9 1256.8 L777.2 1259.9 L770.9 1263 L765 1265.9 L759.6 1268.6 L754.7 1270.9 L750.3 1272.8 L746.5 1274.2 L743.3 1275.1 L740.7 1275.4 L738.8 1275 L737.5 1274.1 L736.9 1272.6 L736.9 1270.4 L737.3 1267.7 L738.2 1264.3 L739.4 1260.4 L741 1256 L743 1251 L745.4 1245.7 L748.4 1239.9 L752.1 1233.5 L756.3 1226.4 L761 1218.4 L766.1 1209.5 L771.5 1200 L776.8 1190.2 L782 1180.4 L787.1 1170.6 L792.2 1160.9 L797.3 1150.9 L802.7 1140.3 L808.6 1128.8 L815 1116.3 L821.9 1102.8 L829.1 1088.9 L836.1 1074.9 L843 1061.2 L849.4 1048 L855.3 1035.3 L860.7 1023.4 L865.5 1012.2 L869.6 1001.9 L873.1 992.4 L876.1 983.6 L878.5 975.4 L880.5 967.7 L882.2 960.4 L883.5 953.2 L884.5 946.4 L885.2 939.7 L885.6 933.2 L885.7 926.9 L885.6 920.8 L885.3 914.9 L884.9 909.3 L884.4 904 L883.8 899.2 L883.3 894.9 L882.7 891.2 L882.3 888.1 L882 885.8 L881.9 884.2 L882 883.4 L882.5 883.3 L883.2 883.9 L884.3 885 L885.8 886.8 L887.7 889.1 L889.8 892 L892.4 895.5 L895.2 899.5 L898.3 904 L901.6 909 L905.2 914.4 L909.2 920.3 L913.6 926.8 L918.6 934.2 L924.1 942.4 L930.1 951.1 L936.2 960.1 L942.4 969 L948.5 977.9 L954.7 986.8 L961 995.9 L967.7 1005.5 L974.9 1016 L982.7 1027.6 L991 1040.1 L999.7 1053 L1008.5 1065.9 L1017.1 1078.5 L1025.4 1090.4 L1033.5 1101.7 L1041.2 1112.2 L1048.6 1121.8 L1055.6 1130.5 L1062.1 1138.2 L1068.3 1145 L1074.2 1151.2 L1079.9 1156.7 L1085.5 1161.8 L1091.1 1166.4 L1096.6 1170.7 L1102 1174.6 L1107.4 1178.2 L1112.8 1181.5 L1118.2 1184.4 L1123.5 1187.1 L1128.5 1189.5 L1133.4 1191.7 L1137.8 1193.7 L1141.9 1195.3 L1145.3 1196.8 L1148.2 1197.9 L1150.3 1198.9 L1151.7 1199.7 L1152.2 1200.4 L1152 1201 L1151 1201.6 L1149.3 1202.3 L1146.8 1203 L1143.6 1203.9 L1139.7 1204.9 L1135.1 1205.9 L1129.8 1207 L1124 1208 L1117.6 1209 L1110.8 1210 L1103.4 1211.1 L1095.1 1212.2 L1085.9 1213.5 L1075.7 1214.7 L1064.9 1216 L1053.7 1217.3 L1042.6 1218.6 L1031.6 1219.9 L1020.6 1221.1 L1009.4 1222.3 L997.5 1223.5 L984.6 1224.8 L970.5 1226 L955.3 1227.3 L939.6 1228.7 L923.8 1230.2 L908.3 1231.7 L893.5 1233.4 L879.5 1235.1 L866.3 1236.9 L854.1 1238.8 L843 1240.7 L832.9 1242.7 L823.8 1244.7 L815.4 1246.9 L807.7 1249.2 L800.4 1251.7 L793.5 1254.3 L786.9 1257.1 L780.7 1260 L774.8 1263.1 L769.2 1266.1 L764.1 1269.2 L759.3 1272 L754.9 1274.7 L751 1277.1 L747.6 1279.1 L744.7 1280.8 L742.3 1282.1 L740.5 1282.9 L739.1 1283.2 L738.3 1283 L738 1282.2 L738.1 1280.8 L738.6 1278.8 L739.3 1276.2 L740.4 1272.9 L741.7 1268.9 L743.3 1264.1 L745.4 1258.5 L748 1251.9 L751.1 1244.5 L754.8 1236 L759.1 1226.5 L763.9 1216.1 L769 1205.1 L774.1 1193.7 L779.3 1182.3 L784.4 1170.9 L789.6 1159.1 L795.4 1146.7 L801.7 1133.1 L808.9 1118.4 L816.5 1102.8 L824.1 1087.2 L831.4 1072.1 L838.1 1058.1 L844.1 1045.1 L849.5 1033 L854.2 1021.9 L858.3 1011.6 L862 1002.1 L865.1 993.2 L867.9 984.8 L870.3 977 L872.4 969.5 L874.2 962.4 L875.8 955.5 L877 948.9 L878 942.6 L878.8 936.5 L879.2 930.4 L879.4 924.5 L879.4 918.6 L879.2 912.9 L878.9 907.2 L878.6 901.8 L878.2 896.7 L877.8 892.1 L877.4 887.9 L877.1 884.4 L876.8 881.5 L876.7 879.3 L876.6 877.7 L876.8 876.8 L877.2 876.4 L877.9 876.7 L879 877.6 L880.5 879.1 L882.5 881 L884.9 883.5 L887.7 886.5 L891.2 890.1 L895.1 894.6 L899.6 899.9 L904.7 906.1 L910.2 913.5 L916.3 921.9 L922.9 931.2 L930 941.2 L937.2 951.4 L944.5 961.6 L951.8 971.9 L959.3 982.4 L967.2 993.7 L975.7 1006.1 L984.9 1019.7 L994.5 1034.2 L1004.2 1048.7 L1013.5 1062.6 L1022.3 1075.5 L1030.6 1087.4 L1038.3 1098.1 L1045.5 1107.9 L1052.3 1116.7 L1058.7 1124.7 L1064.8 1132 L1070.6 1138.6 L1076.2 1144.7 L1081.6 1150.3 L1086.8 1155.5 L1091.9 1160.4 L1097 1164.8 L1101.9 1168.9 L1106.9 1172.7 L1111.8 1176.1 L1116.9 1179.3 L1121.9 1182.3 L1127 1185 L1132.1 1187.6 L1137 1190 L1141.6 1192.2 L1145.9 1194.1 L1149.7 1195.8 L1152.9 1197.2 L1155.6 1198.3 L1157.7 1199.1 L1159.2 1199.8 L1160 1200.2 L1160.2 1200.6 L1159.7 1200.9 L1158.5 1201.2 L1156.6 1201.5 L1154.1 1201.9 L1151 1202.4 L1147.2 1203 L1142.6 1203.6 L1137 1204.4 L1130.3 1205.3 L1122.5 1206.4 L1113.3 1207.6 L1102.8 1208.9 L1091.1 1210.4 L1078.7 1212 L1065.9 1213.6 L1053.1 1215.3 L1040.2 1217.1 L1027 1218.9 L1012.9 1220.6 L997.6 1222.3 L980.9 1223.9 L963.3 1225.4 L945.6 1226.8 L928.8 1228.1 L913.1 1229.3 L898.7 1230.6 L885.5 1231.8 L873.5 1233 L862.6 1234.3 L852.6 1235.7 L843.3 1237 L834.9 1238.5 L827 1240 L819.6 1241.5 L812.6 1243 L806.1 1244.6 L800 1246.3 L794.2 1248 L788.8 1249.9 L783.7 1251.8 L778.8 1253.9 L774.1 1256.1 L769.5 1258.5 L765.1 1261 L760.7 1263.8 L756.5 1266.7 L752.4 1269.9 L748.5 1273.3 L744.8 1276.9 L741.3 1280.8 L738 1284.7 L735.2 1288.3 L733.1 1291.1 L731.7 1292.8 L731 1293.5 L730.8 1293.1 L731.1 1292 L731.7 1290.2 L732.5 1287.7 L733.7 1284.6 L735.1 1280.8 L736.9 1276.1 L739.1 1270.5 L741.7 1263.9 L744.8 1256.1 L748.5 1247.1 L752.6 1237 L757.1 1226.1 L761.9 1214.5 L766.8 1202.7 L771.5 1191 L776.1 1179.4 L780.7 1168.1 L785.3 1156.7 L790.3 1145 L795.7 1132.7 L801.6 1119.7 L807.9 1106.1 L814.4 1092.4 L820.8 1078.8 L827 1065.7 L832.8 1053.1 L838.3 1041 L843.4 1029.5 L848.2 1018.6 L852.6 1008.1 L856.7 998 L860.5 988.4 L863.9 979.3 L867.1 970.7 L869.9 962.5 L872.4 954.7 L874.6 947.2 L876.6 939.9 L878.3 932.9 L879.7 926 L880.8 919.4 L881.5 913.1 L881.8 907 L881.7 901.2 L881.3 895.5 L880.6 890 L879.6 884.5 L878.2 879.1 L876.7 873.9 L875.2 869.3 L874.1 865.7 L873.5 863.3 L873.4 862.2 L873.8 862.1 L874.6 862.9 L875.9 864.4 L877.5 866.4 L879.6 869.1 L882.1 872.4 L885.2 876.4 L888.9 881.2 L893.3 886.9 L898.5 893.6 L904.4 901.2 L911.1 909.9 L918.3 919.3 L926 929.2 L933.8 939.3 L941.7 949.2 L949.4 958.9 L957 968.4 L964.6 978.1 L972.4 988.1 L980.4 998.9 L988.7 1010.4 L997.4 1022.5 L1006.1 1034.9 L1014.7 1047.2 L1023.1 1059 L1031.2 1070.3 L1038.9 1081 L1046.4 1091.1 L1053.6 1100.6 L1060.5 1109.6 L1067.2 1118.1 L1073.7 1126.1 L1079.9 1133.6 L1085.9 1140.5 L1091.6 1147 L1097.1 1153 L1102.5 1158.7 L1107.8 1164.1 L1113.1 1169.2 L1118.3 1173.9 L1123.5 1178.1 L1128.6 1181.9 L1133.7 1185.1 L1138.9 1187.8 L1144.1 1190.2 L1149.4 1192.1 L1154.9 1193.6 L1160.5 1194.8 L1166 1195.7 L1171 1196.2 L1175 1196.5 L1177.7 1196.6 L1179.1 1196.5 L1179.3 1196.2 L1178.6 1195.9 L1177.1 1195.5 L1175 1195.1 L1172.1 1194.6 L1168.6 1194.2 L1164.2 1193.7 L1159 1193.1 L1152.7 1192.6 L1145.3 1192.1 L1136.6 1191.7 L1126.7 1191.6 L1115.8 1191.7 L1104.1 1192 L1092 1192.7 L1079.9 1193.8 L1067.9 1195.1 L1056 1196.7 L1043.8 1198.5 L1031.1 1200.3 L1017.5 1202.3 L1003 1204.3 L987.8 1206.4 L972.2 1208.5 L956.7 1210.7 L941.7 1212.9 L927.4 1215.1 L913.8 1217.2 L901 1219.3 L888.8 1221.2 L877.3 1223.1 L866.4 1224.9 L856.1 1226.7 L846.5 1228.5 L837.4 1230.2 L828.8 1232 L820.8 1233.8 L813.2 1235.7 L805.9 1237.5 L798.9 1239.4 L792.4 1241.3 L786.4 1243.2 L780.9 1245.2 L776 1247.2 L771.7 1249.2 L767.8 1251.2 L764.4 1253.3 L761.3 1255.5 L758.6 1257.7 L756.3 1260.1 L754.2 1262.5 L752.4 1265.1 L750.8 1267.8 L749.3 1270.6 L747.9 1273.5 L746.6 1276.5 L745.3 1279.5 L744 1282.6 L742.7 1285.6 L741.7 1288.3 L741.1 1290.4 L740.9 1291.8 L741.2 1292.4 L741.8 1292.3 L742.7 1291.5 L743.7 1290 L744.8 1287.9 L746 1285.2 L747.1 1281.8 L748.3 1277.7 L749.5 1272.9 L750.7 1267.6 L752.1 1261.7 L753.6 1255.4 L755.4 1248.4 L757.6 1240.5 L760.3 1231.7 L763.6 1221.8 L767.4 1210.8 L771.5 1199.2 L775.9 1187.3 L780.3 1175.4 L784.8 1163.7 L789.3 1152 L793.9 1140.2 L798.7 1128.2 L803.8 1116 L809 1103.4 L814.4 1090.6 L819.8 1077.6 L825.3 1064.6 L830.7 1051.6 L835.9 1038.8 L840.9 1026.4 L845.5 1014.7 L849.7 1003.6 L853.4 993.2 L856.8 983.5 L859.7 974.4 L862.3 965.9 L864.5 957.8 L866.5 950 L868.3 942.4 L870 934.7 L871.6 927 L873 919.5 L874.1 912.2 L874.8 905.3 L875.2 898.9 L875.2 893 L874.9 887.5 L874.3 882.3 L873.7 877.4 L873 873.2 L872.5 869.8 L872.4 867.3 L872.5 865.8 L873 865.2 L873.8 865.5 L874.9 866.4 L876.4 868.1 L878.2 870.3 L880.6 873.1 L883.4 876.5 L886.6 880.3 L890.3 884.7 L894.3 889.4 L898.8 894.5 L903.6 900.1 L909.1 906.3 L915.2 913.5 L922 921.6 L929.4 930.6 L937.3 940.2 L945.3 950.1 L953.3 960 L961.2 969.9 L969.1 979.8 L976.9 989.9 L984.8 1000.1 L992.8 1010.7 L1001.1 1021.7 L1009.4 1032.8 L1017.9 1044.1 L1026.4 1055.4 L1035 1066.7 L1043.4 1077.7 L1051.5 1088.3 L1059.4 1098.3 L1066.8 1107.6 L1073.8 1116.2 L1080.5 1124.2 L1086.8 1131.5 L1092.8 1138.2 L1098.6 1144.4 L1104.2 1150.2 L1109.8 1155.7 L1115.5 1161.2 L1121.4 1166.5 L1127.2 1171.5 L1133.1 1176 L1138.7 1179.9 L1144.2 1183.1 L1149.6 1185.8 L1154.8 1187.8 L1159.9 1189.5 L1164.7 1190.8 L1169.1 1191.7 L1172.7 1192.3 L1175.3 1192.7 L1177 1192.8 L1177.7 1192.7 L1177.6 1192.5 L1176.7 1192.1 L1175.1 1191.6 L1172.8 1191 L1169.9 1190.5 L1166.3 1189.9 L1162.2 1189.3 L1157.5 1188.8 L1152.3 1188.4 L1146.5 1188.1 L1140.1 1188.1 L1132.7 1188.3 L1124.2 1188.8 L1114.3 1189.5 L1103.3 1190.6 L1091.4 1191.9 L1079.1 1193.5 L1066.6 1195.2 L1054.1 1197 L1041.6 1198.8 L1028.9 1200.6 L1015.9 1202.5 L1002.6 1204.3 L988.9 1206.2 L974.9 1208.1 L960.8 1209.9 L946.6 1211.7 L932.6 1213.4 L918.8 1215.1 L905.7 1216.6 L893.2 1218.1 L881.6 1219.5 L870.9 1220.9 L860.9 1222.3 L851.7 1223.6 L843.2 1224.9 L835.2 1226.3 L827.7 1227.7 L820.4 1229.2 L813.3 1230.7 L806.2 1232.2 L799.5 1233.9 L793.3 1235.5 L787.7 1237.3 L782.9 1239.1 L778.8 1241 L775.3 1243 L772.2 1245 L769.5 1247.1 L767.2 1249.2 L765.2 1251.4 L763.5 1253.6 L762 1256 L760.7 1258.4 L759.6 1260.8 L758.6 1263.3 L757.7 1265.8 L756.9 1268.3 L756.2 1270.7 L755.5 1273 L754.9 1275.2 L754.4 1277.2 L754 1278.7 L753.6 1279.8 L753.4 1280.3 L753.3 1280.1 L753.2 1279.2 L753.2 1277.7 L753.2 1275.6 L753.3 1272.7 L753.5 1269.2 L753.9 1265.2 L754.5 1260.6 L755.4 1255.3 L756.7 1249.5 L758.4 1242.8 L760.7 1235.2 L763.5 1226.7 L766.8 1217.2 L770.5 1207 L774.6 1196.5 L778.7 1185.8 L783 1175.1 L787.4 1164.4 L792 1153.5 L796.9 1142.2 L802.1 1130.4 L807.6 1118.2 L813.4 1105.6 L819.2 1092.9 L824.9 1080.2 L830.6 1067.7 L836 1055.4 L841.1 1043.5 L846 1032 L850.5 1020.9 L854.7 1010.4 L858.4 1000.3 L861.8 990.8 L864.9 981.8 L867.5 973.3 L869.8 965.3 L871.9 957.6 L873.7 950.2 L875.3 943 L876.8 935.9 L878.1 929 L879.1 922.4 L879.9 916.1 L880.5 910.2 L880.8 904.6 L881 899.4 L881 894.5 L880.9 890 L880.8 885.9 L880.6 882.3 L880.5 879.3 L880.6 877 L880.9 875.6 L881.5 874.9 L882.4 875.1 L883.5 876 L885.1 877.7 L887 880.1 L889.3 883.1 L891.9 886.6 L895 890.6 L898.5 895.1 L902.4 899.9 L907 905.4 L912.1 911.7 L917.9 918.8 L924.2 926.8 L931 935.5 L938 944.5 L945 953.8 L952 963 L959 972.4 L966 982 L973.3 992.1 L980.8 1002.7 L988.5 1013.7 L996.5 1025.1 L1004.6 1036.6 L1012.7 1048 L1020.7 1059.3 L1028.5 1070.2 L1036.3 1080.7 L1043.8 1090.7 L1051 1100.3 L1058 1109.2 L1064.8 1117.7 L1071.3 1125.5 L1077.5 1132.8 L1083.4 1139.5 L1089.1 1145.7 L1094.7 1151.4 L1100.1 1156.8 L1105.5 1161.9 L1110.9 1166.8 L1116.3 1171.3 L1121.6 1175.3 L1126.8 1178.9 L1131.9 1181.9 L1136.8 1184.6 L1141.6 1186.8 L1146.2 1188.6 L1150.6 1190.1 L1154.7 1191.2 L1158.4 1192 L1161.5 1192.5 L1164 1192.8 L1165.7 1192.8 L1166.6 1192.6 L1166.6 1192.1 L1166 1191.4 L1164.5 1190.5 L1162.4 1189.4 L1159.6 1188.3 L1156.1 1187.2 L1152.1 1186.2 L1147.4 1185.4 L1142 1185 L1135.7 1184.9 L1128.4 1185 L1119.9 1185.5 L1110.2 1186.1 L1099.7 1187.1 L1088.5 1188.4 L1076.9 1189.8 L1065.2 1191.5 L1053.3 1193.3 L1041.1 1195.1 L1028.4 1197.1 L1015 1199 L1001.1 1201 L986.8 1203 L972.3 1205.1 L957.8 1207.1 L943.7 1209.1 L929.9 1211 L916.7 1212.8 L904.1 1214.5 L892.2 1216.1 L880.9 1217.6 L870.3 1219.1 L860.4 1220.4 L851.2 1221.8 L842.7 1223.1 L834.8 1224.5 L827.3 1225.8 L820.3 1227.2 L813.5 1228.6 L807.1 1230.1 L801 1231.6 L795.4 1233.3 L790.3 1234.9 L785.7 1236.7 L781.6 1238.6 L777.9 1240.5 L774.6 1242.5 L771.7 1244.6 L769.2 1246.8 L766.9 1249.1 L764.9 1251.4 L763.2 1253.9 L761.7 1256.5 L760.4 1259.1 L759.5 1261.7 L758.8 1264.3 L758.4 1266.8 L758.2 1269.3 L758.2 1271.6 L758.3 1273.7 L758.4 1275.5 L758.4 1276.9 L758.4 1277.8 L758.3 1278.1 L758.3 1277.8 L758.4 1276.9 L758.5 1275.4 L758.6 1273.2 L758.9 1270.3 L759.2 1266.7 L759.7 1262.5 L760.5 1257.6 L761.5 1252.1 L763 1245.8 L764.9 1238.6 L767.3 1230.4 L770.3 1221.2 L773.8 1211 L777.7 1200.3 L781.8 1189.2 L785.9 1178.2 L790.2 1167.2 L794.5 1156.3 L799 1145.3 L803.7 1134.2 L808.7 1122.7 L814 1110.8 L819.5 1098.6 L825.1 1086.2 L830.8 1073.7 L836.5 1061.2 L842 1049 L847.2 1037.1 L852 1025.8 L856.5 1015 L860.5 1004.8 L864.1 995.2 L867.3 986.1 L870.1 977.6 L872.6 969.5 L874.7 961.7 L876.6 954.2 L878.4 946.8 L880.1 939.4 L881.5 932.1 L882.7 925.1 L883.6 918.5 L884.2 912.4 L884.4 906.7 L884.4 901.5 L884.2 896.7 L883.9 892.4 L883.5 888.5 L883 885 L882.6 882.1 L882.3 879.9 L882.2 878.3 L882.4 877.4 L882.8 877.2 L883.5 877.7 L884.7 878.8 L886.2 880.6 L888.1 883.1 L890.4 886.3 L893 890.2 L896.1 894.6 L899.6 899.5 L903.8 905 L908.5 911.1 L914 918.1 L920.1 926 L926.8 934.7 L933.9 943.9 L941.2 953.5 L948.5 963 L955.6 972.6 L962.7 982.1 L969.8 991.8 L976.9 1001.8 L984.3 1012.1 L991.8 1022.8 L999.5 1033.9 L1007.3 1045.2 L1015.2 1056.6 L1023.1 1067.9 L1030.9 1078.9 L1038.5 1089.5 L1045.9 1099.5 L1052.9 1108.9 L1059.6 1117.6 L1066.1 1125.7 L1072.2 1133.2 L1078.2 1140.1 L1083.9 1146.4 L1089.5 1152.2 L1095 1157.7 L1100.5 1162.9 L1106.2 1168 L1111.8 1172.8 L1117.4 1177.2 L1122.8 1181 L1128.1 1184.3 L1133.1 1187 L1137.8 1189.2 L1142.3 1191 L1146.5 1192.4 L1150.4 1193.5 L1153.9 1194.3 L1156.9 1194.9 L1159.4 1195.2 L1161.2 1195.3 L1162.2 1195.2 L1162.6 1194.9 L1162.3 1194.5 L1161.3 1193.9 L1159.6 1193.2 L1157.2 1192.4 L1154.1 1191.3 L1150.3 1190.2 L1145.8 1189.2 L1140.5 1188.4 L1134.5 1187.9 L1127.4 1187.8 L1119.3 1187.9 L1109.9 1188.4 L1099.4 1189.1 L1088.2 1190 L1076.5 1191.1 L1064.7 1192.3 L1053 1193.6 L1041.1 1194.9 L1029.1 1196.3 L1016.8 1197.8 L1004 1199.2 L990.7 1200.8 L977 1202.3 L963 1203.8 L949 1205.3 L935.1 1206.8 L921.5 1208.2 L908.4 1209.6 L896.1 1210.9 L884.4 1212.2 L873.5 1213.5 L863.4 1214.9 L854 1216.2 L845.2 1217.6 L837.1 1219.1 L829.4 1220.6 L822.1 1222.3 L815 1224 L808.1 1225.9 L801.5 1227.8 L795.2 1229.8 L789.6 1231.9 L784.6 1234.1 L780.1 1236.3 L776.2 1238.6 L772.8 1241 L769.7 1243.5 L766.9 1246.1 L764.4 1248.8 L762.1 1251.7 L760 1254.6 L758.2 1257.6 L756.6 1260.6 L755.2 1263.5 L754.1 1266.3 L753.2 1268.9 L752.7 1271.2 L752.6 1273.1 L753 1274.5 L753.8 1275.3 L754.8 1275.6 L755.9 1275.3 L756.9 1274.5 L758 1273.1 L758.9 1271 L759.9 1268.4 L761 1265.1 L762.2 1261.3 L763.5 1256.8 L765.1 1251.6 L767 1245.9 L769.1 1239.4 L771.6 1232.3 L774.5 1224.5 L777.7 1216 L781.2 1206.9 L784.9 1197.4 L788.8 1187.6 L792.7 1177.9 L796.6 1168.2 L800.4 1158.7 L804.3 1149.2 L808.4 1139.5 L812.8 1129.3 L817.6 1118.4 L822.7 1106.9 L828.1 1094.9 L833.6 1082.6 L839 1070.4 L844.2 1058.3 L849 1046.7 L853.4 1035.5 L857.3 1025 L860.8 1015.2 L863.9 1005.9 L866.5 997.1 L868.8 988.9 L870.8 981.1 L872.4 973.5 L873.9 966.1 L875.3 958.8 L876.5 951.5 L877.5 944.3 L878.2 937.3 L878.7 930.7 L878.9 924.4 L878.8 918.6 L878.6 913.2 L878.2 908.2 L877.8 903.7 L877.4 899.8 L877.1 896.6 L876.9 894.1 L876.9 892.4 L877.1 891.5 L877.6 891.2 L878.3 891.6 L879.3 892.7 L880.8 894.3 L882.6 896.4 L884.9 899 L887.5 902.2 L890.4 906.1 L893.8 910.6 L897.5 915.7 L901.7 921.3 L906.3 927.6 L911.4 934.4 L916.9 941.8 L922.9 949.7 L929.1 958 L935.5 966.5 L941.8 975 L948.1 983.4 L954.3 991.8 L960.5 1000.1 L966.8 1008.7 L973.3 1017.8 L980.2 1027.6 L987.5 1037.9 L995.2 1048.8 L1003 1059.9 L1010.8 1070.9 L1018.5 1081.6 L1026.1 1091.9 L1033.4 1101.5 L1040.4 1110.4 L1047 1118.7 L1053.4 1126.2 L1059.5 1133.2 L1065.4 1139.5 L1071.1 1145.3 L1076.7 1150.7 L1082.3 1155.8 L1087.9 1160.8 L1093.7 1165.5 L1099.4 1169.9 L1105.2 1173.9 L1110.8 1177.5 L1116.3 1180.5 L1121.6 1183 L1126.7 1185 L1131.5 1186.7 L1135.9 1188.1 L1139.8 1189 L1143.2 1189.7 L1145.8 1190.1 L1147.7 1190.2 L1148.8 1190.2 L1149.3 1189.9 L1149 1189.5 L1148.1 1189 L1146.6 1188.4 L1144.5 1187.8 L1141.8 1187.3 L1138.4 1186.7 L1134.3 1186.1 L1129.4 1185.6 L1123.7 1185.1 L1117.3 1184.9 L1110.1 1184.8 L1102.2 1185 L1093.4 1185.3 L1083.8 1186 L1073.7 1187 L1063.1 1188.2 L1052.4 1189.7 L1041.7 1191.4 L1031 1193.1 L1020.3 1195 L1009.2 1196.8 L997.7 1198.7 L985.3 1200.5 L972.2 1202.4 L958.6 1204.2 L944.7 1206 L930.9 1207.8 L917.5 1209.6 L904.6 1211.3 L892.5 1213 L881.3 1214.6 L870.8 1216.2 L861.1 1217.8 L852.2 1219.4 L843.9 1221 L836.2 1222.7 L828.9 1224.5 L821.9 1226.3 L815.1 1228.2 L808.5 1230.2 L802.2 1232.2 L796.4 1234.2 L791.1 1236.3 L786.4 1238.5 L782.2 1240.7 L778.5 1242.9 L775.3 1245.2 L772.4 1247.5 L769.8 1250 L767.6 1252.5 L765.6 1255.1 L763.9 1257.8 L762.4 1260.6 L761 1263.5 L759.7 1266.6 L758.4 1269.8 L757 1273.4 L755.6 1277 L754.3 1280.3 L753.5 1282.8 L753.4 1284.3 L753.7 1284.7 L754.5 1284.3 L755.4 1283.2 L756.5 1281.4 L757.7 1279.1 L758.9 1276.2 L760.1 1272.8 L761.3 1268.8 L762.5 1264.3 L763.7 1259.2 L764.9 1253.8 L766.3 1247.9 L767.9 1241.4 L770 1234.2 L772.6 1225.9 L775.9 1216.5 L779.7 1206.2 L783.8 1195.4 L788.1 1184.4 L792.4 1173.4 L796.7 1162.4 L801.1 1151.3 L805.7 1140.1 L810.5 1128.6 L815.6 1116.6 L820.9 1104.2 L826.4 1091.5 L831.9 1078.7 L837.3 1066 L842.5 1053.6 L847.2 1041.6 L851.6 1030.3 L855.5 1019.6 L859 1009.6 L862 1000.3 L864.6 991.5 L866.9 983.3 L868.9 975.5 L870.6 968 L872.3 960.6 L873.9 953.1 L875.4 945.6 L876.7 938.3 L877.7 931.5 L878.2 925.2 L878.3 919.4 L878 914.1 L877.3 909.1 L876.4 904.2 L875.1 899.3 L873.7 894.6 L872.3 890.4 L871.2 887.2 L870.7 885.2 L870.6 884.4 L870.9 884.7 L871.6 885.9 L872.4 888 L873.4 890.9 L874.7 894.5 L876.3 898.5 L878.4 902.8 L881.2 907 L884.6 911.2 L888.5 915.3 L892.8 919.7 L897.5 924.5 L902.7 930.1 L908.5 936.7 L914.9 944.3 L921.9 952.8 L929.2 961.8 L936.6 971.1 L944 980.3 L951.4 989.5 L958.8 998.9 L966.2 1008.4 L973.8 1018.3 L981.7 1028.7 L989.8 1039.4 L998.1 1050.5 L1006.5 1061.6 L1014.9 1072.6 L1023.1 1083.2 L1031.1 1093.2 L1038.8 1102.5 L1046.2 1111.2 L1053.2 1119 L1059.9 1126.2 L1066.2 1132.8 L1072.3 1138.7 L1078.1 1144.2 L1083.8 1149.4 L1089.5 1154.4 L1095.3 1159.4 L1101 1164.4 L1106.8 1169.1 L1112.3 1173.3 L1117.6 1176.7 L1122.6 1179.6 L1127.4 1181.8 L1132.2 1183.6 L1137 1185.1 L1142 1186.3 L1147 1187.2 L1151.4 1187.8 L1154.9 1188.2 L1157.1 1188.4 L1158 1188.3 L1157.9 1188 L1156.8 1187.4 L1154.9 1186.5 L1152.3 1185.3 L1149 1183.9 L1145.2 1182.4 L1141 1181.1 L1136.6 1180.3 L1132 1179.9 L1127.1 1179.9 L1121.9 1180.2 L1116.1 1180.7 L1109.3 1181.3 L1101.2 1182 L1091.9 1182.8 L1081.6 1183.7 L1070.6 1184.6 L1059.3 1185.7 L1047.9 1186.8 L1036.5 1188 L1025 1189.3 L1013.2 1190.6 L1000.9 1192 L988.2 1193.4 L974.9 1194.7 L961.4 1196.1 L947.7 1197.4 L934.2 1198.7 L921.2 1200.1 L908.9 1201.4 L897.2 1202.8 L886.4 1204.2 L876.4 1205.7 L867.1 1207.4 L858.6 1209.1 L850.6 1211 L843.1 1212.9 L836 1215 L828.9 1217.1 L821.8 1219.4 L814.7 1221.7 L807.9 1224.1 L801.7 1226.5 L796.2 1229.1 L791.4 1231.7 L787.2 1234.4 L783.5 1237.1 L780.3 1239.8 L777.4 1242.4 L775 1244.8 L772.9 1247.1 L771.3 1249.2 L770 1251 L769.2 1252.5 L768.8 1253.8 L769 1254.7 L769.7 1255.2 L771 1255.3 L772.9 1255 L775 1254.2 L777.2 1253 L779.2 1251.2 L780.9 1249 L782.6 1246.2 L784.2 1242.8 L785.9 1238.9 L787.9 1234.3 L790.1 1229 L792.7 1223 L795.6 1216.1 L799 1208.3 L802.8 1199.6 L807 1190.2 L811.3 1180.3 L815.8 1169.9 L820.6 1159.1 L825.4 1148 L830.4 1136.7 L835.2 1125.6 L839.8 1115 L844.1 1104.9 L848.2 1095.2 L852.1 1085.8 L855.8 1076.7 L859.4 1067.7 L862.9 1058.8 L866.2 1050 L869.4 1041.2 L872.4 1032.5 L875.2 1024.1 L877.6 1015.9 L879.7 1008.1 L881.5 1000.7 L883 993.7 L884.3 986.9 L885.3 980.4 L886 974.2 L886.4 968.4 L886.6 962.8 L886.6 957.4 L886.4 952.4 L886 947.7 L885.6 943.3 L885 939.3 L884.4 935.8 L883.7 932.8 L883 930.4 L882.3 928.5 L881.6 927.3 L880.9 926.7 L880.1 927 L879.3 928.2 L878.5 930.3 L877.7 933.1 L877.2 936.5 L877.2 940 L877.8 943.5 L879 947 L880.8 950.7 L883 954.7 L885.8 959.1 L889 964 L892.8 969.6 L897.1 975.9 L902 983 L907.5 990.9 L913.4 999.5 L919.7 1008.4 L926.4 1017.7 L933.3 1027.4 L940.4 1037.4 L947.6 1047.4 L954.7 1057.3 L961.5 1066.7 L968.1 1075.7 L974.4 1084.2 L980.5 1092.3 L986.5 1100.2 L992.4 1107.9 L998.3 1115.4 L1004.3 1122.8 L1010.3 1130 L1016.3 1137 L1022.3 1143.7 L1028.1 1150 L1033.7 1155.8 L1039.1 1161.2 L1044.4 1166.1 L1049.6 1170.7 L1054.6 1175 L1059.5 1178.9 L1064.3 1182.5 L1068.9 1185.7 L1073.4 1188.6 L1077.7 1191.2 L1081.8 1193.5 L1085.7 1195.6 L1089.3 1197.4 L1092.4 1198.9 L1095.2 1200.1 L1097.4 1201.1 L1099.2 1201.7 L1100.5 1202.1 L1101.1 1202.1 L1101 1201.8 L1100.1 1201 L1098.3 1199.8 L1095.9 1198.4 L1092.8 1197 L1089.3 1196 L1085.5 1195.5 L1081.5 1195.4 L1077 1195.7 L1072.1 1196.3 L1066.6 1196.9 L1060.5 1197.7 L1053.6 1198.5 L1045.7 1199.5 L1036.9 1200.5 L1027.1 1201.6 L1016.6 1202.7 L1005.5 1203.9 L994.1 1205.1 L982.2 1206.3 L969.9 1207.5 L957.6 1208.7 L945.4 1210 L933.7 1211.4 L922.6 1212.8 L911.9 1214.3 L901.5 1215.9 L891.3 1217.6 L881.3 1219.5 L871.5 1221.5 L861.7 1223.6 L852.1 1225.8 L842.7 1228 L833.6 1230.4 L825 1232.7 L816.9 1235.1 L809.3 1237.6 L802.1 1240.1 L795.3 1242.6 L788.8 1245.3 L782.7 1248 L777 1250.7 L771.7 1253.5 L766.8 1256.2 L762.2 1258.8 L758.1 1261.2 L754.5 1263.4 L751.2 1265.4 L748.5 1267.1 L746.3 1268.4 L744.7 1269.4 L743.6 1269.9 L743.2 1269.9 L743.5 1269.3 L744.5 1268.2 L746.3 1266.6 L749 1264.3 L752.3 1261.5 L755.9 1258.2 L759.3 1254.4 L762.3 1250.1 L765.1 1245.4 L767.7 1240.3 L770.3 1234.7 L773.2 1228.4 L776.5 1221.1 L780.4 1212.7 L784.8 1203.3 L789.6 1192.9 L794.6 1182 L799.9 1170.7 L805.3 1159 L811 1146.8 L816.9 1134.2 L822.8 1121.5 L828.6 1109 L834.1 1096.9 L839.3 1085.3 L844.2 1074 L848.9 1062.8 L853.5 1051.7 L858 1040.4 L862.4 1029.1 L866.7 1017.6 L870.8 1006.4 L874.5 995.6 L877.7 985.5 L880.4 976.2 L882.6 967.7 L884.4 959.8 L885.9 952.3 L887.1 945.2 L888.1 938.3 L888.8 931.8 L889.3 925.6 L889.5 919.8 L889.6 914.2 L889.4 909 L889.2 904.3 L888.9 899.9 L888.5 896.1 L888 892.9 L887.6 890.3 L887.2 888.4 L886.9 887.1 L886.7 886.4 L886.8 886.3 L887.1 886.8 L887.7 887.8 L888.7 889.4 L890.1 891.4 L891.9 894 L894 897.1 L896.4 900.6 L899 904.7 L901.8 909.2 L904.9 914 L908.3 919.4 L912.1 925.4 L916.5 932.2 L921.7 940.1 L927.6 949 L934 958.6 L940.7 968.7 L947.8 979.2 L955 990.1 L962.6 1001.4 L970.4 1013.1 L978.2 1024.9 L986 1036.5 L993.6 1047.6 L1000.9 1058.2 L1008.1 1068.5 L1015.2 1078.4 L1022.4 1088.3 L1029.7 1098.1 L1037.1 1108 L1044.6 1117.8 L1052.1 1127.4 L1059.4 1136.5 L1066.3 1144.7 L1072.7 1152.1 L1078.8 1158.7 L1084.5 1164.6 L1090.1 1170 L1095.5 1174.9 L1100.8 1179.4 L1106 1183.4 L1111.1 1187 L1116.1 1190.2 L1120.9 1193 L1125.4 1195.4 L1129.7 1197.6 L1133.6 1199.4 L1137.1 1201 L1140.1 1202.3 L1142.5 1203.4 L1144.3 1204.2 L1145.4 1204.9 L1145.8 1205.5 L1145.6 1206.1 L1144.7 1206.7 L1143.1 1207.3 L1140.9 1208.1 L1137.9 1209.1 L1134.3 1210.2 L1130 1211.5 L1125.1 1212.9 L1119.5 1214.3 L1113.5 1215.8 L1107 1217.2 L1100.1 1218.6 L1092.4 1219.9 L1083.7 1221.2 L1073.8 1222.6 L1062.7 1224 L1050.7 1225.4 L1038.2 1226.9 L1025.2 1228.4 L1011.8 1229.8 L997.8 1231.3 L983.5 1232.7 L969 1234.1 L954.8 1235.5 L941.1 1236.9 L927.9 1238.4 L915.2 1239.9 L902.8 1241.5 L890.4 1243.1 L878 1244.9 L865.5 1246.7 L853 1248.6 L840.8 1250.6 L829.1 1252.7 L818.3 1254.8 L808.4 1257.1 L799.4 1259.4 L791.2 1261.9 L783.4 1264.5 L776.1 1267.3 L769.2 1270.3 L762.8 1273.4 L756.8 1276.6 L751.2 1279.9 L746.1 1283.2 L741.3 1286.4 L737 1289.7 L733 1292.9 L729.3 1296 L726.1 1298.9 L723.5 1301.3 L721.5 1303 L720.2 1303.9 L719.5 1304 L719.3 1303.2 L719.5 1301.7 L720.1 1299.3 L721 1296.2 L722.3 1292 L724.2 1286.5 L726.9 1279.3 L730.4 1270.5 L734.4 1260.5 L738.8 1250 L743.3 1239.4 L747.9 1228.8 L752.5 1218.3 L757.1 1207.6 L761.8 1196.7 L766.6 1185.7 L771.4 1174.4 L776.4 1162.8 L781.7 1150.8 L787.3 1138.2 L793.2 1125 L799.5 1111.3 L805.9 1097.4 L812.3 1083.5 L818.6 1069.8 L824.7 1056.4 L830.5 1043.4 L836 1030.8 L841.1 1018.7 L845.8 1007.1 L850 996.1 L853.9 985.6 L857.3 975.7 L860.4 966.3 L863 957.3 L865.4 948.7 L867.5 940.4 L869.4 932.2 L871.1 924.1 L872.5 916 L873.6 908.1 L874.4 900.5 L874.9 893.3 L875 886.6 L874.8 880.4 L874.3 874.6 L873.6 869.3 L872.8 864.4 L871.8 859.9 L870.7 855.9 L869.8 852.6 L869.2 850.2 L869.1 848.7 L869.4 848 L870.2 848.2 L871.5 849 L873.4 850.5 L875.8 852.6 L878.9 855.5 L882.9 859.6 L888.1 865.1 L894.2 872.1 L901.1 880.1 L908.3 888.8 L915.4 897.7 L922.4 906.7 L929.3 915.9 L936.3 925.2 L943.3 934.7 L950.5 944.4 L957.9 954.2 L965.5 964.3 L973.3 974.9 L981.4 986 L989.9 997.7 L998.7 1009.9 L1007.6 1022.4 L1016.4 1034.9 L1025.2 1047.1 L1033.8 1059 L1042.2 1070.6 L1050.4 1081.6 L1058.4 1092.1 L1066.1 1101.9 L1073.5 1111.1 L1080.7 1119.7 L1087.5 1127.6 L1094.2 1135 L1100.6 1141.8 L1106.8 1148.2 L1113 1154.2 L1119.2 1160 L1125.3 1165.6 L1131.5 1171 L1137.7 1176.1 L1143.8 1180.7 L1149.7 1184.9 L1155.4 1188.4 L1160.9 1191.4 L1166.2 1193.9 L1171.2 1195.8 L1176 1197.4 L1180.5 1198.5 L1184.7 1199.3 L1188.2 1199.7 L1190.9 1199.9 L1192.7 1200 L1193.4 1199.9 L1193.3 1199.9 L1192.3 1199.9 L1190.6 1200 L1188 1200.3 L1184.4 1200.6 L1179.4 1201.1 L1172.7 1201.7 L1164.2 1202.3 L1154.5 1203 L1144 1203.8 L1133.2 1204.6 L1122.2 1205.7 L1110.9 1207 L1099.1 1208.6 L1087 1210.5 L1074.6 1212.5 L1062 1214.7 L1049 1216.9 L1035.5 1219.2 L1021.4 1221.4 L1006.5 1223.7 L991 1226.1 L975.2 1228.4 L959.4 1230.7 L943.9 1233 L928.8 1235.2 L914.2 1237.4 L900.2 1239.5 L886.9 1241.6 L874.3 1243.7 L862.4 1245.8 L851.2 1248.1 L840.6 1250.4 L830.7 1252.9 L821.3 1255.5 L812.4 1258.1 L803.8 1260.8 L795.5 1263.7 L787.4 1266.6 L779.4 1269.5 L771.7 1272.6 L764.5 1275.8 L757.7 1279.2 L751.6 1282.7 L746.1 1286.3 L741 1290.1 L736.6 1293.8 L732.6 1297.6 L729 1301.5 L725.9 1305.4 L723.2 1309.2 L721 1312.6 L719.4 1315.3 L718.4 1317.1 L717.9 1317.9 L717.9 1317.9 L718.3 1317 L719 1315.3 L719.9 1313 L721.1 1310 L722.6 1306.3 L724.4 1301.9 L726.6 1296.8 L729.2 1290.7 L732.4 1283.4 L736.2 1274.8 L740.5 1264.7 L745.3 1253.3 L750.3 1240.9 L755.4 1227.9 L760.6 1214.6 L765.8 1201.2 L771 1187.7 L776.3 1174 L781.8 1159.8 L787.6 1145.1 L793.8 1129.8 L800.1 1114.2 L806.5 1098.6 L812.7 1083.5 L818.6 1069 L824.2 1055.2 L829.5 1041.8 L834.5 1028.9 L839.3 1016.3 L843.9 1003.8 L848.3 991.5 L852.4 979.5 L856.3 967.6 L859.9 956.2 L863.1 945.1 L866 934.5 L868.6 924.3 L870.9 914.3 L873 904.5 L874.8 895 L876 886.1 L876.7 878 L876.8 870.6 L876.3 863.9 L875.4 857.9 L874.2 852.4 L872.7 847.3 L871 842.5 L869.1 838.2 L867.3 834.6 L865.7 831.8 L864.7 830 L864.2 829.2 L864.2 829.3 L864.7 830.1 L865.7 831.6 L867.2 833.7 L869.2 836.3 L871.6 839.5 L874.5 843.3 L877.8 847.9 L881.8 853.2 L886.5 859.6 L892.1 867.1 L898.8 875.7 L906.4 885.4 L914.8 895.8 L923.6 906.6 L932.6 917.6 L941.7 928.7 L950.9 939.8 L960.2 951.1 L969.8 962.8 L979.8 975 L990 987.8 L1000.5 1001 L1010.9 1014.2 L1021 1027 L1030.7 1039.2 L1040 1050.8 L1049 1061.9 L1057.8 1072.6 L1066.4 1082.9 L1075 1093 L1083.5 1102.8 L1092 1112.3 L1100.4 1121.5 L1108.6 1130.2 L1116.6 1138.5 L1124.4 1146.2 L1132.1 1153.4 L1139.6 1160.4 L1147.1 1167 L1154.5 1173.3 L1161.6 1178.8 L1168.3 1183.5 L1174.6 1187.3 L1180.6 1190.4 L1186.2 1192.8 L1191.5 1194.6 L1196.7 1195.9 L1201.7 1196.7 L1206.4 1197.2 L1210.5 1197.3 L1213.8 1197.2 L1216.1 1196.9 L1217.2 1196.4 L1217.4 1196 L1216.7 1195.5 L1215.2 1195 L1213.1 1194.7 L1210.2 1194.4 L1206.6 1194.1 L1202.3 1194 L1197.2 1193.8 L1191 1193.7 L1183.7 1193.6 L1175.1 1193.6 L1165 1193.7 L1153.6 1194 L1141.2 1194.6 L1128.3 1195.3 L1115 1196.4 L1101.4 1197.7 L1087.5 1199.4 L1073.3 1201.4 L1058.4 1203.7 L1042.9 1206.1 L1026.6 1208.6 L1009.9 1211.2 L993.2 1213.7 L976.9 1216.3 L961.2 1218.9 L946.2 1221.6 L931.8 1224.3 L917.9 1226.9 L904.4 1229.5 L891.3 1232 L878.6 1234.4 L866.3 1236.7 L854.4 1238.9 L843 1241.1 L832.3 1243.3 L822.1 1245.4 L812.4 1247.6 L803 1249.9 L794 1252.2 L785.4 1254.6 L777.5 1257.1 L770.6 1259.7 L764.7 1262.3 L759.6 1265 L755.2 1267.8 L751.5 1270.7 L748.2 1273.7 L745.3 1276.9 L742.8 1280.3 L740.6 1283.9 L738.6 1287.6 L736.7 1291.5 L734.9 1295.5 L733.1 1299.6 L731.1 1303.9 L729.1 1308.3 L727.1 1312.6 L725.2 1316.3 L723.9 1319.1 L723.2 1320.7 L723.1 1321.2 L723.5 1320.7 L724.4 1319.4 L725.5 1317.4 L726.9 1314.7 L728.5 1311.4 L730.2 1307.3 L732.2 1302.4 L734.5 1296.3 L737.2 1289 L740.4 1280.1 L744.1 1269.6 L748.4 1257.6 L753.1 1244.6 L758 1231.1 L763.1 1217.4 L768.2 1203.4 L773.7 1188.6 L780 1172.5 L787.2 1154.8 L794.8 1136.3 L801.9 1118.7 L808.1 1102.9 L813.1 1089.2 L817.5 1076.8 L821.7 1065 L826 1053.1 L830.6 1040.9 L835.3 1028.3 L840.2 1015.6 L845.1 1002.8 L849.8 990.1 L854.2 977.7 L858.3 965.8 L862 954.5 L865.3 943.8 L868 933.8 L870.4 924.4 L872.3 915.5 L873.7 907.2 L874.8 899.3 L875.4 891.8 L875.7 884.6 L875.6 877.5 L875.3 870.6 L874.7 863.8 L874 857 L873 850.4 L871.8 843.9 L870.4 837.6 L868.9 831.7 L867.5 826.6 L866.5 822.7 L866.1 820.3 L866.3 819.1 L866.9 819 L867.9 819.7 L869.4 821.2 L871.3 823.3 L873.6 825.9 L876.4 829.2 L879.9 833.1 L884.1 837.9 L889.2 843.8 L895.4 851 L902.6 859.5 L910.8 869.3 L919.6 880 L928.7 891.3 L937.9 902.8 L947.3 914.6 L957.1 927.2 L967.7 941.1 L979.3 956.5 L991.3 972.6 L1002.9 988 L1013.3 1001.4 L1022.6 1012.9 L1031 1023.1 L1039.1 1032.8 L1047.1 1042.7 L1055.4 1052.9 L1063.8 1063.4 L1072.3 1074.2 L1080.9 1084.9 L1089.5 1095.4 L1097.9 1105.5 L1106.2 1115.2 L1114.1 1124.2 L1121.7 1132.4 L1128.9 1139.9 L1135.9 1146.7 L1142.5 1152.9 L1148.9 1158.5 L1155.1 1163.6 L1161.2 1168.1 L1167.2 1172.2 L1173.2 1176 L1179.2 1179.5 L1185.2 1182.7 L1191.2 1185.7 L1197.3 1188.5 L1203.4 1190.9 L1209.5 1193 L1215.3 1194.8 L1220.4 1196.2 L1224.3 1197.2 L1226.7 1197.9 L1227.9 1198.4 L1227.9 1198.5 L1227.1 1198.5 L1225.5 1198.3 L1223.3 1197.9 L1220.4 1197.5 L1216.9 1197 L1212.6 1196.6 L1207.2 1196.3 L1200.6 1196 L1192.5 1195.8 L1182.7 1195.6 L1171.4 1195.5 L1159 1195.4 L1145.9 1195.5 L1132.5 1195.7 L1118.6 1196 L1103.8 1196.5 L1087.3 1197.2 L1069 1198 L1049.8 1198.9 L1031.4 1200.1 L1015.1 1201.4 L1000.9 1202.9 L988 1204.7 L975.6 1206.8 L962.8 1209.2 L949.5 1211.8 L935.7 1214.6 L921.7 1217.3 L907.7 1220.1 L894 1222.7 L880.7 1225.3 L868.1 1227.8 L856.3 1230.2 L845.4 1232.6 L835.4 1235 L826.2 1237.2 L817.7 1239.4 L810 1241.5 L803 1243.5 L796.7 1245.4 L790.8 1247.3 L785.5 1249.1 L780.4 1250.8 L775.6 1252.6 L771.1 1254.3 L766.9 1256.1 L763.1 1257.9 L759.6 1259.7 L756.4 1261.6 L753.7 1263.5 L751.4 1265.5 L749.4 1267.5 L747.7 1269.6 L746.3 1271.7 L745.1 1273.9 L744 1276.1 L743.1 1278.4 L742.2 1280.8 L741.3 1283.3 L740.3 1285.8 L739.3 1288.3 L738.1 1290.9 L736.9 1293.4 L735.6 1295.9 L734.3 1298.4 L733 1300.8 L731.6 1303 L730.2 1305.2 L728.6 1307.3 L726.8 1309.4 L724.7 1311.6 L722.4 1314.1 L719.8 1316.6 L717.2 1318.8 L714.9 1320.2 L713 1320.5 L711.4 1319.5 L710.2 1317.3 L709.3 1314.3 L708.5 1310.4 L707.9 1305.9 L707.6 1300.9 L707.6 1295.4 L707.9 1289.6 L708.6 1283.2 L709.7 1276.3 L711.3 1268.7 L713.4 1260.2 L716.2 1250.8 L719.6 1240.3 L723.6 1229.2 L727.9 1217.4 L732.6 1205.4 L737.4 1193.2 L742.3 1180.9 L747.4 1168.6 L752.6 1156.1 L758.1 1143.2 L763.9 1129.6 L770.2 1115.2 L776.9 1100 L784.1 1084 L791.5 1067.4 L798.9 1050.7 L806.1 1034.3 L812.8 1018.7 L818.9 1004.1 L824.2 990.6 L828.9 978.3 L832.8 967 L836.1 956.7 L838.9 947.1 L841.2 938.2 L843.2 929.7 L845 921.4 L846.7 913.4 L848.2 905.7 L849.7 898.2 L851 891 L852.2 884.1 L853.4 877.6 L854.5 871.4 L855.5 865.5 L856.3 859.8 L856.9 854.3 L857.3 848.7 L857.5 843.3 L857.8 838.5 L858.4 834.5 L859.7 831.9 L861.7 830.4 L864.4 830 L867.7 830.4 L871.5 831.5 L875.7 833.4 L880 835.9 L884.3 839.3 L888.7 843.4 L893.2 848.3 L897.9 854 L903 860.6 L908.4 868.1 L914.4 876.8 L920.8 886.4 L927.7 896.8 L935 907.7 L942.5 918.8 L950.3 929.8 L958.1 940.8 L966.1 951.6 L974.4 962.4 L983 973.4 L992.1 984.7 L1001.8 996.7 L1012.1 1009.3 L1023 1022.6 L1034.3 1036.2 L1045.8 1049.8 L1057 1063 L1068 1075.4 L1078.3 1086.7 L1088 1096.9 L1097.2 1105.8 L1105.7 1113.7 L1113.6 1120.6 L1121.1 1126.7 L1128.3 1132.3 L1135.1 1137.4 L1141.8 1142.3 L1148.4 1147 L1154.8 1151.4 L1161 1155.6 L1167.1 1159.6 L1172.9 1163.2 L1178.6 1166.4 L1184.1 1169.3 L1189.4 1171.8 L1194.7 1174.1 L1200.1 1175.9 L1205.6 1177.5 L1211.2 1178.7 L1216.3 1179.5 L1220.6 1180 L1223.7 1180.1" fill="none" stroke="#1c1cff" stroke-width="3" stroke-opacity="0.16" stroke-linejoin="round" stroke-linecap="round" clip-path="url(#cc)"/>
<path d="M885.2 898.8 L888.4 902.7 L893 907.2 L898.4 912.1 L903.9 917.4 L909 923.1 L913.9 929.3 L918.9 936.2 L924.3 944.1 L930.3 952.8 L936.5 962.2 L943 971.9 L949.5 981.6 L955.9 991.2 L962.3 1000.8 L968.8 1010.4 L975.5 1020.3 L982.4 1030.5 L989.5 1041 L996.9 1051.8 L1004.4 1062.7 L1012 1073.7 L1019.6 1084.6 L1027.2 1095.3 L1034.6 1105.6 L1041.8 1115.4 L1048.7 1124.5 L1055.3 1132.8 L1061.5 1140.4 L1067.3 1147.2 L1072.8 1153.3 L1078 1158.9 L1083 1164.1 L1087.9 1168.9 L1092.7 1173.5 L1097.3 1177.7 L1101.7 1181.6 L1106 1185.2 L1110.1 1188.6 L1114 1191.7 L1117.7 1194.5 L1121.1 1197.1 L1124.4 1199.4 L1127.5 1201.5 L1130.3 1203.3 L1132.9 1204.9 L1135.2 1206.2 L1137 1207.3 L1138.2 1208.3 L1138.7 1209.2 L1138.3 1210.1 L1136.9 1211 L1134.6 1211.7 L1131.4 1212.2 L1127.4 1212.6 L1122.8 1212.6 L1117.7 1212.5 L1112 1212.5 L1105.9 1212.5 L1099.3 1212.6 L1091.9 1212.9 L1083.6 1213.3 L1074.3 1213.8 L1063.9 1214.3 L1052.7 1214.9 L1041.1 1215.5 L1029.5 1216.1 L1017.9 1216.8 L1006.4 1217.6 L994.8 1218.4 L982.9 1219.3 L970.5 1220.3 L957.7 1221.3 L944.6 1222.5 L931.1 1223.8 L917.6 1225.3 L904.1 1226.9 L890.7 1228.6 L877.7 1230.4 L865.3 1232.4 L853.5 1234.5 L842.5 1236.8 L832.3 1239.2 L823 1241.8 L814.3 1244.5 L806.2 1247.4 L798.5 1250.4 L791 1253.6 L783.9 1256.8 L777.2 1259.9 L770.9 1263 L765 1265.9 L759.6 1268.6 L754.7 1270.9 L750.3 1272.8 L746.5 1274.2 L743.3 1275.1 L740.7 1275.4 L738.8 1275 L737.5 1274.1 L736.9 1272.6 L736.9 1270.4 L737.3 1267.7 L738.2 1264.3 L739.4 1260.4 L741 1256 L743 1251 L745.4 1245.7 L748.4 1239.9 L752.1 1233.5 L756.3 1226.4 L761 1218.4 L766.1 1209.5 L771.5 1200 L776.8 1190.2 L782 1180.4 L787.1 1170.6 L792.2 1160.9 L797.3 1150.9 L802.7 1140.3 L808.6 1128.8 L815 1116.3 L821.9 1102.8 L829.1 1088.9 L836.1 1074.9 L843 1061.2 L849.4 1048 L855.3 1035.3 L860.7 1023.4 L865.5 1012.2 L869.6 1001.9 L873.1 992.4 L876.1 983.6 L878.5 975.4 L880.5 967.7 L882.2 960.4 L883.5 953.2 L884.5 946.4 L885.2 939.7 L885.6 933.2 L885.7 926.9 L885.6 920.8 L885.3 914.9 L884.9 909.3 L884.4 904 L883.8 899.2 L883.3 894.9 L882.7 891.2 L882.3 888.1 L882 885.8 L881.9 884.2 L882 883.4 L882.5 883.3 L883.2 883.9 L884.3 885 L885.8 886.8 L887.7 889.1 L889.8 892 L892.4 895.5 L895.2 899.5 L898.3 904 L901.6 909 L905.2 914.4 L909.2 920.3 L913.6 926.8 L918.6 934.2 L924.1 942.4 L930.1 951.1 L936.2 960.1 L942.4 969 L948.5 977.9 L954.7 986.8 L961 995.9 L967.7 1005.5 L974.9 1016 L982.7 1027.6 L991 1040.1 L999.7 1053 L1008.5 1065.9 L1017.1 1078.5 L1025.4 1090.4 L1033.5 1101.7 L1041.2 1112.2 L1048.6 1121.8 L1055.6 1130.5 L1062.1 1138.2 L1068.3 1145 L1074.2 1151.2 L1079.9 1156.7 L1085.5 1161.8 L1091.1 1166.4 L1096.6 1170.7 L1102 1174.6 L1107.4 1178.2 L1112.8 1181.5 L1118.2 1184.4 L1123.5 1187.1 L1128.5 1189.5 L1133.4 1191.7 L1137.8 1193.7 L1141.9 1195.3 L1145.3 1196.8 L1148.2 1197.9 L1150.3 1198.9 L1151.7 1199.7 L1152.2 1200.4 L1152 1201 L1151 1201.6 L1149.3 1202.3 L1146.8 1203 L1143.6 1203.9 L1139.7 1204.9 L1135.1 1205.9 L1129.8 1207 L1124 1208 L1117.6 1209 L1110.8 1210 L1103.4 1211.1 L1095.1 1212.2 L1085.9 1213.5 L1075.7 1214.7 L1064.9 1216 L1053.7 1217.3 L1042.6 1218.6 L1031.6 1219.9 L1020.6 1221.1 L1009.4 1222.3 L997.5 1223.5 L984.6 1224.8 L970.5 1226 L955.3 1227.3 L939.6 1228.7 L923.8 1230.2 L908.3 1231.7 L893.5 1233.4 L879.5 1235.1 L866.3 1236.9 L854.1 1238.8 L843 1240.7 L832.9 1242.7 L823.8 1244.7 L815.4 1246.9 L807.7 1249.2 L800.4 1251.7 L793.5 1254.3 L786.9 1257.1 L780.7 1260 L774.8 1263.1 L769.2 1266.1 L764.1 1269.2 L759.3 1272 L754.9 1274.7 L751 1277.1 L747.6 1279.1 L744.7 1280.8 L742.3 1282.1 L740.5 1282.9 L739.1 1283.2 L738.3 1283 L738 1282.2 L738.1 1280.8 L738.6 1278.8 L739.3 1276.2 L740.4 1272.9 L741.7 1268.9 L743.3 1264.1 L745.4 1258.5 L748 1251.9 L751.1 1244.5 L754.8 1236 L759.1 1226.5 L763.9 1216.1 L769 1205.1 L774.1 1193.7 L779.3 1182.3 L784.4 1170.9 L789.6 1159.1 L795.4 1146.7 L801.7 1133.1 L808.9 1118.4 L816.5 1102.8 L824.1 1087.2 L831.4 1072.1 L838.1 1058.1 L844.1 1045.1 L849.5 1033 L854.2 1021.9 L858.3 1011.6 L862 1002.1 L865.1 993.2 L867.9 984.8 L870.3 977 L872.4 969.5 L874.2 962.4 L875.8 955.5 L877 948.9 L878 942.6 L878.8 936.5 L879.2 930.4 L879.4 924.5 L879.4 918.6 L879.2 912.9 L878.9 907.2 L878.6 901.8 L878.2 896.7 L877.8 892.1 L877.4 887.9 L877.1 884.4 L876.8 881.5 L876.7 879.3 L876.6 877.7 L876.8 876.8 L877.2 876.4 L877.9 876.7 L879 877.6 L880.5 879.1 L882.5 881 L884.9 883.5 L887.7 886.5 L891.2 890.1 L895.1 894.6 L899.6 899.9 L904.7 906.1 L910.2 913.5 L916.3 921.9 L922.9 931.2 L930 941.2 L937.2 951.4 L944.5 961.6 L951.8 971.9 L959.3 982.4 L967.2 993.7 L975.7 1006.1 L984.9 1019.7 L994.5 1034.2 L1004.2 1048.7 L1013.5 1062.6 L1022.3 1075.5 L1030.6 1087.4 L1038.3 1098.1 L1045.5 1107.9 L1052.3 1116.7 L1058.7 1124.7 L1064.8 1132 L1070.6 1138.6 L1076.2 1144.7 L1081.6 1150.3 L1086.8 1155.5 L1091.9 1160.4 L1097 1164.8 L1101.9 1168.9 L1106.9 1172.7 L1111.8 1176.1 L1116.9 1179.3 L1121.9 1182.3 L1127 1185 L1132.1 1187.6 L1137 1190 L1141.6 1192.2 L1145.9 1194.1 L1149.7 1195.8 L1152.9 1197.2 L1155.6 1198.3 L1157.7 1199.1 L1159.2 1199.8 L1160 1200.2 L1160.2 1200.6 L1159.7 1200.9 L1158.5 1201.2 L1156.6 1201.5 L1154.1 1201.9 L1151 1202.4 L1147.2 1203 L1142.6 1203.6 L1137 1204.4 L1130.3 1205.3 L1122.5 1206.4 L1113.3 1207.6 L1102.8 1208.9 L1091.1 1210.4 L1078.7 1212 L1065.9 1213.6 L1053.1 1215.3 L1040.2 1217.1 L1027 1218.9 L1012.9 1220.6 L997.6 1222.3 L980.9 1223.9 L963.3 1225.4 L945.6 1226.8 L928.8 1228.1 L913.1 1229.3 L898.7 1230.6 L885.5 1231.8 L873.5 1233 L862.6 1234.3 L852.6 1235.7 L843.3 1237 L834.9 1238.5 L827 1240 L819.6 1241.5 L812.6 1243 L806.1 1244.6 L800 1246.3 L794.2 1248 L788.8 1249.9 L783.7 1251.8 L778.8 1253.9 L774.1 1256.1 L769.5 1258.5 L765.1 1261 L760.7 1263.8 L756.5 1266.7 L752.4 1269.9 L748.5 1273.3 L744.8 1276.9 L741.3 1280.8 L738 1284.7 L735.2 1288.3 L733.1 1291.1 L731.7 1292.8 L731 1293.5 L730.8 1293.1 L731.1 1292 L731.7 1290.2 L732.5 1287.7 L733.7 1284.6 L735.1 1280.8 L736.9 1276.1 L739.1 1270.5 L741.7 1263.9 L744.8 1256.1 L748.5 1247.1 L752.6 1237 L757.1 1226.1 L761.9 1214.5 L766.8 1202.7 L771.5 1191 L776.1 1179.4 L780.7 1168.1 L785.3 1156.7 L790.3 1145 L795.7 1132.7 L801.6 1119.7 L807.9 1106.1 L814.4 1092.4 L820.8 1078.8 L827 1065.7 L832.8 1053.1 L838.3 1041 L843.4 1029.5 L848.2 1018.6 L852.6 1008.1 L856.7 998 L860.5 988.4 L863.9 979.3 L867.1 970.7 L869.9 962.5 L872.4 954.7 L874.6 947.2 L876.6 939.9 L878.3 932.9 L879.7 926 L880.8 919.4 L881.5 913.1 L881.8 907 L881.7 901.2 L881.3 895.5 L880.6 890 L879.6 884.5 L878.2 879.1 L876.7 873.9 L875.2 869.3 L874.1 865.7 L873.5 863.3 L873.4 862.2 L873.8 862.1 L874.6 862.9 L875.9 864.4 L877.5 866.4 L879.6 869.1 L882.1 872.4 L885.2 876.4 L888.9 881.2 L893.3 886.9 L898.5 893.6 L904.4 901.2 L911.1 909.9 L918.3 919.3 L926 929.2 L933.8 939.3 L941.7 949.2 L949.4 958.9 L957 968.4 L964.6 978.1 L972.4 988.1 L980.4 998.9 L988.7 1010.4 L997.4 1022.5 L1006.1 1034.9 L1014.7 1047.2 L1023.1 1059 L1031.2 1070.3 L1038.9 1081 L1046.4 1091.1 L1053.6 1100.6 L1060.5 1109.6 L1067.2 1118.1 L1073.7 1126.1 L1079.9 1133.6 L1085.9 1140.5 L1091.6 1147 L1097.1 1153 L1102.5 1158.7 L1107.8 1164.1 L1113.1 1169.2 L1118.3 1173.9 L1123.5 1178.1 L1128.6 1181.9 L1133.7 1185.1 L1138.9 1187.8 L1144.1 1190.2 L1149.4 1192.1 L1154.9 1193.6 L1160.5 1194.8 L1166 1195.7 L1171 1196.2 L1175 1196.5 L1177.7 1196.6 L1179.1 1196.5 L1179.3 1196.2 L1178.6 1195.9 L1177.1 1195.5 L1175 1195.1 L1172.1 1194.6 L1168.6 1194.2 L1164.2 1193.7 L1159 1193.1 L1152.7 1192.6 L1145.3 1192.1 L1136.6 1191.7 L1126.7 1191.6 L1115.8 1191.7 L1104.1 1192 L1092 1192.7 L1079.9 1193.8 L1067.9 1195.1 L1056 1196.7 L1043.8 1198.5 L1031.1 1200.3 L1017.5 1202.3 L1003 1204.3 L987.8 1206.4 L972.2 1208.5 L956.7 1210.7 L941.7 1212.9 L927.4 1215.1 L913.8 1217.2 L901 1219.3 L888.8 1221.2 L877.3 1223.1 L866.4 1224.9 L856.1 1226.7 L846.5 1228.5 L837.4 1230.2 L828.8 1232 L820.8 1233.8 L813.2 1235.7 L805.9 1237.5 L798.9 1239.4 L792.4 1241.3 L786.4 1243.2 L780.9 1245.2 L776 1247.2 L771.7 1249.2 L767.8 1251.2 L764.4 1253.3 L761.3 1255.5 L758.6 1257.7 L756.3 1260.1 L754.2 1262.5 L752.4 1265.1 L750.8 1267.8 L749.3 1270.6 L747.9 1273.5 L746.6 1276.5 L745.3 1279.5 L744 1282.6 L742.7 1285.6 L741.7 1288.3 L741.1 1290.4 L740.9 1291.8 L741.2 1292.4 L741.8 1292.3 L742.7 1291.5 L743.7 1290 L744.8 1287.9 L746 1285.2 L747.1 1281.8 L748.3 1277.7 L749.5 1272.9 L750.7 1267.6 L752.1 1261.7 L753.6 1255.4 L755.4 1248.4 L757.6 1240.5 L760.3 1231.7 L763.6 1221.8 L767.4 1210.8 L771.5 1199.2 L775.9 1187.3 L780.3 1175.4 L784.8 1163.7 L789.3 1152 L793.9 1140.2 L798.7 1128.2 L803.8 1116 L809 1103.4 L814.4 1090.6 L819.8 1077.6 L825.3 1064.6 L830.7 1051.6 L835.9 1038.8 L840.9 1026.4 L845.5 1014.7 L849.7 1003.6 L853.4 993.2 L856.8 983.5 L859.7 974.4 L862.3 965.9 L864.5 957.8 L866.5 950 L868.3 942.4 L870 934.7 L871.6 927 L873 919.5 L874.1 912.2 L874.8 905.3 L875.2 898.9 L875.2 893 L874.9 887.5 L874.3 882.3 L873.7 877.4 L873 873.2 L872.5 869.8 L872.4 867.3 L872.5 865.8 L873 865.2 L873.8 865.5 L874.9 866.4 L876.4 868.1 L878.2 870.3 L880.6 873.1 L883.4 876.5 L886.6 880.3 L890.3 884.7 L894.3 889.4 L898.8 894.5 L903.6 900.1 L909.1 906.3 L915.2 913.5 L922 921.6 L929.4 930.6 L937.3 940.2 L945.3 950.1 L953.3 960 L961.2 969.9 L969.1 979.8 L976.9 989.9 L984.8 1000.1 L992.8 1010.7 L1001.1 1021.7 L1009.4 1032.8 L1017.9 1044.1 L1026.4 1055.4 L1035 1066.7 L1043.4 1077.7 L1051.5 1088.3 L1059.4 1098.3 L1066.8 1107.6 L1073.8 1116.2 L1080.5 1124.2 L1086.8 1131.5 L1092.8 1138.2 L1098.6 1144.4 L1104.2 1150.2 L1109.8 1155.7 L1115.5 1161.2 L1121.4 1166.5 L1127.2 1171.5 L1133.1 1176 L1138.7 1179.9 L1144.2 1183.1 L1149.6 1185.8 L1154.8 1187.8 L1159.9 1189.5 L1164.7 1190.8 L1169.1 1191.7 L1172.7 1192.3 L1175.3 1192.7 L1177 1192.8 L1177.7 1192.7 L1177.6 1192.5 L1176.7 1192.1 L1175.1 1191.6 L1172.8 1191 L1169.9 1190.5 L1166.3 1189.9 L1162.2 1189.3 L1157.5 1188.8 L1152.3 1188.4 L1146.5 1188.1 L1140.1 1188.1 L1132.7 1188.3 L1124.2 1188.8 L1114.3 1189.5 L1103.3 1190.6 L1091.4 1191.9 L1079.1 1193.5 L1066.6 1195.2 L1054.1 1197 L1041.6 1198.8 L1028.9 1200.6 L1015.9 1202.5 L1002.6 1204.3 L988.9 1206.2 L974.9 1208.1 L960.8 1209.9 L946.6 1211.7 L932.6 1213.4 L918.8 1215.1 L905.7 1216.6 L893.2 1218.1 L881.6 1219.5 L870.9 1220.9 L860.9 1222.3 L851.7 1223.6 L843.2 1224.9 L835.2 1226.3 L827.7 1227.7 L820.4 1229.2 L813.3 1230.7 L806.2 1232.2 L799.5 1233.9 L793.3 1235.5 L787.7 1237.3 L782.9 1239.1 L778.8 1241 L775.3 1243 L772.2 1245 L769.5 1247.1 L767.2 1249.2 L765.2 1251.4 L763.5 1253.6 L762 1256 L760.7 1258.4 L759.6 1260.8 L758.6 1263.3 L757.7 1265.8 L756.9 1268.3 L756.2 1270.7 L755.5 1273 L754.9 1275.2 L754.4 1277.2 L754 1278.7 L753.6 1279.8 L753.4 1280.3 L753.3 1280.1 L753.2 1279.2 L753.2 1277.7 L753.2 1275.6 L753.3 1272.7 L753.5 1269.2 L753.9 1265.2 L754.5 1260.6 L755.4 1255.3 L756.7 1249.5 L758.4 1242.8 L760.7 1235.2 L763.5 1226.7 L766.8 1217.2 L770.5 1207 L774.6 1196.5 L778.7 1185.8 L783 1175.1 L787.4 1164.4 L792 1153.5 L796.9 1142.2 L802.1 1130.4 L807.6 1118.2 L813.4 1105.6 L819.2 1092.9 L824.9 1080.2 L830.6 1067.7 L836 1055.4 L841.1 1043.5 L846 1032 L850.5 1020.9 L854.7 1010.4 L858.4 1000.3 L861.8 990.8 L864.9 981.8 L867.5 973.3 L869.8 965.3 L871.9 957.6 L873.7 950.2 L875.3 943 L876.8 935.9 L878.1 929 L879.1 922.4 L879.9 916.1 L880.5 910.2 L880.8 904.6 L881 899.4 L881 894.5 L880.9 890 L880.8 885.9 L880.6 882.3 L880.5 879.3 L880.6 877 L880.9 875.6 L881.5 874.9 L882.4 875.1 L883.5 876 L885.1 877.7 L887 880.1 L889.3 883.1 L891.9 886.6 L895 890.6 L898.5 895.1 L902.4 899.9 L907 905.4 L912.1 911.7 L917.9 918.8 L924.2 926.8 L931 935.5 L938 944.5 L945 953.8 L952 963 L959 972.4 L966 982 L973.3 992.1 L980.8 1002.7 L988.5 1013.7 L996.5 1025.1 L1004.6 1036.6 L1012.7 1048 L1020.7 1059.3 L1028.5 1070.2 L1036.3 1080.7 L1043.8 1090.7 L1051 1100.3 L1058 1109.2 L1064.8 1117.7 L1071.3 1125.5 L1077.5 1132.8 L1083.4 1139.5 L1089.1 1145.7 L1094.7 1151.4 L1100.1 1156.8 L1105.5 1161.9 L1110.9 1166.8 L1116.3 1171.3 L1121.6 1175.3 L1126.8 1178.9 L1131.9 1181.9 L1136.8 1184.6 L1141.6 1186.8 L1146.2 1188.6 L1150.6 1190.1 L1154.7 1191.2 L1158.4 1192 L1161.5 1192.5 L1164 1192.8 L1165.7 1192.8 L1166.6 1192.6 L1166.6 1192.1 L1166 1191.4 L1164.5 1190.5 L1162.4 1189.4 L1159.6 1188.3 L1156.1 1187.2 L1152.1 1186.2 L1147.4 1185.4 L1142 1185 L1135.7 1184.9 L1128.4 1185 L1119.9 1185.5 L1110.2 1186.1 L1099.7 1187.1 L1088.5 1188.4 L1076.9 1189.8 L1065.2 1191.5 L1053.3 1193.3 L1041.1 1195.1 L1028.4 1197.1 L1015 1199 L1001.1 1201 L986.8 1203 L972.3 1205.1 L957.8 1207.1 L943.7 1209.1 L929.9 1211 L916.7 1212.8 L904.1 1214.5 L892.2 1216.1 L880.9 1217.6 L870.3 1219.1 L860.4 1220.4 L851.2 1221.8 L842.7 1223.1 L834.8 1224.5 L827.3 1225.8 L820.3 1227.2 L813.5 1228.6 L807.1 1230.1 L801 1231.6 L795.4 1233.3 L790.3 1234.9 L785.7 1236.7 L781.6 1238.6 L777.9 1240.5 L774.6 1242.5 L771.7 1244.6 L769.2 1246.8 L766.9 1249.1 L764.9 1251.4 L763.2 1253.9 L761.7 1256.5 L760.4 1259.1 L759.5 1261.7 L758.8 1264.3 L758.4 1266.8 L758.2 1269.3 L758.2 1271.6 L758.3 1273.7 L758.4 1275.5 L758.4 1276.9 L758.4 1277.8 L758.3 1278.1 L758.3 1277.8 L758.4 1276.9 L758.5 1275.4 L758.6 1273.2 L758.9 1270.3 L759.2 1266.7 L759.7 1262.5 L760.5 1257.6 L761.5 1252.1 L763 1245.8 L764.9 1238.6 L767.3 1230.4 L770.3 1221.2 L773.8 1211 L777.7 1200.3 L781.8 1189.2 L785.9 1178.2 L790.2 1167.2 L794.5 1156.3 L799 1145.3 L803.7 1134.2 L808.7 1122.7 L814 1110.8 L819.5 1098.6 L825.1 1086.2 L830.8 1073.7 L836.5 1061.2 L842 1049 L847.2 1037.1 L852 1025.8 L856.5 1015 L860.5 1004.8 L864.1 995.2 L867.3 986.1 L870.1 977.6 L872.6 969.5 L874.7 961.7 L876.6 954.2 L878.4 946.8 L880.1 939.4 L881.5 932.1 L882.7 925.1 L883.6 918.5 L884.2 912.4 L884.4 906.7 L884.4 901.5 L884.2 896.7 L883.9 892.4 L883.5 888.5 L883 885 L882.6 882.1 L882.3 879.9 L882.2 878.3 L882.4 877.4 L882.8 877.2 L883.5 877.7 L884.7 878.8 L886.2 880.6 L888.1 883.1 L890.4 886.3 L893 890.2 L896.1 894.6 L899.6 899.5 L903.8 905 L908.5 911.1 L914 918.1 L920.1 926 L926.8 934.7 L933.9 943.9 L941.2 953.5 L948.5 963 L955.6 972.6 L962.7 982.1 L969.8 991.8 L976.9 1001.8 L984.3 1012.1 L991.8 1022.8 L999.5 1033.9 L1007.3 1045.2 L1015.2 1056.6 L1023.1 1067.9 L1030.9 1078.9 L1038.5 1089.5 L1045.9 1099.5 L1052.9 1108.9 L1059.6 1117.6 L1066.1 1125.7 L1072.2 1133.2 L1078.2 1140.1 L1083.9 1146.4 L1089.5 1152.2 L1095 1157.7 L1100.5 1162.9 L1106.2 1168 L1111.8 1172.8 L1117.4 1177.2 L1122.8 1181 L1128.1 1184.3 L1133.1 1187 L1137.8 1189.2 L1142.3 1191 L1146.5 1192.4 L1150.4 1193.5 L1153.9 1194.3 L1156.9 1194.9 L1159.4 1195.2 L1161.2 1195.3 L1162.2 1195.2 L1162.6 1194.9 L1162.3 1194.5 L1161.3 1193.9 L1159.6 1193.2 L1157.2 1192.4 L1154.1 1191.3 L1150.3 1190.2 L1145.8 1189.2 L1140.5 1188.4 L1134.5 1187.9 L1127.4 1187.8 L1119.3 1187.9 L1109.9 1188.4 L1099.4 1189.1 L1088.2 1190 L1076.5 1191.1 L1064.7 1192.3 L1053 1193.6 L1041.1 1194.9 L1029.1 1196.3 L1016.8 1197.8 L1004 1199.2 L990.7 1200.8 L977 1202.3 L963 1203.8 L949 1205.3 L935.1 1206.8 L921.5 1208.2 L908.4 1209.6 L896.1 1210.9 L884.4 1212.2 L873.5 1213.5 L863.4 1214.9 L854 1216.2 L845.2 1217.6 L837.1 1219.1 L829.4 1220.6 L822.1 1222.3 L815 1224 L808.1 1225.9 L801.5 1227.8 L795.2 1229.8 L789.6 1231.9 L784.6 1234.1 L780.1 1236.3 L776.2 1238.6 L772.8 1241 L769.7 1243.5 L766.9 1246.1 L764.4 1248.8 L762.1 1251.7 L760 1254.6 L758.2 1257.6 L756.6 1260.6 L755.2 1263.5 L754.1 1266.3 L753.2 1268.9 L752.7 1271.2 L752.6 1273.1 L753 1274.5 L753.8 1275.3 L754.8 1275.6 L755.9 1275.3 L756.9 1274.5 L758 1273.1 L758.9 1271 L759.9 1268.4 L761 1265.1 L762.2 1261.3 L763.5 1256.8 L765.1 1251.6 L767 1245.9 L769.1 1239.4 L771.6 1232.3 L774.5 1224.5 L777.7 1216 L781.2 1206.9 L784.9 1197.4 L788.8 1187.6 L792.7 1177.9 L796.6 1168.2 L800.4 1158.7 L804.3 1149.2 L808.4 1139.5 L812.8 1129.3 L817.6 1118.4 L822.7 1106.9 L828.1 1094.9 L833.6 1082.6 L839 1070.4 L844.2 1058.3 L849 1046.7 L853.4 1035.5 L857.3 1025 L860.8 1015.2 L863.9 1005.9 L866.5 997.1 L868.8 988.9 L870.8 981.1 L872.4 973.5 L873.9 966.1 L875.3 958.8 L876.5 951.5 L877.5 944.3 L878.2 937.3 L878.7 930.7 L878.9 924.4 L878.8 918.6 L878.6 913.2 L878.2 908.2 L877.8 903.7 L877.4 899.8 L877.1 896.6 L876.9 894.1 L876.9 892.4 L877.1 891.5 L877.6 891.2 L878.3 891.6 L879.3 892.7 L880.8 894.3 L882.6 896.4 L884.9 899 L887.5 902.2 L890.4 906.1 L893.8 910.6 L897.5 915.7 L901.7 921.3 L906.3 927.6 L911.4 934.4 L916.9 941.8 L922.9 949.7 L929.1 958 L935.5 966.5 L941.8 975 L948.1 983.4 L954.3 991.8 L960.5 1000.1 L966.8 1008.7 L973.3 1017.8 L980.2 1027.6 L987.5 1037.9 L995.2 1048.8 L1003 1059.9 L1010.8 1070.9 L1018.5 1081.6 L1026.1 1091.9 L1033.4 1101.5 L1040.4 1110.4 L1047 1118.7 L1053.4 1126.2 L1059.5 1133.2 L1065.4 1139.5 L1071.1 1145.3 L1076.7 1150.7 L1082.3 1155.8 L1087.9 1160.8 L1093.7 1165.5 L1099.4 1169.9 L1105.2 1173.9 L1110.8 1177.5 L1116.3 1180.5 L1121.6 1183 L1126.7 1185 L1131.5 1186.7 L1135.9 1188.1 L1139.8 1189 L1143.2 1189.7 L1145.8 1190.1 L1147.7 1190.2 L1148.8 1190.2 L1149.3 1189.9 L1149 1189.5 L1148.1 1189 L1146.6 1188.4 L1144.5 1187.8 L1141.8 1187.3 L1138.4 1186.7 L1134.3 1186.1 L1129.4 1185.6 L1123.7 1185.1 L1117.3 1184.9 L1110.1 1184.8 L1102.2 1185 L1093.4 1185.3 L1083.8 1186 L1073.7 1187 L1063.1 1188.2 L1052.4 1189.7 L1041.7 1191.4 L1031 1193.1 L1020.3 1195 L1009.2 1196.8 L997.7 1198.7 L985.3 1200.5 L972.2 1202.4 L958.6 1204.2 L944.7 1206 L930.9 1207.8 L917.5 1209.6 L904.6 1211.3 L892.5 1213 L881.3 1214.6 L870.8 1216.2 L861.1 1217.8 L852.2 1219.4 L843.9 1221 L836.2 1222.7 L828.9 1224.5 L821.9 1226.3 L815.1 1228.2 L808.5 1230.2 L802.2 1232.2 L796.4 1234.2 L791.1 1236.3 L786.4 1238.5 L782.2 1240.7 L778.5 1242.9 L775.3 1245.2 L772.4 1247.5 L769.8 1250 L767.6 1252.5 L765.6 1255.1 L763.9 1257.8 L762.4 1260.6 L761 1263.5 L759.7 1266.6 L758.4 1269.8 L757 1273.4 L755.6 1277 L754.3 1280.3 L753.5 1282.8 L753.4 1284.3 L753.7 1284.7 L754.5 1284.3 L755.4 1283.2 L756.5 1281.4 L757.7 1279.1 L758.9 1276.2 L760.1 1272.8 L761.3 1268.8 L762.5 1264.3 L763.7 1259.2 L764.9 1253.8 L766.3 1247.9 L767.9 1241.4 L770 1234.2 L772.6 1225.9 L775.9 1216.5 L779.7 1206.2 L783.8 1195.4 L788.1 1184.4 L792.4 1173.4 L796.7 1162.4 L801.1 1151.3 L805.7 1140.1 L810.5 1128.6 L815.6 1116.6 L820.9 1104.2 L826.4 1091.5 L831.9 1078.7 L837.3 1066 L842.5 1053.6 L847.2 1041.6 L851.6 1030.3 L855.5 1019.6 L859 1009.6 L862 1000.3 L864.6 991.5 L866.9 983.3 L868.9 975.5 L870.6 968 L872.3 960.6 L873.9 953.1 L875.4 945.6 L876.7 938.3 L877.7 931.5 L878.2 925.2 L878.3 919.4 L878 914.1 L877.3 909.1 L876.4 904.2 L875.1 899.3 L873.7 894.6 L872.3 890.4 L871.2 887.2 L870.7 885.2 L870.6 884.4 L870.9 884.7 L871.6 885.9 L872.4 888 L873.4 890.9 L874.7 894.5 L876.3 898.5 L878.4 902.8 L881.2 907 L884.6 911.2 L888.5 915.3 L892.8 919.7 L897.5 924.5 L902.7 930.1 L908.5 936.7 L914.9 944.3 L921.9 952.8 L929.2 961.8 L936.6 971.1 L944 980.3 L951.4 989.5 L958.8 998.9 L966.2 1008.4 L973.8 1018.3 L981.7 1028.7 L989.8 1039.4 L998.1 1050.5 L1006.5 1061.6 L1014.9 1072.6 L1023.1 1083.2 L1031.1 1093.2 L1038.8 1102.5 L1046.2 1111.2 L1053.2 1119 L1059.9 1126.2 L1066.2 1132.8 L1072.3 1138.7 L1078.1 1144.2 L1083.8 1149.4 L1089.5 1154.4 L1095.3 1159.4 L1101 1164.4 L1106.8 1169.1 L1112.3 1173.3 L1117.6 1176.7 L1122.6 1179.6 L1127.4 1181.8 L1132.2 1183.6 L1137 1185.1 L1142 1186.3 L1147 1187.2 L1151.4 1187.8 L1154.9 1188.2 L1157.1 1188.4 L1158 1188.3 L1157.9 1188 L1156.8 1187.4 L1154.9 1186.5 L1152.3 1185.3 L1149 1183.9 L1145.2 1182.4 L1141 1181.1 L1136.6 1180.3 L1132 1179.9 L1127.1 1179.9 L1121.9 1180.2 L1116.1 1180.7 L1109.3 1181.3 L1101.2 1182 L1091.9 1182.8 L1081.6 1183.7 L1070.6 1184.6 L1059.3 1185.7 L1047.9 1186.8 L1036.5 1188 L1025 1189.3 L1013.2 1190.6 L1000.9 1192 L988.2 1193.4 L974.9 1194.7 L961.4 1196.1 L947.7 1197.4 L934.2 1198.7 L921.2 1200.1 L908.9 1201.4 L897.2 1202.8 L886.4 1204.2 L876.4 1205.7 L867.1 1207.4 L858.6 1209.1 L850.6 1211 L843.1 1212.9 L836 1215 L828.9 1217.1 L821.8 1219.4 L814.7 1221.7 L807.9 1224.1 L801.7 1226.5 L796.2 1229.1 L791.4 1231.7 L787.2 1234.4 L783.5 1237.1 L780.3 1239.8 L777.4 1242.4 L775 1244.8 L772.9 1247.1 L771.3 1249.2 L770 1251 L769.2 1252.5 L768.8 1253.8 L769 1254.7 L769.7 1255.2 L771 1255.3 L772.9 1255 L775 1254.2 L777.2 1253 L779.2 1251.2 L780.9 1249 L782.6 1246.2 L784.2 1242.8 L785.9 1238.9 L787.9 1234.3 L790.1 1229 L792.7 1223 L795.6 1216.1 L799 1208.3 L802.8 1199.6 L807 1190.2 L811.3 1180.3 L815.8 1169.9 L820.6 1159.1 L825.4 1148 L830.4 1136.7 L835.2 1125.6 L839.8 1115 L844.1 1104.9 L848.2 1095.2 L852.1 1085.8 L855.8 1076.7 L859.4 1067.7 L862.9 1058.8 L866.2 1050 L869.4 1041.2 L872.4 1032.5 L875.2 1024.1 L877.6 1015.9 L879.7 1008.1 L881.5 1000.7 L883 993.7 L884.3 986.9 L885.3 980.4 L886 974.2 L886.4 968.4 L886.6 962.8 L886.6 957.4 L886.4 952.4 L886 947.7 L885.6 943.3 L885 939.3 L884.4 935.8 L883.7 932.8 L883 930.4 L882.3 928.5 L881.6 927.3 L880.9 926.7 L880.1 927 L879.3 928.2 L878.5 930.3 L877.7 933.1 L877.2 936.5 L877.2 940 L877.8 943.5 L879 947 L880.8 950.7 L883 954.7 L885.8 959.1 L889 964 L892.8 969.6 L897.1 975.9 L902 983 L907.5 990.9 L913.4 999.5 L919.7 1008.4 L926.4 1017.7 L933.3 1027.4 L940.4 1037.4 L947.6 1047.4 L954.7 1057.3 L961.5 1066.7 L968.1 1075.7 L974.4 1084.2 L980.5 1092.3 L986.5 1100.2 L992.4 1107.9 L998.3 1115.4 L1004.3 1122.8 L1010.3 1130 L1016.3 1137 L1022.3 1143.7 L1028.1 1150 L1033.7 1155.8 L1039.1 1161.2 L1044.4 1166.1 L1049.6 1170.7 L1054.6 1175 L1059.5 1178.9 L1064.3 1182.5 L1068.9 1185.7 L1073.4 1188.6 L1077.7 1191.2 L1081.8 1193.5 L1085.7 1195.6 L1089.3 1197.4 L1092.4 1198.9 L1095.2 1200.1 L1097.4 1201.1 L1099.2 1201.7 L1100.5 1202.1 L1101.1 1202.1 L1101 1201.8 L1100.1 1201 L1098.3 1199.8 L1095.9 1198.4 L1092.8 1197 L1089.3 1196 L1085.5 1195.5 L1081.5 1195.4 L1077 1195.7 L1072.1 1196.3 L1066.6 1196.9 L1060.5 1197.7 L1053.6 1198.5 L1045.7 1199.5 L1036.9 1200.5 L1027.1 1201.6 L1016.6 1202.7 L1005.5 1203.9 L994.1 1205.1 L982.2 1206.3 L969.9 1207.5 L957.6 1208.7 L945.4 1210 L933.7 1211.4 L922.6 1212.8 L911.9 1214.3 L901.5 1215.9 L891.3 1217.6 L881.3 1219.5 L871.5 1221.5 L861.7 1223.6 L852.1 1225.8 L842.7 1228 L833.6 1230.4 L825 1232.7 L816.9 1235.1 L809.3 1237.6 L802.1 1240.1 L795.3 1242.6 L788.8 1245.3 L782.7 1248 L777 1250.7 L771.7 1253.5 L766.8 1256.2 L762.2 1258.8 L758.1 1261.2 L754.5 1263.4 L751.2 1265.4 L748.5 1267.1 L746.3 1268.4 L744.7 1269.4 L743.6 1269.9 L743.2 1269.9 L743.5 1269.3 L744.5 1268.2 L746.3 1266.6 L749 1264.3 L752.3 1261.5 L755.9 1258.2 L759.3 1254.4 L762.3 1250.1 L765.1 1245.4 L767.7 1240.3 L770.3 1234.7 L773.2 1228.4 L776.5 1221.1 L780.4 1212.7 L784.8 1203.3 L789.6 1192.9 L794.6 1182 L799.9 1170.7 L805.3 1159 L811 1146.8 L816.9 1134.2 L822.8 1121.5 L828.6 1109 L834.1 1096.9 L839.3 1085.3 L844.2 1074 L848.9 1062.8 L853.5 1051.7 L858 1040.4 L862.4 1029.1 L866.7 1017.6 L870.8 1006.4 L874.5 995.6 L877.7 985.5 L880.4 976.2 L882.6 967.7 L884.4 959.8 L885.9 952.3 L887.1 945.2 L888.1 938.3 L888.8 931.8 L889.3 925.6 L889.5 919.8 L889.6 914.2 L889.4 909 L889.2 904.3 L888.9 899.9 L888.5 896.1 L888 892.9 L887.6 890.3 L887.2 888.4 L886.9 887.1 L886.7 886.4 L886.8 886.3 L887.1 886.8 L887.7 887.8 L888.7 889.4 L890.1 891.4 L891.9 894 L894 897.1 L896.4 900.6 L899 904.7 L901.8 909.2 L904.9 914 L908.3 919.4 L912.1 925.4 L916.5 932.2 L921.7 940.1 L927.6 949 L934 958.6 L940.7 968.7 L947.8 979.2 L955 990.1 L962.6 1001.4 L970.4 1013.1 L978.2 1024.9 L986 1036.5 L993.6 1047.6 L1000.9 1058.2 L1008.1 1068.5 L1015.2 1078.4 L1022.4 1088.3 L1029.7 1098.1 L1037.1 1108 L1044.6 1117.8 L1052.1 1127.4 L1059.4 1136.5 L1066.3 1144.7 L1072.7 1152.1 L1078.8 1158.7 L1084.5 1164.6 L1090.1 1170 L1095.5 1174.9 L1100.8 1179.4 L1106 1183.4 L1111.1 1187 L1116.1 1190.2 L1120.9 1193 L1125.4 1195.4 L1129.7 1197.6 L1133.6 1199.4 L1137.1 1201 L1140.1 1202.3 L1142.5 1203.4 L1144.3 1204.2 L1145.4 1204.9 L1145.8 1205.5 L1145.6 1206.1 L1144.7 1206.7 L1143.1 1207.3 L1140.9 1208.1 L1137.9 1209.1 L1134.3 1210.2 L1130 1211.5 L1125.1 1212.9 L1119.5 1214.3 L1113.5 1215.8 L1107 1217.2 L1100.1 1218.6 L1092.4 1219.9 L1083.7 1221.2 L1073.8 1222.6 L1062.7 1224 L1050.7 1225.4 L1038.2 1226.9 L1025.2 1228.4 L1011.8 1229.8 L997.8 1231.3 L983.5 1232.7 L969 1234.1 L954.8 1235.5 L941.1 1236.9 L927.9 1238.4 L915.2 1239.9 L902.8 1241.5 L890.4 1243.1 L878 1244.9 L865.5 1246.7 L853 1248.6 L840.8 1250.6 L829.1 1252.7 L818.3 1254.8 L808.4 1257.1 L799.4 1259.4 L791.2 1261.9 L783.4 1264.5 L776.1 1267.3 L769.2 1270.3 L762.8 1273.4 L756.8 1276.6 L751.2 1279.9 L746.1 1283.2 L741.3 1286.4 L737 1289.7 L733 1292.9 L729.3 1296 L726.1 1298.9 L723.5 1301.3 L721.5 1303 L720.2 1303.9 L719.5 1304 L719.3 1303.2 L719.5 1301.7 L720.1 1299.3 L721 1296.2 L722.3 1292 L724.2 1286.5 L726.9 1279.3 L730.4 1270.5 L734.4 1260.5 L738.8 1250 L743.3 1239.4 L747.9 1228.8 L752.5 1218.3 L757.1 1207.6 L761.8 1196.7 L766.6 1185.7 L771.4 1174.4 L776.4 1162.8 L781.7 1150.8 L787.3 1138.2 L793.2 1125 L799.5 1111.3 L805.9 1097.4 L812.3 1083.5 L818.6 1069.8 L824.7 1056.4 L830.5 1043.4 L836 1030.8 L841.1 1018.7 L845.8 1007.1 L850 996.1 L853.9 985.6 L857.3 975.7 L860.4 966.3 L863 957.3 L865.4 948.7 L867.5 940.4 L869.4 932.2 L871.1 924.1 L872.5 916 L873.6 908.1 L874.4 900.5 L874.9 893.3 L875 886.6 L874.8 880.4 L874.3 874.6 L873.6 869.3 L872.8 864.4 L871.8 859.9 L870.7 855.9 L869.8 852.6 L869.2 850.2 L869.1 848.7 L869.4 848 L870.2 848.2 L871.5 849 L873.4 850.5 L875.8 852.6 L878.9 855.5 L882.9 859.6 L888.1 865.1 L894.2 872.1 L901.1 880.1 L908.3 888.8 L915.4 897.7 L922.4 906.7 L929.3 915.9 L936.3 925.2 L943.3 934.7 L950.5 944.4 L957.9 954.2 L965.5 964.3 L973.3 974.9 L981.4 986 L989.9 997.7 L998.7 1009.9 L1007.6 1022.4 L1016.4 1034.9 L1025.2 1047.1 L1033.8 1059 L1042.2 1070.6 L1050.4 1081.6 L1058.4 1092.1 L1066.1 1101.9 L1073.5 1111.1 L1080.7 1119.7 L1087.5 1127.6 L1094.2 1135 L1100.6 1141.8 L1106.8 1148.2 L1113 1154.2 L1119.2 1160 L1125.3 1165.6 L1131.5 1171 L1137.7 1176.1 L1143.8 1180.7 L1149.7 1184.9 L1155.4 1188.4 L1160.9 1191.4 L1166.2 1193.9 L1171.2 1195.8 L1176 1197.4 L1180.5 1198.5 L1184.7 1199.3 L1188.2 1199.7 L1190.9 1199.9 L1192.7 1200 L1193.4 1199.9 L1193.3 1199.9 L1192.3 1199.9 L1190.6 1200 L1188 1200.3 L1184.4 1200.6 L1179.4 1201.1 L1172.7 1201.7 L1164.2 1202.3 L1154.5 1203 L1144 1203.8 L1133.2 1204.6 L1122.2 1205.7 L1110.9 1207 L1099.1 1208.6 L1087 1210.5 L1074.6 1212.5 L1062 1214.7 L1049 1216.9 L1035.5 1219.2 L1021.4 1221.4 L1006.5 1223.7 L991 1226.1 L975.2 1228.4 L959.4 1230.7 L943.9 1233 L928.8 1235.2 L914.2 1237.4 L900.2 1239.5 L886.9 1241.6 L874.3 1243.7 L862.4 1245.8 L851.2 1248.1 L840.6 1250.4 L830.7 1252.9 L821.3 1255.5 L812.4 1258.1 L803.8 1260.8 L795.5 1263.7 L787.4 1266.6 L779.4 1269.5 L771.7 1272.6 L764.5 1275.8 L757.7 1279.2 L751.6 1282.7 L746.1 1286.3 L741 1290.1 L736.6 1293.8 L732.6 1297.6 L729 1301.5 L725.9 1305.4 L723.2 1309.2 L721 1312.6 L719.4 1315.3 L718.4 1317.1 L717.9 1317.9 L717.9 1317.9 L718.3 1317 L719 1315.3 L719.9 1313 L721.1 1310 L722.6 1306.3 L724.4 1301.9 L726.6 1296.8 L729.2 1290.7 L732.4 1283.4 L736.2 1274.8 L740.5 1264.7 L745.3 1253.3 L750.3 1240.9 L755.4 1227.9 L760.6 1214.6 L765.8 1201.2 L771 1187.7 L776.3 1174 L781.8 1159.8 L787.6 1145.1 L793.8 1129.8 L800.1 1114.2 L806.5 1098.6 L812.7 1083.5 L818.6 1069 L824.2 1055.2 L829.5 1041.8 L834.5 1028.9 L839.3 1016.3 L843.9 1003.8 L848.3 991.5 L852.4 979.5 L856.3 967.6 L859.9 956.2 L863.1 945.1 L866 934.5 L868.6 924.3 L870.9 914.3 L873 904.5 L874.8 895 L876 886.1 L876.7 878 L876.8 870.6 L876.3 863.9 L875.4 857.9 L874.2 852.4 L872.7 847.3 L871 842.5 L869.1 838.2 L867.3 834.6 L865.7 831.8 L864.7 830 L864.2 829.2 L864.2 829.3 L864.7 830.1 L865.7 831.6 L867.2 833.7 L869.2 836.3 L871.6 839.5 L874.5 843.3 L877.8 847.9 L881.8 853.2 L886.5 859.6 L892.1 867.1 L898.8 875.7 L906.4 885.4 L914.8 895.8 L923.6 906.6 L932.6 917.6 L941.7 928.7 L950.9 939.8 L960.2 951.1 L969.8 962.8 L979.8 975 L990 987.8 L1000.5 1001 L1010.9 1014.2 L1021 1027 L1030.7 1039.2 L1040 1050.8 L1049 1061.9 L1057.8 1072.6 L1066.4 1082.9 L1075 1093 L1083.5 1102.8 L1092 1112.3 L1100.4 1121.5 L1108.6 1130.2 L1116.6 1138.5 L1124.4 1146.2 L1132.1 1153.4 L1139.6 1160.4 L1147.1 1167 L1154.5 1173.3 L1161.6 1178.8 L1168.3 1183.5 L1174.6 1187.3 L1180.6 1190.4 L1186.2 1192.8 L1191.5 1194.6 L1196.7 1195.9 L1201.7 1196.7 L1206.4 1197.2 L1210.5 1197.3 L1213.8 1197.2 L1216.1 1196.9 L1217.2 1196.4 L1217.4 1196 L1216.7 1195.5 L1215.2 1195 L1213.1 1194.7 L1210.2 1194.4 L1206.6 1194.1 L1202.3 1194 L1197.2 1193.8 L1191 1193.7 L1183.7 1193.6 L1175.1 1193.6 L1165 1193.7 L1153.6 1194 L1141.2 1194.6 L1128.3 1195.3 L1115 1196.4 L1101.4 1197.7 L1087.5 1199.4 L1073.3 1201.4 L1058.4 1203.7 L1042.9 1206.1 L1026.6 1208.6 L1009.9 1211.2 L993.2 1213.7 L976.9 1216.3 L961.2 1218.9 L946.2 1221.6 L931.8 1224.3 L917.9 1226.9 L904.4 1229.5 L891.3 1232 L878.6 1234.4 L866.3 1236.7 L854.4 1238.9 L843 1241.1 L832.3 1243.3 L822.1 1245.4 L812.4 1247.6 L803 1249.9 L794 1252.2 L785.4 1254.6 L777.5 1257.1 L770.6 1259.7 L764.7 1262.3 L759.6 1265 L755.2 1267.8 L751.5 1270.7 L748.2 1273.7 L745.3 1276.9 L742.8 1280.3 L740.6 1283.9 L738.6 1287.6 L736.7 1291.5 L734.9 1295.5 L733.1 1299.6 L731.1 1303.9 L729.1 1308.3 L727.1 1312.6 L725.2 1316.3 L723.9 1319.1 L723.2 1320.7 L723.1 1321.2 L723.5 1320.7 L724.4 1319.4 L725.5 1317.4 L726.9 1314.7 L728.5 1311.4 L730.2 1307.3 L732.2 1302.4 L734.5 1296.3 L737.2 1289 L740.4 1280.1 L744.1 1269.6 L748.4 1257.6 L753.1 1244.6 L758 1231.1 L763.1 1217.4 L768.2 1203.4 L773.7 1188.6 L780 1172.5 L787.2 1154.8 L794.8 1136.3 L801.9 1118.7 L808.1 1102.9 L813.1 1089.2 L817.5 1076.8 L821.7 1065 L826 1053.1 L830.6 1040.9 L835.3 1028.3 L840.2 1015.6 L845.1 1002.8 L849.8 990.1 L854.2 977.7 L858.3 965.8 L862 954.5 L865.3 943.8 L868 933.8 L870.4 924.4 L872.3 915.5 L873.7 907.2 L874.8 899.3 L875.4 891.8 L875.7 884.6 L875.6 877.5 L875.3 870.6 L874.7 863.8 L874 857 L873 850.4 L871.8 843.9 L870.4 837.6 L868.9 831.7 L867.5 826.6 L866.5 822.7 L866.1 820.3 L866.3 819.1 L866.9 819 L867.9 819.7 L869.4 821.2 L871.3 823.3 L873.6 825.9 L876.4 829.2 L879.9 833.1 L884.1 837.9 L889.2 843.8 L895.4 851 L902.6 859.5 L910.8 869.3 L919.6 880 L928.7 891.3 L937.9 902.8 L947.3 914.6 L957.1 927.2 L967.7 941.1 L979.3 956.5 L991.3 972.6 L1002.9 988 L1013.3 1001.4 L1022.6 1012.9 L1031 1023.1 L1039.1 1032.8 L1047.1 1042.7 L1055.4 1052.9 L1063.8 1063.4 L1072.3 1074.2 L1080.9 1084.9 L1089.5 1095.4 L1097.9 1105.5 L1106.2 1115.2 L1114.1 1124.2 L1121.7 1132.4 L1128.9 1139.9 L1135.9 1146.7 L1142.5 1152.9 L1148.9 1158.5 L1155.1 1163.6 L1161.2 1168.1 L1167.2 1172.2 L1173.2 1176 L1179.2 1179.5 L1185.2 1182.7 L1191.2 1185.7 L1197.3 1188.5 L1203.4 1190.9 L1209.5 1193 L1215.3 1194.8 L1220.4 1196.2 L1224.3 1197.2 L1226.7 1197.9 L1227.9 1198.4 L1227.9 1198.5 L1227.1 1198.5 L1225.5 1198.3 L1223.3 1197.9 L1220.4 1197.5 L1216.9 1197 L1212.6 1196.6 L1207.2 1196.3 L1200.6 1196 L1192.5 1195.8 L1182.7 1195.6 L1171.4 1195.5 L1159 1195.4 L1145.9 1195.5 L1132.5 1195.7 L1118.6 1196 L1103.8 1196.5 L1087.3 1197.2 L1069 1198 L1049.8 1198.9 L1031.4 1200.1 L1015.1 1201.4 L1000.9 1202.9 L988 1204.7 L975.6 1206.8 L962.8 1209.2 L949.5 1211.8 L935.7 1214.6 L921.7 1217.3 L907.7 1220.1 L894 1222.7 L880.7 1225.3 L868.1 1227.8 L856.3 1230.2 L845.4 1232.6 L835.4 1235 L826.2 1237.2 L817.7 1239.4 L810 1241.5 L803 1243.5 L796.7 1245.4 L790.8 1247.3 L785.5 1249.1 L780.4 1250.8 L775.6 1252.6 L771.1 1254.3 L766.9 1256.1 L763.1 1257.9 L759.6 1259.7 L756.4 1261.6 L753.7 1263.5 L751.4 1265.5 L749.4 1267.5 L747.7 1269.6 L746.3 1271.7 L745.1 1273.9 L744 1276.1 L743.1 1278.4 L742.2 1280.8 L741.3 1283.3 L740.3 1285.8 L739.3 1288.3 L738.1 1290.9 L736.9 1293.4 L735.6 1295.9 L734.3 1298.4 L733 1300.8 L731.6 1303 L730.2 1305.2 L728.6 1307.3 L726.8 1309.4 L724.7 1311.6 L722.4 1314.1 L719.8 1316.6 L717.2 1318.8 L714.9 1320.2 L713 1320.5 L711.4 1319.5 L710.2 1317.3 L709.3 1314.3 L708.5 1310.4 L707.9 1305.9 L707.6 1300.9 L707.6 1295.4 L707.9 1289.6 L708.6 1283.2 L709.7 1276.3 L711.3 1268.7 L713.4 1260.2 L716.2 1250.8 L719.6 1240.3 L723.6 1229.2 L727.9 1217.4 L732.6 1205.4 L737.4 1193.2 L742.3 1180.9 L747.4 1168.6 L752.6 1156.1 L758.1 1143.2 L763.9 1129.6 L770.2 1115.2 L776.9 1100 L784.1 1084 L791.5 1067.4 L798.9 1050.7 L806.1 1034.3 L812.8 1018.7 L818.9 1004.1 L824.2 990.6 L828.9 978.3 L832.8 967 L836.1 956.7 L838.9 947.1 L841.2 938.2 L843.2 929.7 L845 921.4 L846.7 913.4 L848.2 905.7 L849.7 898.2 L851 891 L852.2 884.1 L853.4 877.6 L854.5 871.4 L855.5 865.5 L856.3 859.8 L856.9 854.3 L857.3 848.7 L857.5 843.3 L857.8 838.5 L858.4 834.5 L859.7 831.9 L861.7 830.4 L864.4 830 L867.7 830.4 L871.5 831.5 L875.7 833.4 L880 835.9 L884.3 839.3 L888.7 843.4 L893.2 848.3 L897.9 854 L903 860.6 L908.4 868.1 L914.4 876.8 L920.8 886.4 L927.7 896.8 L935 907.7 L942.5 918.8 L950.3 929.8 L958.1 940.8 L966.1 951.6 L974.4 962.4 L983 973.4 L992.1 984.7 L1001.8 996.7 L1012.1 1009.3 L1023 1022.6 L1034.3 1036.2 L1045.8 1049.8 L1057 1063 L1068 1075.4 L1078.3 1086.7 L1088 1096.9 L1097.2 1105.8 L1105.7 1113.7 L1113.6 1120.6 L1121.1 1126.7 L1128.3 1132.3 L1135.1 1137.4 L1141.8 1142.3 L1148.4 1147 L1154.8 1151.4 L1161 1155.6 L1167.1 1159.6 L1172.9 1163.2 L1178.6 1166.4 L1184.1 1169.3 L1189.4 1171.8 L1194.7 1174.1 L1200.1 1175.9 L1205.6 1177.5 L1211.2 1178.7 L1216.3 1179.5 L1220.6 1180 L1223.7 1180.1" fill="none" stroke="#1c1cff" stroke-width="1.5" stroke-linejoin="round" stroke-linecap="round" clip-path="url(#cc)"/>
</g>
</svg>
</body></html>
